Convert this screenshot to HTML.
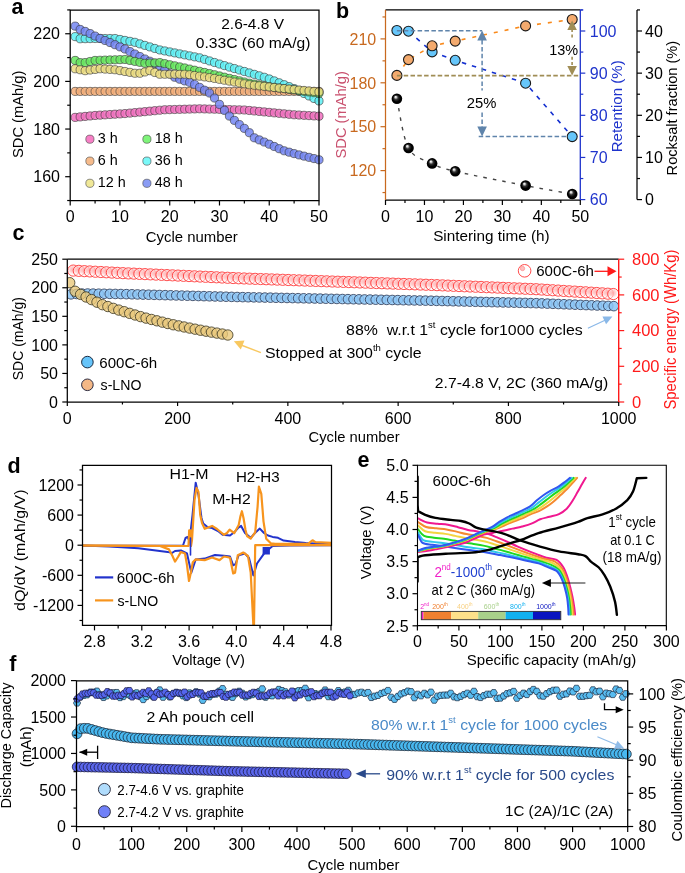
<!DOCTYPE html>
<html><head><meta charset="utf-8"><style>
html,body{margin:0;padding:0;background:#fff;overflow:hidden;}
svg{display:block;will-change:transform;}
text{font-family:"Liberation Sans", sans-serif;}
</style></head><body>
<svg width="685" height="873" viewBox="0 0 685 873">
<defs><radialGradient id="gloss" cx="0.5" cy="0.5" r="0.5" fx="0.36" fy="0.3"><stop offset="0" stop-color="#fff"/><stop offset="0.15" stop-color="#d8d8d8"/><stop offset="0.4" stop-color="#333"/><stop offset="0.7" stop-color="#000"/><stop offset="1" stop-color="#000"/></radialGradient><radialGradient id="bub" cx="0.45" cy="0.4" r="0.6"><stop offset="0" stop-color="#ffa8a8" stop-opacity="0.9"/><stop offset="0.45" stop-color="#ffc8c8" stop-opacity="0.75"/><stop offset="0.8" stop-color="#fff" stop-opacity="0.45"/><stop offset="1" stop-color="#fff" stop-opacity="0.3"/></radialGradient><clipPath id="clipc"><rect x="67.3" y="259.2" width="551.4000000000001" height="142.8"/></clipPath><clipPath id="clipd"><rect x="82.5" y="465.3" width="249.0" height="160.09999999999997"/></clipPath><clipPath id="clipe"><rect x="417.5" y="465.3" width="248.79999999999995" height="160.3"/></clipPath></defs>
<rect width="685" height="873" fill="#fff"/>
<text x="11.50" y="14.00" font-size="21.5" text-anchor="start" font-weight="bold" fill="#000">a</text>
<circle cx="75.18" cy="117.38" r="4.1" fill="#f270c0" fill-opacity="0.85" stroke="#333" stroke-width="0.6"/>
<circle cx="80.15" cy="116.90" r="4.1" fill="#f270c0" fill-opacity="0.85" stroke="#333" stroke-width="0.6"/>
<circle cx="85.13" cy="116.42" r="4.1" fill="#f270c0" fill-opacity="0.85" stroke="#333" stroke-width="0.6"/>
<circle cx="90.10" cy="115.95" r="4.1" fill="#f270c0" fill-opacity="0.85" stroke="#333" stroke-width="0.6"/>
<circle cx="95.08" cy="115.47" r="4.1" fill="#f270c0" fill-opacity="0.85" stroke="#333" stroke-width="0.6"/>
<circle cx="100.06" cy="115.15" r="4.1" fill="#f270c0" fill-opacity="0.85" stroke="#333" stroke-width="0.6"/>
<circle cx="105.03" cy="114.83" r="4.1" fill="#f270c0" fill-opacity="0.85" stroke="#333" stroke-width="0.6"/>
<circle cx="110.01" cy="114.52" r="4.1" fill="#f270c0" fill-opacity="0.85" stroke="#333" stroke-width="0.6"/>
<circle cx="114.98" cy="114.20" r="4.1" fill="#f270c0" fill-opacity="0.85" stroke="#333" stroke-width="0.6"/>
<circle cx="119.96" cy="113.88" r="4.1" fill="#f270c0" fill-opacity="0.85" stroke="#333" stroke-width="0.6"/>
<circle cx="124.94" cy="113.56" r="4.1" fill="#f270c0" fill-opacity="0.85" stroke="#333" stroke-width="0.6"/>
<circle cx="129.91" cy="113.09" r="4.1" fill="#f270c0" fill-opacity="0.85" stroke="#333" stroke-width="0.6"/>
<circle cx="134.89" cy="112.61" r="4.1" fill="#f270c0" fill-opacity="0.85" stroke="#333" stroke-width="0.6"/>
<circle cx="139.86" cy="112.13" r="4.1" fill="#f270c0" fill-opacity="0.85" stroke="#333" stroke-width="0.6"/>
<circle cx="144.84" cy="111.66" r="4.1" fill="#f270c0" fill-opacity="0.85" stroke="#333" stroke-width="0.6"/>
<circle cx="149.82" cy="111.18" r="4.1" fill="#f270c0" fill-opacity="0.85" stroke="#333" stroke-width="0.6"/>
<circle cx="154.79" cy="110.70" r="4.1" fill="#f270c0" fill-opacity="0.85" stroke="#333" stroke-width="0.6"/>
<circle cx="159.77" cy="110.23" r="4.1" fill="#f270c0" fill-opacity="0.85" stroke="#333" stroke-width="0.6"/>
<circle cx="164.74" cy="109.75" r="4.1" fill="#f270c0" fill-opacity="0.85" stroke="#333" stroke-width="0.6"/>
<circle cx="169.72" cy="109.62" r="4.1" fill="#f270c0" fill-opacity="0.85" stroke="#333" stroke-width="0.6"/>
<circle cx="174.70" cy="109.48" r="4.1" fill="#f270c0" fill-opacity="0.85" stroke="#333" stroke-width="0.6"/>
<circle cx="179.67" cy="109.34" r="4.1" fill="#f270c0" fill-opacity="0.85" stroke="#333" stroke-width="0.6"/>
<circle cx="184.65" cy="109.21" r="4.1" fill="#f270c0" fill-opacity="0.85" stroke="#333" stroke-width="0.6"/>
<circle cx="189.62" cy="109.07" r="4.1" fill="#f270c0" fill-opacity="0.85" stroke="#333" stroke-width="0.6"/>
<circle cx="194.60" cy="108.93" r="4.1" fill="#f270c0" fill-opacity="0.85" stroke="#333" stroke-width="0.6"/>
<circle cx="199.58" cy="108.80" r="4.1" fill="#f270c0" fill-opacity="0.85" stroke="#333" stroke-width="0.6"/>
<circle cx="204.55" cy="108.93" r="4.1" fill="#f270c0" fill-opacity="0.85" stroke="#333" stroke-width="0.6"/>
<circle cx="209.53" cy="109.06" r="4.1" fill="#f270c0" fill-opacity="0.85" stroke="#333" stroke-width="0.6"/>
<circle cx="214.50" cy="109.20" r="4.1" fill="#f270c0" fill-opacity="0.85" stroke="#333" stroke-width="0.6"/>
<circle cx="219.48" cy="109.33" r="4.1" fill="#f270c0" fill-opacity="0.85" stroke="#333" stroke-width="0.6"/>
<circle cx="224.46" cy="109.46" r="4.1" fill="#f270c0" fill-opacity="0.85" stroke="#333" stroke-width="0.6"/>
<circle cx="229.43" cy="109.59" r="4.1" fill="#f270c0" fill-opacity="0.85" stroke="#333" stroke-width="0.6"/>
<circle cx="234.41" cy="109.73" r="4.1" fill="#f270c0" fill-opacity="0.85" stroke="#333" stroke-width="0.6"/>
<circle cx="239.38" cy="109.86" r="4.1" fill="#f270c0" fill-opacity="0.85" stroke="#333" stroke-width="0.6"/>
<circle cx="244.36" cy="109.99" r="4.1" fill="#f270c0" fill-opacity="0.85" stroke="#333" stroke-width="0.6"/>
<circle cx="249.34" cy="110.47" r="4.1" fill="#f270c0" fill-opacity="0.85" stroke="#333" stroke-width="0.6"/>
<circle cx="254.31" cy="110.94" r="4.1" fill="#f270c0" fill-opacity="0.85" stroke="#333" stroke-width="0.6"/>
<circle cx="259.29" cy="111.42" r="4.1" fill="#f270c0" fill-opacity="0.85" stroke="#333" stroke-width="0.6"/>
<circle cx="264.26" cy="111.90" r="4.1" fill="#f270c0" fill-opacity="0.85" stroke="#333" stroke-width="0.6"/>
<circle cx="269.24" cy="112.37" r="4.1" fill="#f270c0" fill-opacity="0.85" stroke="#333" stroke-width="0.6"/>
<circle cx="274.22" cy="112.85" r="4.1" fill="#f270c0" fill-opacity="0.85" stroke="#333" stroke-width="0.6"/>
<circle cx="279.19" cy="113.33" r="4.1" fill="#f270c0" fill-opacity="0.85" stroke="#333" stroke-width="0.6"/>
<circle cx="284.17" cy="113.80" r="4.1" fill="#f270c0" fill-opacity="0.85" stroke="#333" stroke-width="0.6"/>
<circle cx="289.14" cy="114.28" r="4.1" fill="#f270c0" fill-opacity="0.85" stroke="#333" stroke-width="0.6"/>
<circle cx="294.12" cy="114.75" r="4.1" fill="#f270c0" fill-opacity="0.85" stroke="#333" stroke-width="0.6"/>
<circle cx="299.10" cy="115.04" r="4.1" fill="#f270c0" fill-opacity="0.85" stroke="#333" stroke-width="0.6"/>
<circle cx="304.07" cy="115.33" r="4.1" fill="#f270c0" fill-opacity="0.85" stroke="#333" stroke-width="0.6"/>
<circle cx="309.05" cy="115.61" r="4.1" fill="#f270c0" fill-opacity="0.85" stroke="#333" stroke-width="0.6"/>
<circle cx="314.02" cy="115.90" r="4.1" fill="#f270c0" fill-opacity="0.85" stroke="#333" stroke-width="0.6"/>
<circle cx="319.00" cy="116.18" r="4.1" fill="#f270c0" fill-opacity="0.85" stroke="#333" stroke-width="0.6"/>
<circle cx="75.18" cy="91.41" r="4.1" fill="#f4ae78" fill-opacity="0.85" stroke="#333" stroke-width="0.6"/>
<circle cx="80.15" cy="91.41" r="4.1" fill="#f4ae78" fill-opacity="0.85" stroke="#333" stroke-width="0.6"/>
<circle cx="85.13" cy="91.41" r="4.1" fill="#f4ae78" fill-opacity="0.85" stroke="#333" stroke-width="0.6"/>
<circle cx="90.10" cy="91.41" r="4.1" fill="#f4ae78" fill-opacity="0.85" stroke="#333" stroke-width="0.6"/>
<circle cx="95.08" cy="91.41" r="4.1" fill="#f4ae78" fill-opacity="0.85" stroke="#333" stroke-width="0.6"/>
<circle cx="100.06" cy="91.41" r="4.1" fill="#f4ae78" fill-opacity="0.85" stroke="#333" stroke-width="0.6"/>
<circle cx="105.03" cy="91.41" r="4.1" fill="#f4ae78" fill-opacity="0.85" stroke="#333" stroke-width="0.6"/>
<circle cx="110.01" cy="91.41" r="4.1" fill="#f4ae78" fill-opacity="0.85" stroke="#333" stroke-width="0.6"/>
<circle cx="114.98" cy="91.41" r="4.1" fill="#f4ae78" fill-opacity="0.85" stroke="#333" stroke-width="0.6"/>
<circle cx="119.96" cy="91.41" r="4.1" fill="#f4ae78" fill-opacity="0.85" stroke="#333" stroke-width="0.6"/>
<circle cx="124.94" cy="91.41" r="4.1" fill="#f4ae78" fill-opacity="0.85" stroke="#333" stroke-width="0.6"/>
<circle cx="129.91" cy="91.41" r="4.1" fill="#f4ae78" fill-opacity="0.85" stroke="#333" stroke-width="0.6"/>
<circle cx="134.89" cy="91.41" r="4.1" fill="#f4ae78" fill-opacity="0.85" stroke="#333" stroke-width="0.6"/>
<circle cx="139.86" cy="91.41" r="4.1" fill="#f4ae78" fill-opacity="0.85" stroke="#333" stroke-width="0.6"/>
<circle cx="144.84" cy="91.41" r="4.1" fill="#f4ae78" fill-opacity="0.85" stroke="#333" stroke-width="0.6"/>
<circle cx="149.82" cy="91.41" r="4.1" fill="#f4ae78" fill-opacity="0.85" stroke="#333" stroke-width="0.6"/>
<circle cx="154.79" cy="91.41" r="4.1" fill="#f4ae78" fill-opacity="0.85" stroke="#333" stroke-width="0.6"/>
<circle cx="159.77" cy="91.41" r="4.1" fill="#f4ae78" fill-opacity="0.85" stroke="#333" stroke-width="0.6"/>
<circle cx="164.74" cy="91.41" r="4.1" fill="#f4ae78" fill-opacity="0.85" stroke="#333" stroke-width="0.6"/>
<circle cx="169.72" cy="91.41" r="4.1" fill="#f4ae78" fill-opacity="0.85" stroke="#333" stroke-width="0.6"/>
<circle cx="174.70" cy="91.41" r="4.1" fill="#f4ae78" fill-opacity="0.85" stroke="#333" stroke-width="0.6"/>
<circle cx="179.67" cy="91.41" r="4.1" fill="#f4ae78" fill-opacity="0.85" stroke="#333" stroke-width="0.6"/>
<circle cx="184.65" cy="91.41" r="4.1" fill="#f4ae78" fill-opacity="0.85" stroke="#333" stroke-width="0.6"/>
<circle cx="189.62" cy="91.41" r="4.1" fill="#f4ae78" fill-opacity="0.85" stroke="#333" stroke-width="0.6"/>
<circle cx="194.60" cy="91.41" r="4.1" fill="#f4ae78" fill-opacity="0.85" stroke="#333" stroke-width="0.6"/>
<circle cx="199.58" cy="91.41" r="4.1" fill="#f4ae78" fill-opacity="0.85" stroke="#333" stroke-width="0.6"/>
<circle cx="204.55" cy="91.41" r="4.1" fill="#f4ae78" fill-opacity="0.85" stroke="#333" stroke-width="0.6"/>
<circle cx="209.53" cy="91.41" r="4.1" fill="#f4ae78" fill-opacity="0.85" stroke="#333" stroke-width="0.6"/>
<circle cx="214.50" cy="91.41" r="4.1" fill="#f4ae78" fill-opacity="0.85" stroke="#333" stroke-width="0.6"/>
<circle cx="219.48" cy="91.41" r="4.1" fill="#f4ae78" fill-opacity="0.85" stroke="#333" stroke-width="0.6"/>
<circle cx="224.46" cy="91.41" r="4.1" fill="#f4ae78" fill-opacity="0.85" stroke="#333" stroke-width="0.6"/>
<circle cx="229.43" cy="91.41" r="4.1" fill="#f4ae78" fill-opacity="0.85" stroke="#333" stroke-width="0.6"/>
<circle cx="234.41" cy="91.41" r="4.1" fill="#f4ae78" fill-opacity="0.85" stroke="#333" stroke-width="0.6"/>
<circle cx="239.38" cy="91.41" r="4.1" fill="#f4ae78" fill-opacity="0.85" stroke="#333" stroke-width="0.6"/>
<circle cx="244.36" cy="91.41" r="4.1" fill="#f4ae78" fill-opacity="0.85" stroke="#333" stroke-width="0.6"/>
<circle cx="249.34" cy="91.41" r="4.1" fill="#f4ae78" fill-opacity="0.85" stroke="#333" stroke-width="0.6"/>
<circle cx="254.31" cy="91.41" r="4.1" fill="#f4ae78" fill-opacity="0.85" stroke="#333" stroke-width="0.6"/>
<circle cx="259.29" cy="91.41" r="4.1" fill="#f4ae78" fill-opacity="0.85" stroke="#333" stroke-width="0.6"/>
<circle cx="264.26" cy="91.41" r="4.1" fill="#f4ae78" fill-opacity="0.85" stroke="#333" stroke-width="0.6"/>
<circle cx="269.24" cy="91.41" r="4.1" fill="#f4ae78" fill-opacity="0.85" stroke="#333" stroke-width="0.6"/>
<circle cx="274.22" cy="91.41" r="4.1" fill="#f4ae78" fill-opacity="0.85" stroke="#333" stroke-width="0.6"/>
<circle cx="279.19" cy="91.41" r="4.1" fill="#f4ae78" fill-opacity="0.85" stroke="#333" stroke-width="0.6"/>
<circle cx="284.17" cy="91.41" r="4.1" fill="#f4ae78" fill-opacity="0.85" stroke="#333" stroke-width="0.6"/>
<circle cx="289.14" cy="91.41" r="4.1" fill="#f4ae78" fill-opacity="0.85" stroke="#333" stroke-width="0.6"/>
<circle cx="294.12" cy="91.41" r="4.1" fill="#f4ae78" fill-opacity="0.85" stroke="#333" stroke-width="0.6"/>
<circle cx="299.10" cy="91.41" r="4.1" fill="#f4ae78" fill-opacity="0.85" stroke="#333" stroke-width="0.6"/>
<circle cx="304.07" cy="91.41" r="4.1" fill="#f4ae78" fill-opacity="0.85" stroke="#333" stroke-width="0.6"/>
<circle cx="309.05" cy="91.41" r="4.1" fill="#f4ae78" fill-opacity="0.85" stroke="#333" stroke-width="0.6"/>
<circle cx="314.02" cy="91.41" r="4.1" fill="#f4ae78" fill-opacity="0.85" stroke="#333" stroke-width="0.6"/>
<circle cx="319.00" cy="91.41" r="4.1" fill="#f4ae78" fill-opacity="0.85" stroke="#333" stroke-width="0.6"/>
<circle cx="75.18" cy="36.61" r="4.1" fill="#5ef0f4" fill-opacity="0.85" stroke="#333" stroke-width="0.6"/>
<circle cx="80.15" cy="38.75" r="4.1" fill="#5ef0f4" fill-opacity="0.85" stroke="#333" stroke-width="0.6"/>
<circle cx="85.13" cy="38.67" r="4.1" fill="#5ef0f4" fill-opacity="0.85" stroke="#333" stroke-width="0.6"/>
<circle cx="90.10" cy="38.59" r="4.1" fill="#5ef0f4" fill-opacity="0.85" stroke="#333" stroke-width="0.6"/>
<circle cx="95.08" cy="38.51" r="4.1" fill="#5ef0f4" fill-opacity="0.85" stroke="#333" stroke-width="0.6"/>
<circle cx="100.06" cy="38.51" r="4.1" fill="#5ef0f4" fill-opacity="0.85" stroke="#333" stroke-width="0.6"/>
<circle cx="105.03" cy="38.51" r="4.1" fill="#5ef0f4" fill-opacity="0.85" stroke="#333" stroke-width="0.6"/>
<circle cx="110.01" cy="38.51" r="4.1" fill="#5ef0f4" fill-opacity="0.85" stroke="#333" stroke-width="0.6"/>
<circle cx="114.98" cy="38.51" r="4.1" fill="#5ef0f4" fill-opacity="0.85" stroke="#333" stroke-width="0.6"/>
<circle cx="119.96" cy="39.47" r="4.1" fill="#5ef0f4" fill-opacity="0.85" stroke="#333" stroke-width="0.6"/>
<circle cx="124.94" cy="40.42" r="4.1" fill="#5ef0f4" fill-opacity="0.85" stroke="#333" stroke-width="0.6"/>
<circle cx="129.91" cy="41.37" r="4.1" fill="#5ef0f4" fill-opacity="0.85" stroke="#333" stroke-width="0.6"/>
<circle cx="134.89" cy="42.33" r="4.1" fill="#5ef0f4" fill-opacity="0.85" stroke="#333" stroke-width="0.6"/>
<circle cx="139.86" cy="43.85" r="4.1" fill="#5ef0f4" fill-opacity="0.85" stroke="#333" stroke-width="0.6"/>
<circle cx="144.84" cy="45.38" r="4.1" fill="#5ef0f4" fill-opacity="0.85" stroke="#333" stroke-width="0.6"/>
<circle cx="149.82" cy="46.90" r="4.1" fill="#5ef0f4" fill-opacity="0.85" stroke="#333" stroke-width="0.6"/>
<circle cx="154.79" cy="48.43" r="4.1" fill="#5ef0f4" fill-opacity="0.85" stroke="#333" stroke-width="0.6"/>
<circle cx="159.77" cy="49.95" r="4.1" fill="#5ef0f4" fill-opacity="0.85" stroke="#333" stroke-width="0.6"/>
<circle cx="164.74" cy="50.93" r="4.1" fill="#5ef0f4" fill-opacity="0.85" stroke="#333" stroke-width="0.6"/>
<circle cx="169.72" cy="51.92" r="4.1" fill="#5ef0f4" fill-opacity="0.85" stroke="#333" stroke-width="0.6"/>
<circle cx="174.70" cy="52.90" r="4.1" fill="#5ef0f4" fill-opacity="0.85" stroke="#333" stroke-width="0.6"/>
<circle cx="179.67" cy="53.88" r="4.1" fill="#5ef0f4" fill-opacity="0.85" stroke="#333" stroke-width="0.6"/>
<circle cx="184.65" cy="54.86" r="4.1" fill="#5ef0f4" fill-opacity="0.85" stroke="#333" stroke-width="0.6"/>
<circle cx="189.62" cy="55.85" r="4.1" fill="#5ef0f4" fill-opacity="0.85" stroke="#333" stroke-width="0.6"/>
<circle cx="194.60" cy="56.83" r="4.1" fill="#5ef0f4" fill-opacity="0.85" stroke="#333" stroke-width="0.6"/>
<circle cx="199.58" cy="57.81" r="4.1" fill="#5ef0f4" fill-opacity="0.85" stroke="#333" stroke-width="0.6"/>
<circle cx="204.55" cy="59.37" r="4.1" fill="#5ef0f4" fill-opacity="0.85" stroke="#333" stroke-width="0.6"/>
<circle cx="209.53" cy="60.93" r="4.1" fill="#5ef0f4" fill-opacity="0.85" stroke="#333" stroke-width="0.6"/>
<circle cx="214.50" cy="62.49" r="4.1" fill="#5ef0f4" fill-opacity="0.85" stroke="#333" stroke-width="0.6"/>
<circle cx="219.48" cy="64.04" r="4.1" fill="#5ef0f4" fill-opacity="0.85" stroke="#333" stroke-width="0.6"/>
<circle cx="224.46" cy="65.60" r="4.1" fill="#5ef0f4" fill-opacity="0.85" stroke="#333" stroke-width="0.6"/>
<circle cx="229.43" cy="67.08" r="4.1" fill="#5ef0f4" fill-opacity="0.85" stroke="#333" stroke-width="0.6"/>
<circle cx="234.41" cy="68.54" r="4.1" fill="#5ef0f4" fill-opacity="0.85" stroke="#333" stroke-width="0.6"/>
<circle cx="239.38" cy="70.00" r="4.1" fill="#5ef0f4" fill-opacity="0.85" stroke="#333" stroke-width="0.6"/>
<circle cx="244.36" cy="71.46" r="4.1" fill="#5ef0f4" fill-opacity="0.85" stroke="#333" stroke-width="0.6"/>
<circle cx="249.34" cy="72.92" r="4.1" fill="#5ef0f4" fill-opacity="0.85" stroke="#333" stroke-width="0.6"/>
<circle cx="254.31" cy="74.36" r="4.1" fill="#5ef0f4" fill-opacity="0.85" stroke="#333" stroke-width="0.6"/>
<circle cx="259.29" cy="75.80" r="4.1" fill="#5ef0f4" fill-opacity="0.85" stroke="#333" stroke-width="0.6"/>
<circle cx="264.26" cy="77.25" r="4.1" fill="#5ef0f4" fill-opacity="0.85" stroke="#333" stroke-width="0.6"/>
<circle cx="269.24" cy="78.97" r="4.1" fill="#5ef0f4" fill-opacity="0.85" stroke="#333" stroke-width="0.6"/>
<circle cx="274.22" cy="80.89" r="4.1" fill="#5ef0f4" fill-opacity="0.85" stroke="#333" stroke-width="0.6"/>
<circle cx="279.19" cy="82.80" r="4.1" fill="#5ef0f4" fill-opacity="0.85" stroke="#333" stroke-width="0.6"/>
<circle cx="284.17" cy="84.72" r="4.1" fill="#5ef0f4" fill-opacity="0.85" stroke="#333" stroke-width="0.6"/>
<circle cx="289.14" cy="86.63" r="4.1" fill="#5ef0f4" fill-opacity="0.85" stroke="#333" stroke-width="0.6"/>
<circle cx="294.12" cy="88.55" r="4.1" fill="#5ef0f4" fill-opacity="0.85" stroke="#333" stroke-width="0.6"/>
<circle cx="299.10" cy="91.03" r="4.1" fill="#5ef0f4" fill-opacity="0.85" stroke="#333" stroke-width="0.6"/>
<circle cx="304.07" cy="93.50" r="4.1" fill="#5ef0f4" fill-opacity="0.85" stroke="#333" stroke-width="0.6"/>
<circle cx="309.05" cy="95.98" r="4.1" fill="#5ef0f4" fill-opacity="0.85" stroke="#333" stroke-width="0.6"/>
<circle cx="314.02" cy="98.46" r="4.1" fill="#5ef0f4" fill-opacity="0.85" stroke="#333" stroke-width="0.6"/>
<circle cx="319.00" cy="100.94" r="4.1" fill="#5ef0f4" fill-opacity="0.85" stroke="#333" stroke-width="0.6"/>
<circle cx="75.18" cy="26.13" r="4.1" fill="#7486f2" fill-opacity="0.85" stroke="#333" stroke-width="0.6"/>
<circle cx="80.15" cy="29.46" r="4.1" fill="#7486f2" fill-opacity="0.85" stroke="#333" stroke-width="0.6"/>
<circle cx="85.13" cy="31.42" r="4.1" fill="#7486f2" fill-opacity="0.85" stroke="#333" stroke-width="0.6"/>
<circle cx="90.10" cy="33.55" r="4.1" fill="#7486f2" fill-opacity="0.85" stroke="#333" stroke-width="0.6"/>
<circle cx="95.08" cy="36.06" r="4.1" fill="#7486f2" fill-opacity="0.85" stroke="#333" stroke-width="0.6"/>
<circle cx="100.06" cy="38.39" r="4.1" fill="#7486f2" fill-opacity="0.85" stroke="#333" stroke-width="0.6"/>
<circle cx="105.03" cy="40.46" r="4.1" fill="#7486f2" fill-opacity="0.85" stroke="#333" stroke-width="0.6"/>
<circle cx="110.01" cy="42.54" r="4.1" fill="#7486f2" fill-opacity="0.85" stroke="#333" stroke-width="0.6"/>
<circle cx="114.98" cy="44.69" r="4.1" fill="#7486f2" fill-opacity="0.85" stroke="#333" stroke-width="0.6"/>
<circle cx="119.96" cy="46.85" r="4.1" fill="#7486f2" fill-opacity="0.85" stroke="#333" stroke-width="0.6"/>
<circle cx="124.94" cy="49.00" r="4.1" fill="#7486f2" fill-opacity="0.85" stroke="#333" stroke-width="0.6"/>
<circle cx="129.91" cy="51.51" r="4.1" fill="#7486f2" fill-opacity="0.85" stroke="#333" stroke-width="0.6"/>
<circle cx="134.89" cy="54.01" r="4.1" fill="#7486f2" fill-opacity="0.85" stroke="#333" stroke-width="0.6"/>
<circle cx="139.86" cy="56.52" r="4.1" fill="#7486f2" fill-opacity="0.85" stroke="#333" stroke-width="0.6"/>
<circle cx="144.84" cy="58.98" r="4.1" fill="#7486f2" fill-opacity="0.85" stroke="#333" stroke-width="0.6"/>
<circle cx="149.82" cy="61.24" r="4.1" fill="#7486f2" fill-opacity="0.85" stroke="#333" stroke-width="0.6"/>
<circle cx="154.79" cy="63.53" r="4.1" fill="#7486f2" fill-opacity="0.85" stroke="#333" stroke-width="0.6"/>
<circle cx="159.77" cy="65.91" r="4.1" fill="#7486f2" fill-opacity="0.85" stroke="#333" stroke-width="0.6"/>
<circle cx="164.74" cy="69.88" r="4.1" fill="#7486f2" fill-opacity="0.85" stroke="#333" stroke-width="0.6"/>
<circle cx="169.72" cy="73.86" r="4.1" fill="#7486f2" fill-opacity="0.85" stroke="#333" stroke-width="0.6"/>
<circle cx="174.70" cy="77.23" r="4.1" fill="#7486f2" fill-opacity="0.85" stroke="#333" stroke-width="0.6"/>
<circle cx="179.67" cy="79.22" r="4.1" fill="#7486f2" fill-opacity="0.85" stroke="#333" stroke-width="0.6"/>
<circle cx="184.65" cy="80.92" r="4.1" fill="#7486f2" fill-opacity="0.85" stroke="#333" stroke-width="0.6"/>
<circle cx="189.62" cy="82.35" r="4.1" fill="#7486f2" fill-opacity="0.85" stroke="#333" stroke-width="0.6"/>
<circle cx="194.60" cy="84.50" r="4.1" fill="#7486f2" fill-opacity="0.85" stroke="#333" stroke-width="0.6"/>
<circle cx="199.58" cy="87.36" r="4.1" fill="#7486f2" fill-opacity="0.85" stroke="#333" stroke-width="0.6"/>
<circle cx="204.55" cy="90.19" r="4.1" fill="#7486f2" fill-opacity="0.85" stroke="#333" stroke-width="0.6"/>
<circle cx="209.53" cy="93.03" r="4.1" fill="#7486f2" fill-opacity="0.85" stroke="#333" stroke-width="0.6"/>
<circle cx="214.50" cy="98.03" r="4.1" fill="#7486f2" fill-opacity="0.85" stroke="#333" stroke-width="0.6"/>
<circle cx="219.48" cy="104.40" r="4.1" fill="#7486f2" fill-opacity="0.85" stroke="#333" stroke-width="0.6"/>
<circle cx="224.46" cy="110.42" r="4.1" fill="#7486f2" fill-opacity="0.85" stroke="#333" stroke-width="0.6"/>
<circle cx="229.43" cy="116.09" r="4.1" fill="#7486f2" fill-opacity="0.85" stroke="#333" stroke-width="0.6"/>
<circle cx="234.41" cy="120.38" r="4.1" fill="#7486f2" fill-opacity="0.85" stroke="#333" stroke-width="0.6"/>
<circle cx="239.38" cy="124.57" r="4.1" fill="#7486f2" fill-opacity="0.85" stroke="#333" stroke-width="0.6"/>
<circle cx="244.36" cy="128.38" r="4.1" fill="#7486f2" fill-opacity="0.85" stroke="#333" stroke-width="0.6"/>
<circle cx="249.34" cy="132.70" r="4.1" fill="#7486f2" fill-opacity="0.85" stroke="#333" stroke-width="0.6"/>
<circle cx="254.31" cy="137.79" r="4.1" fill="#7486f2" fill-opacity="0.85" stroke="#333" stroke-width="0.6"/>
<circle cx="259.29" cy="139.90" r="4.1" fill="#7486f2" fill-opacity="0.85" stroke="#333" stroke-width="0.6"/>
<circle cx="264.26" cy="142.02" r="4.1" fill="#7486f2" fill-opacity="0.85" stroke="#333" stroke-width="0.6"/>
<circle cx="269.24" cy="144.21" r="4.1" fill="#7486f2" fill-opacity="0.85" stroke="#333" stroke-width="0.6"/>
<circle cx="274.22" cy="146.46" r="4.1" fill="#7486f2" fill-opacity="0.85" stroke="#333" stroke-width="0.6"/>
<circle cx="279.19" cy="148.70" r="4.1" fill="#7486f2" fill-opacity="0.85" stroke="#333" stroke-width="0.6"/>
<circle cx="284.17" cy="150.77" r="4.1" fill="#7486f2" fill-opacity="0.85" stroke="#333" stroke-width="0.6"/>
<circle cx="289.14" cy="152.19" r="4.1" fill="#7486f2" fill-opacity="0.85" stroke="#333" stroke-width="0.6"/>
<circle cx="294.12" cy="153.60" r="4.1" fill="#7486f2" fill-opacity="0.85" stroke="#333" stroke-width="0.6"/>
<circle cx="299.10" cy="154.91" r="4.1" fill="#7486f2" fill-opacity="0.85" stroke="#333" stroke-width="0.6"/>
<circle cx="304.07" cy="156.13" r="4.1" fill="#7486f2" fill-opacity="0.85" stroke="#333" stroke-width="0.6"/>
<circle cx="309.05" cy="157.35" r="4.1" fill="#7486f2" fill-opacity="0.85" stroke="#333" stroke-width="0.6"/>
<circle cx="314.02" cy="158.57" r="4.1" fill="#7486f2" fill-opacity="0.85" stroke="#333" stroke-width="0.6"/>
<circle cx="319.00" cy="159.78" r="4.1" fill="#7486f2" fill-opacity="0.85" stroke="#333" stroke-width="0.6"/>
<circle cx="75.18" cy="60.43" r="4.1" fill="#66e85e" fill-opacity="0.85" stroke="#333" stroke-width="0.6"/>
<circle cx="80.15" cy="62.63" r="4.1" fill="#66e85e" fill-opacity="0.85" stroke="#333" stroke-width="0.6"/>
<circle cx="85.13" cy="62.55" r="4.1" fill="#66e85e" fill-opacity="0.85" stroke="#333" stroke-width="0.6"/>
<circle cx="90.10" cy="61.49" r="4.1" fill="#66e85e" fill-opacity="0.85" stroke="#333" stroke-width="0.6"/>
<circle cx="95.08" cy="60.43" r="4.1" fill="#66e85e" fill-opacity="0.85" stroke="#333" stroke-width="0.6"/>
<circle cx="100.06" cy="60.28" r="4.1" fill="#66e85e" fill-opacity="0.85" stroke="#333" stroke-width="0.6"/>
<circle cx="105.03" cy="60.12" r="4.1" fill="#66e85e" fill-opacity="0.85" stroke="#333" stroke-width="0.6"/>
<circle cx="110.01" cy="59.96" r="4.1" fill="#66e85e" fill-opacity="0.85" stroke="#333" stroke-width="0.6"/>
<circle cx="114.98" cy="59.80" r="4.1" fill="#66e85e" fill-opacity="0.85" stroke="#333" stroke-width="0.6"/>
<circle cx="119.96" cy="59.64" r="4.1" fill="#66e85e" fill-opacity="0.85" stroke="#333" stroke-width="0.6"/>
<circle cx="124.94" cy="59.48" r="4.1" fill="#66e85e" fill-opacity="0.85" stroke="#333" stroke-width="0.6"/>
<circle cx="129.91" cy="60.43" r="4.1" fill="#66e85e" fill-opacity="0.85" stroke="#333" stroke-width="0.6"/>
<circle cx="134.89" cy="61.39" r="4.1" fill="#66e85e" fill-opacity="0.85" stroke="#333" stroke-width="0.6"/>
<circle cx="139.86" cy="62.34" r="4.1" fill="#66e85e" fill-opacity="0.85" stroke="#333" stroke-width="0.6"/>
<circle cx="144.84" cy="63.29" r="4.1" fill="#66e85e" fill-opacity="0.85" stroke="#333" stroke-width="0.6"/>
<circle cx="149.82" cy="63.05" r="4.1" fill="#66e85e" fill-opacity="0.85" stroke="#333" stroke-width="0.6"/>
<circle cx="154.79" cy="62.82" r="4.1" fill="#66e85e" fill-opacity="0.85" stroke="#333" stroke-width="0.6"/>
<circle cx="159.77" cy="62.58" r="4.1" fill="#66e85e" fill-opacity="0.85" stroke="#333" stroke-width="0.6"/>
<circle cx="164.74" cy="63.66" r="4.1" fill="#66e85e" fill-opacity="0.85" stroke="#333" stroke-width="0.6"/>
<circle cx="169.72" cy="64.74" r="4.1" fill="#66e85e" fill-opacity="0.85" stroke="#333" stroke-width="0.6"/>
<circle cx="174.70" cy="65.81" r="4.1" fill="#66e85e" fill-opacity="0.85" stroke="#333" stroke-width="0.6"/>
<circle cx="179.67" cy="66.89" r="4.1" fill="#66e85e" fill-opacity="0.85" stroke="#333" stroke-width="0.6"/>
<circle cx="184.65" cy="67.97" r="4.1" fill="#66e85e" fill-opacity="0.85" stroke="#333" stroke-width="0.6"/>
<circle cx="189.62" cy="69.08" r="4.1" fill="#66e85e" fill-opacity="0.85" stroke="#333" stroke-width="0.6"/>
<circle cx="194.60" cy="70.21" r="4.1" fill="#66e85e" fill-opacity="0.85" stroke="#333" stroke-width="0.6"/>
<circle cx="199.58" cy="71.33" r="4.1" fill="#66e85e" fill-opacity="0.85" stroke="#333" stroke-width="0.6"/>
<circle cx="204.55" cy="72.45" r="4.1" fill="#66e85e" fill-opacity="0.85" stroke="#333" stroke-width="0.6"/>
<circle cx="209.53" cy="73.58" r="4.1" fill="#66e85e" fill-opacity="0.85" stroke="#333" stroke-width="0.6"/>
<circle cx="214.50" cy="74.74" r="4.1" fill="#66e85e" fill-opacity="0.85" stroke="#333" stroke-width="0.6"/>
<circle cx="219.48" cy="75.94" r="4.1" fill="#66e85e" fill-opacity="0.85" stroke="#333" stroke-width="0.6"/>
<circle cx="224.46" cy="77.15" r="4.1" fill="#66e85e" fill-opacity="0.85" stroke="#333" stroke-width="0.6"/>
<circle cx="229.43" cy="78.36" r="4.1" fill="#66e85e" fill-opacity="0.85" stroke="#333" stroke-width="0.6"/>
<circle cx="234.41" cy="79.56" r="4.1" fill="#66e85e" fill-opacity="0.85" stroke="#333" stroke-width="0.6"/>
<circle cx="239.38" cy="80.77" r="4.1" fill="#66e85e" fill-opacity="0.85" stroke="#333" stroke-width="0.6"/>
<circle cx="244.36" cy="81.98" r="4.1" fill="#66e85e" fill-opacity="0.85" stroke="#333" stroke-width="0.6"/>
<circle cx="249.34" cy="83.19" r="4.1" fill="#66e85e" fill-opacity="0.85" stroke="#333" stroke-width="0.6"/>
<circle cx="254.31" cy="84.08" r="4.1" fill="#66e85e" fill-opacity="0.85" stroke="#333" stroke-width="0.6"/>
<circle cx="259.29" cy="84.93" r="4.1" fill="#66e85e" fill-opacity="0.85" stroke="#333" stroke-width="0.6"/>
<circle cx="264.26" cy="85.79" r="4.1" fill="#66e85e" fill-opacity="0.85" stroke="#333" stroke-width="0.6"/>
<circle cx="269.24" cy="86.64" r="4.1" fill="#66e85e" fill-opacity="0.85" stroke="#333" stroke-width="0.6"/>
<circle cx="274.22" cy="87.31" r="4.1" fill="#66e85e" fill-opacity="0.85" stroke="#333" stroke-width="0.6"/>
<circle cx="279.19" cy="87.98" r="4.1" fill="#66e85e" fill-opacity="0.85" stroke="#333" stroke-width="0.6"/>
<circle cx="284.17" cy="88.64" r="4.1" fill="#66e85e" fill-opacity="0.85" stroke="#333" stroke-width="0.6"/>
<circle cx="289.14" cy="89.31" r="4.1" fill="#66e85e" fill-opacity="0.85" stroke="#333" stroke-width="0.6"/>
<circle cx="294.12" cy="89.98" r="4.1" fill="#66e85e" fill-opacity="0.85" stroke="#333" stroke-width="0.6"/>
<circle cx="299.10" cy="90.64" r="4.1" fill="#66e85e" fill-opacity="0.85" stroke="#333" stroke-width="0.6"/>
<circle cx="304.07" cy="91.31" r="4.1" fill="#66e85e" fill-opacity="0.85" stroke="#333" stroke-width="0.6"/>
<circle cx="309.05" cy="91.98" r="4.1" fill="#66e85e" fill-opacity="0.85" stroke="#333" stroke-width="0.6"/>
<circle cx="314.02" cy="92.65" r="4.1" fill="#66e85e" fill-opacity="0.85" stroke="#333" stroke-width="0.6"/>
<circle cx="319.00" cy="93.31" r="4.1" fill="#66e85e" fill-opacity="0.85" stroke="#333" stroke-width="0.6"/>
<circle cx="75.18" cy="68.77" r="4.1" fill="#ebdc80" fill-opacity="0.85" stroke="#333" stroke-width="0.6"/>
<circle cx="80.15" cy="69.73" r="4.1" fill="#ebdc80" fill-opacity="0.85" stroke="#333" stroke-width="0.6"/>
<circle cx="85.13" cy="70.68" r="4.1" fill="#ebdc80" fill-opacity="0.85" stroke="#333" stroke-width="0.6"/>
<circle cx="90.10" cy="70.04" r="4.1" fill="#ebdc80" fill-opacity="0.85" stroke="#333" stroke-width="0.6"/>
<circle cx="95.08" cy="69.41" r="4.1" fill="#ebdc80" fill-opacity="0.85" stroke="#333" stroke-width="0.6"/>
<circle cx="100.06" cy="68.77" r="4.1" fill="#ebdc80" fill-opacity="0.85" stroke="#333" stroke-width="0.6"/>
<circle cx="105.03" cy="69.09" r="4.1" fill="#ebdc80" fill-opacity="0.85" stroke="#333" stroke-width="0.6"/>
<circle cx="110.01" cy="69.41" r="4.1" fill="#ebdc80" fill-opacity="0.85" stroke="#333" stroke-width="0.6"/>
<circle cx="114.98" cy="69.73" r="4.1" fill="#ebdc80" fill-opacity="0.85" stroke="#333" stroke-width="0.6"/>
<circle cx="119.96" cy="70.61" r="4.1" fill="#ebdc80" fill-opacity="0.85" stroke="#333" stroke-width="0.6"/>
<circle cx="124.94" cy="71.49" r="4.1" fill="#ebdc80" fill-opacity="0.85" stroke="#333" stroke-width="0.6"/>
<circle cx="129.91" cy="72.37" r="4.1" fill="#ebdc80" fill-opacity="0.85" stroke="#333" stroke-width="0.6"/>
<circle cx="134.89" cy="73.25" r="4.1" fill="#ebdc80" fill-opacity="0.85" stroke="#333" stroke-width="0.6"/>
<circle cx="139.86" cy="73.26" r="4.1" fill="#ebdc80" fill-opacity="0.85" stroke="#333" stroke-width="0.6"/>
<circle cx="144.84" cy="71.97" r="4.1" fill="#ebdc80" fill-opacity="0.85" stroke="#333" stroke-width="0.6"/>
<circle cx="149.82" cy="70.68" r="4.1" fill="#ebdc80" fill-opacity="0.85" stroke="#333" stroke-width="0.6"/>
<circle cx="154.79" cy="72.47" r="4.1" fill="#ebdc80" fill-opacity="0.85" stroke="#333" stroke-width="0.6"/>
<circle cx="159.77" cy="74.25" r="4.1" fill="#ebdc80" fill-opacity="0.85" stroke="#333" stroke-width="0.6"/>
<circle cx="164.74" cy="74.25" r="4.1" fill="#ebdc80" fill-opacity="0.85" stroke="#333" stroke-width="0.6"/>
<circle cx="169.72" cy="74.25" r="4.1" fill="#ebdc80" fill-opacity="0.85" stroke="#333" stroke-width="0.6"/>
<circle cx="174.70" cy="74.25" r="4.1" fill="#ebdc80" fill-opacity="0.85" stroke="#333" stroke-width="0.6"/>
<circle cx="179.67" cy="74.25" r="4.1" fill="#ebdc80" fill-opacity="0.85" stroke="#333" stroke-width="0.6"/>
<circle cx="184.65" cy="74.25" r="4.1" fill="#ebdc80" fill-opacity="0.85" stroke="#333" stroke-width="0.6"/>
<circle cx="189.62" cy="74.76" r="4.1" fill="#ebdc80" fill-opacity="0.85" stroke="#333" stroke-width="0.6"/>
<circle cx="194.60" cy="75.48" r="4.1" fill="#ebdc80" fill-opacity="0.85" stroke="#333" stroke-width="0.6"/>
<circle cx="199.58" cy="76.19" r="4.1" fill="#ebdc80" fill-opacity="0.85" stroke="#333" stroke-width="0.6"/>
<circle cx="204.55" cy="76.91" r="4.1" fill="#ebdc80" fill-opacity="0.85" stroke="#333" stroke-width="0.6"/>
<circle cx="209.53" cy="77.63" r="4.1" fill="#ebdc80" fill-opacity="0.85" stroke="#333" stroke-width="0.6"/>
<circle cx="214.50" cy="78.43" r="4.1" fill="#ebdc80" fill-opacity="0.85" stroke="#333" stroke-width="0.6"/>
<circle cx="219.48" cy="79.33" r="4.1" fill="#ebdc80" fill-opacity="0.85" stroke="#333" stroke-width="0.6"/>
<circle cx="224.46" cy="80.23" r="4.1" fill="#ebdc80" fill-opacity="0.85" stroke="#333" stroke-width="0.6"/>
<circle cx="229.43" cy="81.13" r="4.1" fill="#ebdc80" fill-opacity="0.85" stroke="#333" stroke-width="0.6"/>
<circle cx="234.41" cy="82.03" r="4.1" fill="#ebdc80" fill-opacity="0.85" stroke="#333" stroke-width="0.6"/>
<circle cx="239.38" cy="82.93" r="4.1" fill="#ebdc80" fill-opacity="0.85" stroke="#333" stroke-width="0.6"/>
<circle cx="244.36" cy="83.83" r="4.1" fill="#ebdc80" fill-opacity="0.85" stroke="#333" stroke-width="0.6"/>
<circle cx="249.34" cy="84.74" r="4.1" fill="#ebdc80" fill-opacity="0.85" stroke="#333" stroke-width="0.6"/>
<circle cx="254.31" cy="85.29" r="4.1" fill="#ebdc80" fill-opacity="0.85" stroke="#333" stroke-width="0.6"/>
<circle cx="259.29" cy="85.85" r="4.1" fill="#ebdc80" fill-opacity="0.85" stroke="#333" stroke-width="0.6"/>
<circle cx="264.26" cy="86.40" r="4.1" fill="#ebdc80" fill-opacity="0.85" stroke="#333" stroke-width="0.6"/>
<circle cx="269.24" cy="86.96" r="4.1" fill="#ebdc80" fill-opacity="0.85" stroke="#333" stroke-width="0.6"/>
<circle cx="274.22" cy="87.52" r="4.1" fill="#ebdc80" fill-opacity="0.85" stroke="#333" stroke-width="0.6"/>
<circle cx="279.19" cy="88.07" r="4.1" fill="#ebdc80" fill-opacity="0.85" stroke="#333" stroke-width="0.6"/>
<circle cx="284.17" cy="88.55" r="4.1" fill="#ebdc80" fill-opacity="0.85" stroke="#333" stroke-width="0.6"/>
<circle cx="289.14" cy="89.02" r="4.1" fill="#ebdc80" fill-opacity="0.85" stroke="#333" stroke-width="0.6"/>
<circle cx="294.12" cy="89.50" r="4.1" fill="#ebdc80" fill-opacity="0.85" stroke="#333" stroke-width="0.6"/>
<circle cx="299.10" cy="89.98" r="4.1" fill="#ebdc80" fill-opacity="0.85" stroke="#333" stroke-width="0.6"/>
<circle cx="304.07" cy="90.45" r="4.1" fill="#ebdc80" fill-opacity="0.85" stroke="#333" stroke-width="0.6"/>
<circle cx="309.05" cy="90.93" r="4.1" fill="#ebdc80" fill-opacity="0.85" stroke="#333" stroke-width="0.6"/>
<circle cx="314.02" cy="91.41" r="4.1" fill="#ebdc80" fill-opacity="0.85" stroke="#333" stroke-width="0.6"/>
<circle cx="319.00" cy="91.88" r="4.1" fill="#ebdc80" fill-opacity="0.85" stroke="#333" stroke-width="0.6"/>
<path d="M70.2,10.2 H319.0 V200.5 H70.2 Z" stroke="#000" stroke-width="1.25" fill="none"/>
<line x1="70.20" y1="200.52" x2="67.20" y2="200.52" stroke="#000" stroke-width="1.2"/>
<line x1="70.20" y1="152.88" x2="67.20" y2="152.88" stroke="#000" stroke-width="1.2"/>
<line x1="70.20" y1="105.22" x2="67.20" y2="105.22" stroke="#000" stroke-width="1.2"/>
<line x1="70.20" y1="57.58" x2="67.20" y2="57.58" stroke="#000" stroke-width="1.2"/>
<line x1="70.20" y1="9.93" x2="67.20" y2="9.93" stroke="#000" stroke-width="1.2"/>
<line x1="70.20" y1="176.70" x2="65.20" y2="176.70" stroke="#000" stroke-width="1.2"/>
<text x="60.00" y="182.40" font-size="16" text-anchor="end" font-weight="normal" fill="#000">160</text>
<line x1="70.20" y1="129.05" x2="65.20" y2="129.05" stroke="#000" stroke-width="1.2"/>
<text x="60.00" y="134.75" font-size="16" text-anchor="end" font-weight="normal" fill="#000">180</text>
<line x1="70.20" y1="81.40" x2="65.20" y2="81.40" stroke="#000" stroke-width="1.2"/>
<text x="60.00" y="87.10" font-size="16" text-anchor="end" font-weight="normal" fill="#000">200</text>
<line x1="70.20" y1="33.75" x2="65.20" y2="33.75" stroke="#000" stroke-width="1.2"/>
<text x="60.00" y="39.45" font-size="16" text-anchor="end" font-weight="normal" fill="#000">220</text>
<line x1="95.08" y1="200.50" x2="95.08" y2="203.50" stroke="#000" stroke-width="1.2"/>
<line x1="144.84" y1="200.50" x2="144.84" y2="203.50" stroke="#000" stroke-width="1.2"/>
<line x1="194.60" y1="200.50" x2="194.60" y2="203.50" stroke="#000" stroke-width="1.2"/>
<line x1="244.36" y1="200.50" x2="244.36" y2="203.50" stroke="#000" stroke-width="1.2"/>
<line x1="294.12" y1="200.50" x2="294.12" y2="203.50" stroke="#000" stroke-width="1.2"/>
<line x1="70.20" y1="200.50" x2="70.20" y2="205.50" stroke="#000" stroke-width="1.2"/>
<text x="70.20" y="222.40" font-size="16" text-anchor="middle" font-weight="normal" fill="#000">0</text>
<line x1="119.96" y1="200.50" x2="119.96" y2="205.50" stroke="#000" stroke-width="1.2"/>
<text x="119.96" y="222.40" font-size="16" text-anchor="middle" font-weight="normal" fill="#000">10</text>
<line x1="169.72" y1="200.50" x2="169.72" y2="205.50" stroke="#000" stroke-width="1.2"/>
<text x="169.72" y="222.40" font-size="16" text-anchor="middle" font-weight="normal" fill="#000">20</text>
<line x1="219.48" y1="200.50" x2="219.48" y2="205.50" stroke="#000" stroke-width="1.2"/>
<text x="219.48" y="222.40" font-size="16" text-anchor="middle" font-weight="normal" fill="#000">30</text>
<line x1="269.24" y1="200.50" x2="269.24" y2="205.50" stroke="#000" stroke-width="1.2"/>
<text x="269.24" y="222.40" font-size="16" text-anchor="middle" font-weight="normal" fill="#000">40</text>
<line x1="319.00" y1="200.50" x2="319.00" y2="205.50" stroke="#000" stroke-width="1.2"/>
<text x="319.00" y="222.40" font-size="16" text-anchor="middle" font-weight="normal" fill="#000">50</text>
<text x="23.30" y="114.30" font-size="14.2" text-anchor="middle" font-weight="normal" fill="#000" transform="rotate(-90 23.30 114.30)" textLength="87.5" lengthAdjust="spacingAndGlyphs">SDC (mAh/g)</text>
<text x="191.80" y="242.00" font-size="15" text-anchor="middle" font-weight="normal" fill="#000" textLength="92" lengthAdjust="spacingAndGlyphs">Cycle number</text>
<text x="252.60" y="28.70" font-size="15.4" text-anchor="middle" font-weight="normal" fill="#000" textLength="62.7" lengthAdjust="spacingAndGlyphs">2.6-4.8 V</text>
<text x="253.10" y="48.00" font-size="15.4" text-anchor="middle" font-weight="normal" fill="#000" textLength="114.8" lengthAdjust="spacingAndGlyphs">0.33C (60 mA/g)</text>
<circle cx="89.90" cy="139.20" r="4.1" fill="#f780c6" fill-opacity="1.0" stroke="#444" stroke-width="0.6"/>
<text x="97.70" y="143.00" font-size="14.4" text-anchor="start" font-weight="normal" fill="#000">3 h</text>
<circle cx="89.90" cy="161.10" r="4.1" fill="#f6bb8c" fill-opacity="1.0" stroke="#444" stroke-width="0.6"/>
<text x="97.70" y="164.90" font-size="14.4" text-anchor="start" font-weight="normal" fill="#000">6 h</text>
<circle cx="89.90" cy="183.30" r="4.1" fill="#f0e898" fill-opacity="1.0" stroke="#444" stroke-width="0.6"/>
<text x="97.70" y="187.10" font-size="14.4" text-anchor="start" font-weight="normal" fill="#000">12 h</text>
<circle cx="146.90" cy="139.20" r="4.1" fill="#7ff47a" fill-opacity="1.0" stroke="#444" stroke-width="0.6"/>
<text x="154.70" y="143.00" font-size="14.4" text-anchor="start" font-weight="normal" fill="#000">18 h</text>
<circle cx="146.90" cy="161.10" r="4.1" fill="#7af8f8" fill-opacity="1.0" stroke="#444" stroke-width="0.6"/>
<text x="154.70" y="164.90" font-size="14.4" text-anchor="start" font-weight="normal" fill="#000">36 h</text>
<circle cx="146.90" cy="183.30" r="4.1" fill="#8a9cf4" fill-opacity="1.0" stroke="#444" stroke-width="0.6"/>
<text x="154.70" y="187.10" font-size="14.4" text-anchor="start" font-weight="normal" fill="#000">48 h</text>
<text x="336.00" y="17.50" font-size="21.5" text-anchor="start" font-weight="bold" fill="#000">b</text>
<path d="M408.50,31.20 L432.10,51.90 L455.20,60.30 L525.60,83.20 L572.20,136.60" stroke="#1530d0" stroke-width="1.6" fill="none" stroke-dasharray="4.5 6"/>
<path d="M396.90,75.40 L408.50,59.60 L432.10,45.80 L455.20,41.10 L525.60,25.90 L572.20,19.50 L580.30,18.50" stroke="#f98a1c" stroke-width="1.6" fill="none" stroke-dasharray="4 7"/>
<path d="M396.90,98.80 C398.83,107.00 402.63,137.23 408.50,148.00 C414.37,158.77 424.32,159.52 432.10,163.40 C439.88,167.28 439.62,167.60 455.20,171.30 C470.78,175.00 506.10,181.82 525.60,185.60 C545.10,189.38 564.43,192.60 572.20,194.00" stroke="#444" stroke-width="1.4" fill="none" stroke-dasharray="3.5 6"/>
<circle cx="396.90" cy="30.50" r="5.0" fill="#66c6fa" fill-opacity="1.0" stroke="#1a1a1a" stroke-width="1.1"/>
<circle cx="408.50" cy="31.20" r="5.0" fill="#66c6fa" fill-opacity="1.0" stroke="#1a1a1a" stroke-width="1.1"/>
<circle cx="432.10" cy="51.90" r="5.0" fill="#66c6fa" fill-opacity="1.0" stroke="#1a1a1a" stroke-width="1.1"/>
<circle cx="455.20" cy="60.30" r="5.0" fill="#66c6fa" fill-opacity="1.0" stroke="#1a1a1a" stroke-width="1.1"/>
<circle cx="525.60" cy="83.20" r="5.0" fill="#66c6fa" fill-opacity="1.0" stroke="#1a1a1a" stroke-width="1.1"/>
<circle cx="572.20" cy="136.60" r="5.0" fill="#66c6fa" fill-opacity="1.0" stroke="#1a1a1a" stroke-width="1.1"/>
<circle cx="396.90" cy="75.40" r="5.0" fill="#f3aa6e" fill-opacity="1.0" stroke="#1a1a1a" stroke-width="1.1"/>
<circle cx="408.50" cy="59.60" r="5.0" fill="#f3aa6e" fill-opacity="1.0" stroke="#1a1a1a" stroke-width="1.1"/>
<circle cx="432.10" cy="45.80" r="5.0" fill="#f3aa6e" fill-opacity="1.0" stroke="#1a1a1a" stroke-width="1.1"/>
<circle cx="455.20" cy="41.10" r="5.0" fill="#f3aa6e" fill-opacity="1.0" stroke="#1a1a1a" stroke-width="1.1"/>
<circle cx="525.60" cy="25.90" r="5.0" fill="#f3aa6e" fill-opacity="1.0" stroke="#1a1a1a" stroke-width="1.1"/>
<circle cx="572.20" cy="19.50" r="5.0" fill="#f3aa6e" fill-opacity="1.0" stroke="#1a1a1a" stroke-width="1.1"/>
<circle cx="396.90" cy="98.80" r="5.3" fill="url(#gloss)" fill-opacity="1.0" stroke="none" stroke-width="0"/>
<circle cx="408.50" cy="148.00" r="5.3" fill="url(#gloss)" fill-opacity="1.0" stroke="none" stroke-width="0"/>
<circle cx="432.10" cy="163.40" r="5.3" fill="url(#gloss)" fill-opacity="1.0" stroke="none" stroke-width="0"/>
<circle cx="455.20" cy="171.30" r="5.3" fill="url(#gloss)" fill-opacity="1.0" stroke="none" stroke-width="0"/>
<circle cx="525.60" cy="185.60" r="5.3" fill="url(#gloss)" fill-opacity="1.0" stroke="none" stroke-width="0"/>
<circle cx="572.20" cy="194.00" r="5.3" fill="url(#gloss)" fill-opacity="1.0" stroke="none" stroke-width="0"/>
<line x1="396.90" y1="30.70" x2="482.10" y2="30.70" stroke="#5f84ab" stroke-width="1.5" stroke-dasharray="4.5 2.4"/>
<line x1="482.10" y1="40.00" x2="482.10" y2="90.40" stroke="#5f84ab" stroke-width="1.5" stroke-dasharray="4.5 2.4"/>
<line x1="482.10" y1="112.60" x2="482.10" y2="127.00" stroke="#5f84ab" stroke-width="1.5" stroke-dasharray="4.5 2.4"/>
<path d="M482.10,30.50 L486.90,40.50 L477.30,40.50 Z" fill="#5f84ab" stroke="none"/>
<path d="M482.10,136.50 L477.30,126.50 L486.90,126.50 Z" fill="#5f84ab" stroke="none"/>
<line x1="478.70" y1="136.60" x2="567.00" y2="136.60" stroke="#5f84ab" stroke-width="1.5" stroke-dasharray="4.5 2.4"/>
<line x1="396.90" y1="75.70" x2="581.00" y2="75.70" stroke="#a08d55" stroke-width="1.8" stroke-dasharray="4.5 2.3"/>
<line x1="572.10" y1="29.00" x2="572.10" y2="39.30" stroke="#a08d55" stroke-width="1.6" stroke-dasharray="3 2.4"/>
<line x1="572.10" y1="56.70" x2="572.10" y2="66.00" stroke="#a08d55" stroke-width="1.6" stroke-dasharray="3 2.4"/>
<path d="M572.10,20.50 L576.90,30.00 L567.30,30.00 Z" fill="#a08d55" stroke="none"/>
<path d="M572.10,75.50 L567.30,66.00 L576.90,66.00 Z" fill="#a08d55" stroke="none"/>
<text x="481.60" y="108.10" font-size="15.5" text-anchor="middle" font-weight="normal" fill="#000" textLength="29.6" lengthAdjust="spacingAndGlyphs">25%</text>
<text x="563.60" y="54.90" font-size="15.5" text-anchor="middle" font-weight="normal" fill="#000" textLength="28.9" lengthAdjust="spacingAndGlyphs">13%</text>
<line x1="385.50" y1="9.90" x2="580.30" y2="9.90" stroke="#000" stroke-width="1.25"/>
<line x1="385.50" y1="200.00" x2="580.30" y2="200.00" stroke="#000" stroke-width="1.25"/>
<line x1="385.50" y1="9.90" x2="385.50" y2="200.00" stroke="#c8691f" stroke-width="1.25"/>
<line x1="580.30" y1="9.90" x2="580.30" y2="200.00" stroke="#1f34cc" stroke-width="1.3"/>
<line x1="637.00" y1="9.90" x2="637.00" y2="199.60" stroke="#000" stroke-width="1.25"/>
<line x1="385.50" y1="192.55" x2="382.50" y2="192.55" stroke="#c8691f" stroke-width="1.2"/>
<line x1="385.50" y1="148.65" x2="382.50" y2="148.65" stroke="#c8691f" stroke-width="1.2"/>
<line x1="385.50" y1="104.75" x2="382.50" y2="104.75" stroke="#c8691f" stroke-width="1.2"/>
<line x1="385.50" y1="60.85" x2="382.50" y2="60.85" stroke="#c8691f" stroke-width="1.2"/>
<line x1="385.50" y1="16.95" x2="382.50" y2="16.95" stroke="#c8691f" stroke-width="1.2"/>
<line x1="385.50" y1="170.60" x2="380.50" y2="170.60" stroke="#c8691f" stroke-width="1.2"/>
<text x="376.20" y="176.30" font-size="16" text-anchor="end" font-weight="normal" fill="#c8691f">120</text>
<line x1="385.50" y1="126.70" x2="380.50" y2="126.70" stroke="#c8691f" stroke-width="1.2"/>
<text x="376.20" y="132.40" font-size="16" text-anchor="end" font-weight="normal" fill="#c8691f">150</text>
<line x1="385.50" y1="82.80" x2="380.50" y2="82.80" stroke="#c8691f" stroke-width="1.2"/>
<text x="376.20" y="88.50" font-size="16" text-anchor="end" font-weight="normal" fill="#c8691f">180</text>
<line x1="385.50" y1="38.90" x2="380.50" y2="38.90" stroke="#c8691f" stroke-width="1.2"/>
<text x="376.20" y="44.60" font-size="16" text-anchor="end" font-weight="normal" fill="#c8691f">210</text>
<line x1="580.30" y1="178.53" x2="583.30" y2="178.53" stroke="#1f34cc" stroke-width="1.2"/>
<line x1="580.30" y1="136.38" x2="583.30" y2="136.38" stroke="#1f34cc" stroke-width="1.2"/>
<line x1="580.30" y1="94.22" x2="583.30" y2="94.22" stroke="#1f34cc" stroke-width="1.2"/>
<line x1="580.30" y1="52.07" x2="583.30" y2="52.07" stroke="#1f34cc" stroke-width="1.2"/>
<line x1="580.30" y1="9.93" x2="583.30" y2="9.93" stroke="#1f34cc" stroke-width="1.2"/>
<line x1="580.30" y1="199.60" x2="585.30" y2="199.60" stroke="#1f34cc" stroke-width="1.2"/>
<text x="589.80" y="205.30" font-size="16" text-anchor="start" font-weight="normal" fill="#1f34cc">60</text>
<line x1="580.30" y1="157.45" x2="585.30" y2="157.45" stroke="#1f34cc" stroke-width="1.2"/>
<text x="589.80" y="163.15" font-size="16" text-anchor="start" font-weight="normal" fill="#1f34cc">70</text>
<line x1="580.30" y1="115.30" x2="585.30" y2="115.30" stroke="#1f34cc" stroke-width="1.2"/>
<text x="589.80" y="121.00" font-size="16" text-anchor="start" font-weight="normal" fill="#1f34cc">80</text>
<line x1="580.30" y1="73.15" x2="585.30" y2="73.15" stroke="#1f34cc" stroke-width="1.2"/>
<text x="589.80" y="78.85" font-size="16" text-anchor="start" font-weight="normal" fill="#1f34cc">90</text>
<line x1="580.30" y1="31.00" x2="585.30" y2="31.00" stroke="#1f34cc" stroke-width="1.2"/>
<text x="589.80" y="36.70" font-size="16" text-anchor="start" font-weight="normal" fill="#1f34cc">100</text>
<line x1="637.00" y1="178.53" x2="640.00" y2="178.53" stroke="#000" stroke-width="1.2"/>
<line x1="637.00" y1="136.38" x2="640.00" y2="136.38" stroke="#000" stroke-width="1.2"/>
<line x1="637.00" y1="94.22" x2="640.00" y2="94.22" stroke="#000" stroke-width="1.2"/>
<line x1="637.00" y1="52.07" x2="640.00" y2="52.07" stroke="#000" stroke-width="1.2"/>
<line x1="637.00" y1="9.93" x2="640.00" y2="9.93" stroke="#000" stroke-width="1.2"/>
<line x1="637.00" y1="199.60" x2="642.00" y2="199.60" stroke="#000" stroke-width="1.2"/>
<text x="645.00" y="205.30" font-size="16" text-anchor="start" font-weight="normal" fill="#000">0</text>
<line x1="637.00" y1="157.45" x2="642.00" y2="157.45" stroke="#000" stroke-width="1.2"/>
<text x="645.00" y="163.15" font-size="16" text-anchor="start" font-weight="normal" fill="#000">10</text>
<line x1="637.00" y1="115.30" x2="642.00" y2="115.30" stroke="#000" stroke-width="1.2"/>
<text x="645.00" y="121.00" font-size="16" text-anchor="start" font-weight="normal" fill="#000">20</text>
<line x1="637.00" y1="73.15" x2="642.00" y2="73.15" stroke="#000" stroke-width="1.2"/>
<text x="645.00" y="78.85" font-size="16" text-anchor="start" font-weight="normal" fill="#000">30</text>
<line x1="637.00" y1="31.00" x2="642.00" y2="31.00" stroke="#000" stroke-width="1.2"/>
<text x="645.00" y="36.70" font-size="16" text-anchor="start" font-weight="normal" fill="#000">40</text>
<line x1="580.30" y1="9.90" x2="582.80" y2="9.90" stroke="#1f34cc" stroke-width="1.2"/>
<line x1="404.98" y1="200.00" x2="404.98" y2="203.00" stroke="#000" stroke-width="1.2"/>
<line x1="443.94" y1="200.00" x2="443.94" y2="203.00" stroke="#000" stroke-width="1.2"/>
<line x1="482.90" y1="200.00" x2="482.90" y2="203.00" stroke="#000" stroke-width="1.2"/>
<line x1="521.86" y1="200.00" x2="521.86" y2="203.00" stroke="#000" stroke-width="1.2"/>
<line x1="560.82" y1="200.00" x2="560.82" y2="203.00" stroke="#000" stroke-width="1.2"/>
<line x1="385.50" y1="200.00" x2="385.50" y2="205.00" stroke="#000" stroke-width="1.2"/>
<text x="385.50" y="222.40" font-size="16" text-anchor="middle" font-weight="normal" fill="#000">0</text>
<line x1="424.46" y1="200.00" x2="424.46" y2="205.00" stroke="#000" stroke-width="1.2"/>
<text x="424.46" y="222.40" font-size="16" text-anchor="middle" font-weight="normal" fill="#000">10</text>
<line x1="463.42" y1="200.00" x2="463.42" y2="205.00" stroke="#000" stroke-width="1.2"/>
<text x="463.42" y="222.40" font-size="16" text-anchor="middle" font-weight="normal" fill="#000">20</text>
<line x1="502.38" y1="200.00" x2="502.38" y2="205.00" stroke="#000" stroke-width="1.2"/>
<text x="502.38" y="222.40" font-size="16" text-anchor="middle" font-weight="normal" fill="#000">30</text>
<line x1="541.34" y1="200.00" x2="541.34" y2="205.00" stroke="#000" stroke-width="1.2"/>
<text x="541.34" y="222.40" font-size="16" text-anchor="middle" font-weight="normal" fill="#000">40</text>
<line x1="580.30" y1="200.00" x2="580.30" y2="205.00" stroke="#000" stroke-width="1.2"/>
<text x="580.30" y="222.40" font-size="16" text-anchor="middle" font-weight="normal" fill="#000">50</text>
<text x="345.80" y="114.80" font-size="14.2" text-anchor="middle" font-weight="normal" fill="#c9506e" transform="rotate(-90 345.80 114.80)" textLength="87.5" lengthAdjust="spacingAndGlyphs">SDC (mAh/g)</text>
<text x="622.40" y="106.30" font-size="15" text-anchor="middle" font-weight="normal" fill="#1f34cc" transform="rotate(-90 622.40 106.30)" textLength="92" lengthAdjust="spacingAndGlyphs">Retention (%)</text>
<text x="677.30" y="108.10" font-size="15" text-anchor="middle" font-weight="normal" fill="#000" transform="rotate(-90 677.30 108.10)" textLength="134.6" lengthAdjust="spacingAndGlyphs">Rocksalt fraction (%)</text>
<text x="491.40" y="241.00" font-size="15" text-anchor="middle" font-weight="normal" fill="#000" textLength="116.5" lengthAdjust="spacingAndGlyphs">Sintering time (h)</text>
<text x="12.50" y="240.30" font-size="21.5" text-anchor="start" font-weight="bold" fill="#000">c</text>
<g clip-path="url(#clipc)">
<circle cx="73.30" cy="270.58" r="5.6" fill="url(#bub)" fill-opacity="1.0" stroke="#ff3a3a" stroke-width="0.9"/>
<circle cx="78.81" cy="270.86" r="5.6" fill="url(#bub)" fill-opacity="1.0" stroke="#ff3a3a" stroke-width="0.9"/>
<circle cx="84.32" cy="271.15" r="5.6" fill="url(#bub)" fill-opacity="1.0" stroke="#ff3a3a" stroke-width="0.9"/>
<circle cx="89.83" cy="271.43" r="5.6" fill="url(#bub)" fill-opacity="1.0" stroke="#ff3a3a" stroke-width="0.9"/>
<circle cx="95.34" cy="271.72" r="5.6" fill="url(#bub)" fill-opacity="1.0" stroke="#ff3a3a" stroke-width="0.9"/>
<circle cx="100.85" cy="272.00" r="5.6" fill="url(#bub)" fill-opacity="1.0" stroke="#ff3a3a" stroke-width="0.9"/>
<circle cx="106.36" cy="272.29" r="5.6" fill="url(#bub)" fill-opacity="1.0" stroke="#ff3a3a" stroke-width="0.9"/>
<circle cx="111.87" cy="272.58" r="5.6" fill="url(#bub)" fill-opacity="1.0" stroke="#ff3a3a" stroke-width="0.9"/>
<circle cx="117.38" cy="272.86" r="5.6" fill="url(#bub)" fill-opacity="1.0" stroke="#ff3a3a" stroke-width="0.9"/>
<circle cx="122.89" cy="273.14" r="5.6" fill="url(#bub)" fill-opacity="1.0" stroke="#ff3a3a" stroke-width="0.9"/>
<circle cx="128.40" cy="273.39" r="5.6" fill="url(#bub)" fill-opacity="1.0" stroke="#ff3a3a" stroke-width="0.9"/>
<circle cx="133.91" cy="273.63" r="5.6" fill="url(#bub)" fill-opacity="1.0" stroke="#ff3a3a" stroke-width="0.9"/>
<circle cx="139.42" cy="273.88" r="5.6" fill="url(#bub)" fill-opacity="1.0" stroke="#ff3a3a" stroke-width="0.9"/>
<circle cx="144.93" cy="274.12" r="5.6" fill="url(#bub)" fill-opacity="1.0" stroke="#ff3a3a" stroke-width="0.9"/>
<circle cx="150.44" cy="274.36" r="5.6" fill="url(#bub)" fill-opacity="1.0" stroke="#ff3a3a" stroke-width="0.9"/>
<circle cx="155.95" cy="274.61" r="5.6" fill="url(#bub)" fill-opacity="1.0" stroke="#ff3a3a" stroke-width="0.9"/>
<circle cx="161.46" cy="274.85" r="5.6" fill="url(#bub)" fill-opacity="1.0" stroke="#ff3a3a" stroke-width="0.9"/>
<circle cx="166.97" cy="275.10" r="5.6" fill="url(#bub)" fill-opacity="1.0" stroke="#ff3a3a" stroke-width="0.9"/>
<circle cx="172.48" cy="275.34" r="5.6" fill="url(#bub)" fill-opacity="1.0" stroke="#ff3a3a" stroke-width="0.9"/>
<circle cx="177.99" cy="275.58" r="5.6" fill="url(#bub)" fill-opacity="1.0" stroke="#ff3a3a" stroke-width="0.9"/>
<circle cx="183.50" cy="275.83" r="5.6" fill="url(#bub)" fill-opacity="1.0" stroke="#ff3a3a" stroke-width="0.9"/>
<circle cx="189.01" cy="276.07" r="5.6" fill="url(#bub)" fill-opacity="1.0" stroke="#ff3a3a" stroke-width="0.9"/>
<circle cx="194.52" cy="276.32" r="5.6" fill="url(#bub)" fill-opacity="1.0" stroke="#ff3a3a" stroke-width="0.9"/>
<circle cx="200.03" cy="276.56" r="5.6" fill="url(#bub)" fill-opacity="1.0" stroke="#ff3a3a" stroke-width="0.9"/>
<circle cx="205.54" cy="276.80" r="5.6" fill="url(#bub)" fill-opacity="1.0" stroke="#ff3a3a" stroke-width="0.9"/>
<circle cx="211.06" cy="277.05" r="5.6" fill="url(#bub)" fill-opacity="1.0" stroke="#ff3a3a" stroke-width="0.9"/>
<circle cx="216.57" cy="277.29" r="5.6" fill="url(#bub)" fill-opacity="1.0" stroke="#ff3a3a" stroke-width="0.9"/>
<circle cx="222.08" cy="277.54" r="5.6" fill="url(#bub)" fill-opacity="1.0" stroke="#ff3a3a" stroke-width="0.9"/>
<circle cx="227.59" cy="277.78" r="5.6" fill="url(#bub)" fill-opacity="1.0" stroke="#ff3a3a" stroke-width="0.9"/>
<circle cx="233.10" cy="278.02" r="5.6" fill="url(#bub)" fill-opacity="1.0" stroke="#ff3a3a" stroke-width="0.9"/>
<circle cx="238.61" cy="278.27" r="5.6" fill="url(#bub)" fill-opacity="1.0" stroke="#ff3a3a" stroke-width="0.9"/>
<circle cx="244.12" cy="278.46" r="5.6" fill="url(#bub)" fill-opacity="1.0" stroke="#ff3a3a" stroke-width="0.9"/>
<circle cx="249.63" cy="278.65" r="5.6" fill="url(#bub)" fill-opacity="1.0" stroke="#ff3a3a" stroke-width="0.9"/>
<circle cx="255.14" cy="278.84" r="5.6" fill="url(#bub)" fill-opacity="1.0" stroke="#ff3a3a" stroke-width="0.9"/>
<circle cx="260.65" cy="279.04" r="5.6" fill="url(#bub)" fill-opacity="1.0" stroke="#ff3a3a" stroke-width="0.9"/>
<circle cx="266.16" cy="279.23" r="5.6" fill="url(#bub)" fill-opacity="1.0" stroke="#ff3a3a" stroke-width="0.9"/>
<circle cx="271.67" cy="279.42" r="5.6" fill="url(#bub)" fill-opacity="1.0" stroke="#ff3a3a" stroke-width="0.9"/>
<circle cx="277.18" cy="279.61" r="5.6" fill="url(#bub)" fill-opacity="1.0" stroke="#ff3a3a" stroke-width="0.9"/>
<circle cx="282.69" cy="279.80" r="5.6" fill="url(#bub)" fill-opacity="1.0" stroke="#ff3a3a" stroke-width="0.9"/>
<circle cx="288.20" cy="279.99" r="5.6" fill="url(#bub)" fill-opacity="1.0" stroke="#ff3a3a" stroke-width="0.9"/>
<circle cx="293.71" cy="280.18" r="5.6" fill="url(#bub)" fill-opacity="1.0" stroke="#ff3a3a" stroke-width="0.9"/>
<circle cx="299.22" cy="280.37" r="5.6" fill="url(#bub)" fill-opacity="1.0" stroke="#ff3a3a" stroke-width="0.9"/>
<circle cx="304.73" cy="280.56" r="5.6" fill="url(#bub)" fill-opacity="1.0" stroke="#ff3a3a" stroke-width="0.9"/>
<circle cx="310.24" cy="280.75" r="5.6" fill="url(#bub)" fill-opacity="1.0" stroke="#ff3a3a" stroke-width="0.9"/>
<circle cx="315.75" cy="280.94" r="5.6" fill="url(#bub)" fill-opacity="1.0" stroke="#ff3a3a" stroke-width="0.9"/>
<circle cx="321.26" cy="281.13" r="5.6" fill="url(#bub)" fill-opacity="1.0" stroke="#ff3a3a" stroke-width="0.9"/>
<circle cx="326.77" cy="281.32" r="5.6" fill="url(#bub)" fill-opacity="1.0" stroke="#ff3a3a" stroke-width="0.9"/>
<circle cx="332.28" cy="281.51" r="5.6" fill="url(#bub)" fill-opacity="1.0" stroke="#ff3a3a" stroke-width="0.9"/>
<circle cx="337.79" cy="281.70" r="5.6" fill="url(#bub)" fill-opacity="1.0" stroke="#ff3a3a" stroke-width="0.9"/>
<circle cx="343.30" cy="281.89" r="5.6" fill="url(#bub)" fill-opacity="1.0" stroke="#ff3a3a" stroke-width="0.9"/>
<circle cx="348.81" cy="282.08" r="5.6" fill="url(#bub)" fill-opacity="1.0" stroke="#ff3a3a" stroke-width="0.9"/>
<circle cx="354.32" cy="282.27" r="5.6" fill="url(#bub)" fill-opacity="1.0" stroke="#ff3a3a" stroke-width="0.9"/>
<circle cx="359.83" cy="282.46" r="5.6" fill="url(#bub)" fill-opacity="1.0" stroke="#ff3a3a" stroke-width="0.9"/>
<circle cx="365.34" cy="282.65" r="5.6" fill="url(#bub)" fill-opacity="1.0" stroke="#ff3a3a" stroke-width="0.9"/>
<circle cx="370.85" cy="282.84" r="5.6" fill="url(#bub)" fill-opacity="1.0" stroke="#ff3a3a" stroke-width="0.9"/>
<circle cx="376.36" cy="283.03" r="5.6" fill="url(#bub)" fill-opacity="1.0" stroke="#ff3a3a" stroke-width="0.9"/>
<circle cx="381.87" cy="283.22" r="5.6" fill="url(#bub)" fill-opacity="1.0" stroke="#ff3a3a" stroke-width="0.9"/>
<circle cx="387.38" cy="283.41" r="5.6" fill="url(#bub)" fill-opacity="1.0" stroke="#ff3a3a" stroke-width="0.9"/>
<circle cx="392.89" cy="283.60" r="5.6" fill="url(#bub)" fill-opacity="1.0" stroke="#ff3a3a" stroke-width="0.9"/>
<circle cx="398.40" cy="283.79" r="5.6" fill="url(#bub)" fill-opacity="1.0" stroke="#ff3a3a" stroke-width="0.9"/>
<circle cx="403.91" cy="283.98" r="5.6" fill="url(#bub)" fill-opacity="1.0" stroke="#ff3a3a" stroke-width="0.9"/>
<circle cx="409.42" cy="284.17" r="5.6" fill="url(#bub)" fill-opacity="1.0" stroke="#ff3a3a" stroke-width="0.9"/>
<circle cx="414.93" cy="284.36" r="5.6" fill="url(#bub)" fill-opacity="1.0" stroke="#ff3a3a" stroke-width="0.9"/>
<circle cx="420.44" cy="284.55" r="5.6" fill="url(#bub)" fill-opacity="1.0" stroke="#ff3a3a" stroke-width="0.9"/>
<circle cx="425.95" cy="284.74" r="5.6" fill="url(#bub)" fill-opacity="1.0" stroke="#ff3a3a" stroke-width="0.9"/>
<circle cx="431.46" cy="284.94" r="5.6" fill="url(#bub)" fill-opacity="1.0" stroke="#ff3a3a" stroke-width="0.9"/>
<circle cx="436.97" cy="285.16" r="5.6" fill="url(#bub)" fill-opacity="1.0" stroke="#ff3a3a" stroke-width="0.9"/>
<circle cx="442.48" cy="285.38" r="5.6" fill="url(#bub)" fill-opacity="1.0" stroke="#ff3a3a" stroke-width="0.9"/>
<circle cx="447.99" cy="285.61" r="5.6" fill="url(#bub)" fill-opacity="1.0" stroke="#ff3a3a" stroke-width="0.9"/>
<circle cx="453.50" cy="285.83" r="5.6" fill="url(#bub)" fill-opacity="1.0" stroke="#ff3a3a" stroke-width="0.9"/>
<circle cx="459.01" cy="286.06" r="5.6" fill="url(#bub)" fill-opacity="1.0" stroke="#ff3a3a" stroke-width="0.9"/>
<circle cx="464.52" cy="286.28" r="5.6" fill="url(#bub)" fill-opacity="1.0" stroke="#ff3a3a" stroke-width="0.9"/>
<circle cx="470.03" cy="286.51" r="5.6" fill="url(#bub)" fill-opacity="1.0" stroke="#ff3a3a" stroke-width="0.9"/>
<circle cx="475.54" cy="286.73" r="5.6" fill="url(#bub)" fill-opacity="1.0" stroke="#ff3a3a" stroke-width="0.9"/>
<circle cx="481.06" cy="286.95" r="5.6" fill="url(#bub)" fill-opacity="1.0" stroke="#ff3a3a" stroke-width="0.9"/>
<circle cx="486.57" cy="287.18" r="5.6" fill="url(#bub)" fill-opacity="1.0" stroke="#ff3a3a" stroke-width="0.9"/>
<circle cx="492.08" cy="287.40" r="5.6" fill="url(#bub)" fill-opacity="1.0" stroke="#ff3a3a" stroke-width="0.9"/>
<circle cx="497.59" cy="287.63" r="5.6" fill="url(#bub)" fill-opacity="1.0" stroke="#ff3a3a" stroke-width="0.9"/>
<circle cx="503.10" cy="287.85" r="5.6" fill="url(#bub)" fill-opacity="1.0" stroke="#ff3a3a" stroke-width="0.9"/>
<circle cx="508.61" cy="288.07" r="5.6" fill="url(#bub)" fill-opacity="1.0" stroke="#ff3a3a" stroke-width="0.9"/>
<circle cx="514.12" cy="288.30" r="5.6" fill="url(#bub)" fill-opacity="1.0" stroke="#ff3a3a" stroke-width="0.9"/>
<circle cx="519.63" cy="288.52" r="5.6" fill="url(#bub)" fill-opacity="1.0" stroke="#ff3a3a" stroke-width="0.9"/>
<circle cx="525.14" cy="288.75" r="5.6" fill="url(#bub)" fill-opacity="1.0" stroke="#ff3a3a" stroke-width="0.9"/>
<circle cx="530.65" cy="288.97" r="5.6" fill="url(#bub)" fill-opacity="1.0" stroke="#ff3a3a" stroke-width="0.9"/>
<circle cx="536.16" cy="289.20" r="5.6" fill="url(#bub)" fill-opacity="1.0" stroke="#ff3a3a" stroke-width="0.9"/>
<circle cx="541.67" cy="289.54" r="5.6" fill="url(#bub)" fill-opacity="1.0" stroke="#ff3a3a" stroke-width="0.9"/>
<circle cx="547.18" cy="289.89" r="5.6" fill="url(#bub)" fill-opacity="1.0" stroke="#ff3a3a" stroke-width="0.9"/>
<circle cx="552.69" cy="290.23" r="5.6" fill="url(#bub)" fill-opacity="1.0" stroke="#ff3a3a" stroke-width="0.9"/>
<circle cx="558.20" cy="290.58" r="5.6" fill="url(#bub)" fill-opacity="1.0" stroke="#ff3a3a" stroke-width="0.9"/>
<circle cx="563.71" cy="290.92" r="5.6" fill="url(#bub)" fill-opacity="1.0" stroke="#ff3a3a" stroke-width="0.9"/>
<circle cx="569.22" cy="291.27" r="5.6" fill="url(#bub)" fill-opacity="1.0" stroke="#ff3a3a" stroke-width="0.9"/>
<circle cx="574.73" cy="291.61" r="5.6" fill="url(#bub)" fill-opacity="1.0" stroke="#ff3a3a" stroke-width="0.9"/>
<circle cx="580.24" cy="291.96" r="5.6" fill="url(#bub)" fill-opacity="1.0" stroke="#ff3a3a" stroke-width="0.9"/>
<circle cx="585.75" cy="292.30" r="5.6" fill="url(#bub)" fill-opacity="1.0" stroke="#ff3a3a" stroke-width="0.9"/>
<circle cx="591.26" cy="292.65" r="5.6" fill="url(#bub)" fill-opacity="1.0" stroke="#ff3a3a" stroke-width="0.9"/>
<circle cx="596.77" cy="292.99" r="5.6" fill="url(#bub)" fill-opacity="1.0" stroke="#ff3a3a" stroke-width="0.9"/>
<circle cx="602.28" cy="293.34" r="5.6" fill="url(#bub)" fill-opacity="1.0" stroke="#ff3a3a" stroke-width="0.9"/>
<circle cx="607.79" cy="293.68" r="5.6" fill="url(#bub)" fill-opacity="1.0" stroke="#ff3a3a" stroke-width="0.9"/>
<circle cx="613.30" cy="294.03" r="5.6" fill="url(#bub)" fill-opacity="1.0" stroke="#ff3a3a" stroke-width="0.9"/>
<circle cx="71.00" cy="294.36" r="4.8" fill="#8cc6f6" fill-opacity="0.85" stroke="#2a3550" stroke-width="0.8"/>
<circle cx="76.54" cy="293.98" r="4.8" fill="#8cc6f6" fill-opacity="0.85" stroke="#2a3550" stroke-width="0.8"/>
<circle cx="82.08" cy="293.59" r="4.8" fill="#8cc6f6" fill-opacity="0.85" stroke="#2a3550" stroke-width="0.8"/>
<circle cx="87.62" cy="293.53" r="4.8" fill="#8cc6f6" fill-opacity="0.85" stroke="#2a3550" stroke-width="0.8"/>
<circle cx="93.16" cy="293.61" r="4.8" fill="#8cc6f6" fill-opacity="0.85" stroke="#2a3550" stroke-width="0.8"/>
<circle cx="98.69" cy="293.69" r="4.8" fill="#8cc6f6" fill-opacity="0.85" stroke="#2a3550" stroke-width="0.8"/>
<circle cx="104.23" cy="293.77" r="4.8" fill="#8cc6f6" fill-opacity="0.85" stroke="#2a3550" stroke-width="0.8"/>
<circle cx="109.77" cy="293.86" r="4.8" fill="#8cc6f6" fill-opacity="0.85" stroke="#2a3550" stroke-width="0.8"/>
<circle cx="115.31" cy="293.94" r="4.8" fill="#8cc6f6" fill-opacity="0.85" stroke="#2a3550" stroke-width="0.8"/>
<circle cx="120.85" cy="294.02" r="4.8" fill="#8cc6f6" fill-opacity="0.85" stroke="#2a3550" stroke-width="0.8"/>
<circle cx="126.39" cy="294.15" r="4.8" fill="#8cc6f6" fill-opacity="0.85" stroke="#2a3550" stroke-width="0.8"/>
<circle cx="131.93" cy="294.29" r="4.8" fill="#8cc6f6" fill-opacity="0.85" stroke="#2a3550" stroke-width="0.8"/>
<circle cx="137.47" cy="294.43" r="4.8" fill="#8cc6f6" fill-opacity="0.85" stroke="#2a3550" stroke-width="0.8"/>
<circle cx="143.00" cy="294.58" r="4.8" fill="#8cc6f6" fill-opacity="0.85" stroke="#2a3550" stroke-width="0.8"/>
<circle cx="148.54" cy="294.72" r="4.8" fill="#8cc6f6" fill-opacity="0.85" stroke="#2a3550" stroke-width="0.8"/>
<circle cx="154.08" cy="294.86" r="4.8" fill="#8cc6f6" fill-opacity="0.85" stroke="#2a3550" stroke-width="0.8"/>
<circle cx="159.62" cy="295.01" r="4.8" fill="#8cc6f6" fill-opacity="0.85" stroke="#2a3550" stroke-width="0.8"/>
<circle cx="165.16" cy="295.15" r="4.8" fill="#8cc6f6" fill-opacity="0.85" stroke="#2a3550" stroke-width="0.8"/>
<circle cx="170.70" cy="295.29" r="4.8" fill="#8cc6f6" fill-opacity="0.85" stroke="#2a3550" stroke-width="0.8"/>
<circle cx="176.24" cy="295.44" r="4.8" fill="#8cc6f6" fill-opacity="0.85" stroke="#2a3550" stroke-width="0.8"/>
<circle cx="181.78" cy="295.58" r="4.8" fill="#8cc6f6" fill-opacity="0.85" stroke="#2a3550" stroke-width="0.8"/>
<circle cx="187.31" cy="295.72" r="4.8" fill="#8cc6f6" fill-opacity="0.85" stroke="#2a3550" stroke-width="0.8"/>
<circle cx="192.85" cy="295.87" r="4.8" fill="#8cc6f6" fill-opacity="0.85" stroke="#2a3550" stroke-width="0.8"/>
<circle cx="198.39" cy="296.01" r="4.8" fill="#8cc6f6" fill-opacity="0.85" stroke="#2a3550" stroke-width="0.8"/>
<circle cx="203.93" cy="296.15" r="4.8" fill="#8cc6f6" fill-opacity="0.85" stroke="#2a3550" stroke-width="0.8"/>
<circle cx="209.47" cy="296.30" r="4.8" fill="#8cc6f6" fill-opacity="0.85" stroke="#2a3550" stroke-width="0.8"/>
<circle cx="215.01" cy="296.44" r="4.8" fill="#8cc6f6" fill-opacity="0.85" stroke="#2a3550" stroke-width="0.8"/>
<circle cx="220.55" cy="296.58" r="4.8" fill="#8cc6f6" fill-opacity="0.85" stroke="#2a3550" stroke-width="0.8"/>
<circle cx="226.09" cy="296.73" r="4.8" fill="#8cc6f6" fill-opacity="0.85" stroke="#2a3550" stroke-width="0.8"/>
<circle cx="231.62" cy="296.87" r="4.8" fill="#8cc6f6" fill-opacity="0.85" stroke="#2a3550" stroke-width="0.8"/>
<circle cx="237.16" cy="297.01" r="4.8" fill="#8cc6f6" fill-opacity="0.85" stroke="#2a3550" stroke-width="0.8"/>
<circle cx="242.70" cy="297.13" r="4.8" fill="#8cc6f6" fill-opacity="0.85" stroke="#2a3550" stroke-width="0.8"/>
<circle cx="248.24" cy="297.24" r="4.8" fill="#8cc6f6" fill-opacity="0.85" stroke="#2a3550" stroke-width="0.8"/>
<circle cx="253.78" cy="297.35" r="4.8" fill="#8cc6f6" fill-opacity="0.85" stroke="#2a3550" stroke-width="0.8"/>
<circle cx="259.32" cy="297.45" r="4.8" fill="#8cc6f6" fill-opacity="0.85" stroke="#2a3550" stroke-width="0.8"/>
<circle cx="264.86" cy="297.56" r="4.8" fill="#8cc6f6" fill-opacity="0.85" stroke="#2a3550" stroke-width="0.8"/>
<circle cx="270.40" cy="297.66" r="4.8" fill="#8cc6f6" fill-opacity="0.85" stroke="#2a3550" stroke-width="0.8"/>
<circle cx="275.93" cy="297.77" r="4.8" fill="#8cc6f6" fill-opacity="0.85" stroke="#2a3550" stroke-width="0.8"/>
<circle cx="281.47" cy="297.88" r="4.8" fill="#8cc6f6" fill-opacity="0.85" stroke="#2a3550" stroke-width="0.8"/>
<circle cx="287.01" cy="297.98" r="4.8" fill="#8cc6f6" fill-opacity="0.85" stroke="#2a3550" stroke-width="0.8"/>
<circle cx="292.55" cy="298.09" r="4.8" fill="#8cc6f6" fill-opacity="0.85" stroke="#2a3550" stroke-width="0.8"/>
<circle cx="298.09" cy="298.19" r="4.8" fill="#8cc6f6" fill-opacity="0.85" stroke="#2a3550" stroke-width="0.8"/>
<circle cx="303.63" cy="298.30" r="4.8" fill="#8cc6f6" fill-opacity="0.85" stroke="#2a3550" stroke-width="0.8"/>
<circle cx="309.17" cy="298.40" r="4.8" fill="#8cc6f6" fill-opacity="0.85" stroke="#2a3550" stroke-width="0.8"/>
<circle cx="314.71" cy="298.51" r="4.8" fill="#8cc6f6" fill-opacity="0.85" stroke="#2a3550" stroke-width="0.8"/>
<circle cx="320.24" cy="298.62" r="4.8" fill="#8cc6f6" fill-opacity="0.85" stroke="#2a3550" stroke-width="0.8"/>
<circle cx="325.78" cy="298.72" r="4.8" fill="#8cc6f6" fill-opacity="0.85" stroke="#2a3550" stroke-width="0.8"/>
<circle cx="331.32" cy="298.83" r="4.8" fill="#8cc6f6" fill-opacity="0.85" stroke="#2a3550" stroke-width="0.8"/>
<circle cx="336.86" cy="298.93" r="4.8" fill="#8cc6f6" fill-opacity="0.85" stroke="#2a3550" stroke-width="0.8"/>
<circle cx="342.40" cy="299.04" r="4.8" fill="#8cc6f6" fill-opacity="0.85" stroke="#2a3550" stroke-width="0.8"/>
<circle cx="347.94" cy="299.15" r="4.8" fill="#8cc6f6" fill-opacity="0.85" stroke="#2a3550" stroke-width="0.8"/>
<circle cx="353.48" cy="299.25" r="4.8" fill="#8cc6f6" fill-opacity="0.85" stroke="#2a3550" stroke-width="0.8"/>
<circle cx="359.02" cy="299.36" r="4.8" fill="#8cc6f6" fill-opacity="0.85" stroke="#2a3550" stroke-width="0.8"/>
<circle cx="364.56" cy="299.46" r="4.8" fill="#8cc6f6" fill-opacity="0.85" stroke="#2a3550" stroke-width="0.8"/>
<circle cx="370.09" cy="299.57" r="4.8" fill="#8cc6f6" fill-opacity="0.85" stroke="#2a3550" stroke-width="0.8"/>
<circle cx="375.63" cy="299.67" r="4.8" fill="#8cc6f6" fill-opacity="0.85" stroke="#2a3550" stroke-width="0.8"/>
<circle cx="381.17" cy="299.78" r="4.8" fill="#8cc6f6" fill-opacity="0.85" stroke="#2a3550" stroke-width="0.8"/>
<circle cx="386.71" cy="299.89" r="4.8" fill="#8cc6f6" fill-opacity="0.85" stroke="#2a3550" stroke-width="0.8"/>
<circle cx="392.25" cy="299.99" r="4.8" fill="#8cc6f6" fill-opacity="0.85" stroke="#2a3550" stroke-width="0.8"/>
<circle cx="397.79" cy="300.10" r="4.8" fill="#8cc6f6" fill-opacity="0.85" stroke="#2a3550" stroke-width="0.8"/>
<circle cx="403.33" cy="300.20" r="4.8" fill="#8cc6f6" fill-opacity="0.85" stroke="#2a3550" stroke-width="0.8"/>
<circle cx="408.87" cy="300.31" r="4.8" fill="#8cc6f6" fill-opacity="0.85" stroke="#2a3550" stroke-width="0.8"/>
<circle cx="414.40" cy="300.42" r="4.8" fill="#8cc6f6" fill-opacity="0.85" stroke="#2a3550" stroke-width="0.8"/>
<circle cx="419.94" cy="300.52" r="4.8" fill="#8cc6f6" fill-opacity="0.85" stroke="#2a3550" stroke-width="0.8"/>
<circle cx="425.48" cy="300.63" r="4.8" fill="#8cc6f6" fill-opacity="0.85" stroke="#2a3550" stroke-width="0.8"/>
<circle cx="431.02" cy="300.73" r="4.8" fill="#8cc6f6" fill-opacity="0.85" stroke="#2a3550" stroke-width="0.8"/>
<circle cx="436.56" cy="300.86" r="4.8" fill="#8cc6f6" fill-opacity="0.85" stroke="#2a3550" stroke-width="0.8"/>
<circle cx="442.10" cy="300.99" r="4.8" fill="#8cc6f6" fill-opacity="0.85" stroke="#2a3550" stroke-width="0.8"/>
<circle cx="447.64" cy="301.12" r="4.8" fill="#8cc6f6" fill-opacity="0.85" stroke="#2a3550" stroke-width="0.8"/>
<circle cx="453.18" cy="301.25" r="4.8" fill="#8cc6f6" fill-opacity="0.85" stroke="#2a3550" stroke-width="0.8"/>
<circle cx="458.71" cy="301.38" r="4.8" fill="#8cc6f6" fill-opacity="0.85" stroke="#2a3550" stroke-width="0.8"/>
<circle cx="464.25" cy="301.51" r="4.8" fill="#8cc6f6" fill-opacity="0.85" stroke="#2a3550" stroke-width="0.8"/>
<circle cx="469.79" cy="301.64" r="4.8" fill="#8cc6f6" fill-opacity="0.85" stroke="#2a3550" stroke-width="0.8"/>
<circle cx="475.33" cy="301.77" r="4.8" fill="#8cc6f6" fill-opacity="0.85" stroke="#2a3550" stroke-width="0.8"/>
<circle cx="480.87" cy="301.90" r="4.8" fill="#8cc6f6" fill-opacity="0.85" stroke="#2a3550" stroke-width="0.8"/>
<circle cx="486.41" cy="302.03" r="4.8" fill="#8cc6f6" fill-opacity="0.85" stroke="#2a3550" stroke-width="0.8"/>
<circle cx="491.95" cy="302.16" r="4.8" fill="#8cc6f6" fill-opacity="0.85" stroke="#2a3550" stroke-width="0.8"/>
<circle cx="497.49" cy="302.28" r="4.8" fill="#8cc6f6" fill-opacity="0.85" stroke="#2a3550" stroke-width="0.8"/>
<circle cx="503.02" cy="302.41" r="4.8" fill="#8cc6f6" fill-opacity="0.85" stroke="#2a3550" stroke-width="0.8"/>
<circle cx="508.56" cy="302.54" r="4.8" fill="#8cc6f6" fill-opacity="0.85" stroke="#2a3550" stroke-width="0.8"/>
<circle cx="514.10" cy="302.67" r="4.8" fill="#8cc6f6" fill-opacity="0.85" stroke="#2a3550" stroke-width="0.8"/>
<circle cx="519.64" cy="302.80" r="4.8" fill="#8cc6f6" fill-opacity="0.85" stroke="#2a3550" stroke-width="0.8"/>
<circle cx="525.18" cy="302.93" r="4.8" fill="#8cc6f6" fill-opacity="0.85" stroke="#2a3550" stroke-width="0.8"/>
<circle cx="530.72" cy="303.06" r="4.8" fill="#8cc6f6" fill-opacity="0.85" stroke="#2a3550" stroke-width="0.8"/>
<circle cx="536.26" cy="303.19" r="4.8" fill="#8cc6f6" fill-opacity="0.85" stroke="#2a3550" stroke-width="0.8"/>
<circle cx="541.80" cy="303.40" r="4.8" fill="#8cc6f6" fill-opacity="0.85" stroke="#2a3550" stroke-width="0.8"/>
<circle cx="547.33" cy="303.61" r="4.8" fill="#8cc6f6" fill-opacity="0.85" stroke="#2a3550" stroke-width="0.8"/>
<circle cx="552.87" cy="303.82" r="4.8" fill="#8cc6f6" fill-opacity="0.85" stroke="#2a3550" stroke-width="0.8"/>
<circle cx="558.41" cy="304.03" r="4.8" fill="#8cc6f6" fill-opacity="0.85" stroke="#2a3550" stroke-width="0.8"/>
<circle cx="563.95" cy="304.24" r="4.8" fill="#8cc6f6" fill-opacity="0.85" stroke="#2a3550" stroke-width="0.8"/>
<circle cx="569.49" cy="304.45" r="4.8" fill="#8cc6f6" fill-opacity="0.85" stroke="#2a3550" stroke-width="0.8"/>
<circle cx="575.03" cy="304.67" r="4.8" fill="#8cc6f6" fill-opacity="0.85" stroke="#2a3550" stroke-width="0.8"/>
<circle cx="580.57" cy="304.88" r="4.8" fill="#8cc6f6" fill-opacity="0.85" stroke="#2a3550" stroke-width="0.8"/>
<circle cx="586.11" cy="305.09" r="4.8" fill="#8cc6f6" fill-opacity="0.85" stroke="#2a3550" stroke-width="0.8"/>
<circle cx="591.64" cy="305.30" r="4.8" fill="#8cc6f6" fill-opacity="0.85" stroke="#2a3550" stroke-width="0.8"/>
<circle cx="597.18" cy="305.51" r="4.8" fill="#8cc6f6" fill-opacity="0.85" stroke="#2a3550" stroke-width="0.8"/>
<circle cx="602.72" cy="305.72" r="4.8" fill="#8cc6f6" fill-opacity="0.85" stroke="#2a3550" stroke-width="0.8"/>
<circle cx="608.26" cy="305.93" r="4.8" fill="#8cc6f6" fill-opacity="0.85" stroke="#2a3550" stroke-width="0.8"/>
<circle cx="613.80" cy="306.14" r="4.8" fill="#8cc6f6" fill-opacity="0.85" stroke="#2a3550" stroke-width="0.8"/>
<circle cx="69.70" cy="282.70" r="5.2" fill="#e8c87a" fill-opacity="0.8" stroke="#3a3520" stroke-width="0.8"/>
<circle cx="75.15" cy="291.28" r="5.2" fill="#e8c87a" fill-opacity="0.8" stroke="#3a3520" stroke-width="0.8"/>
<circle cx="80.60" cy="294.37" r="5.2" fill="#e8c87a" fill-opacity="0.8" stroke="#3a3520" stroke-width="0.8"/>
<circle cx="86.06" cy="296.98" r="5.2" fill="#e8c87a" fill-opacity="0.8" stroke="#3a3520" stroke-width="0.8"/>
<circle cx="91.51" cy="299.58" r="5.2" fill="#e8c87a" fill-opacity="0.8" stroke="#3a3520" stroke-width="0.8"/>
<circle cx="96.96" cy="302.18" r="5.2" fill="#e8c87a" fill-opacity="0.8" stroke="#3a3520" stroke-width="0.8"/>
<circle cx="102.41" cy="304.67" r="5.2" fill="#e8c87a" fill-opacity="0.8" stroke="#3a3520" stroke-width="0.8"/>
<circle cx="107.86" cy="306.52" r="5.2" fill="#e8c87a" fill-opacity="0.8" stroke="#3a3520" stroke-width="0.8"/>
<circle cx="113.31" cy="308.36" r="5.2" fill="#e8c87a" fill-opacity="0.8" stroke="#3a3520" stroke-width="0.8"/>
<circle cx="118.77" cy="310.08" r="5.2" fill="#e8c87a" fill-opacity="0.8" stroke="#3a3520" stroke-width="0.8"/>
<circle cx="124.22" cy="311.71" r="5.2" fill="#e8c87a" fill-opacity="0.8" stroke="#3a3520" stroke-width="0.8"/>
<circle cx="129.67" cy="313.35" r="5.2" fill="#e8c87a" fill-opacity="0.8" stroke="#3a3520" stroke-width="0.8"/>
<circle cx="135.12" cy="314.98" r="5.2" fill="#e8c87a" fill-opacity="0.8" stroke="#3a3520" stroke-width="0.8"/>
<circle cx="140.57" cy="316.61" r="5.2" fill="#e8c87a" fill-opacity="0.8" stroke="#3a3520" stroke-width="0.8"/>
<circle cx="146.02" cy="318.10" r="5.2" fill="#e8c87a" fill-opacity="0.8" stroke="#3a3520" stroke-width="0.8"/>
<circle cx="151.48" cy="319.45" r="5.2" fill="#e8c87a" fill-opacity="0.8" stroke="#3a3520" stroke-width="0.8"/>
<circle cx="156.93" cy="320.81" r="5.2" fill="#e8c87a" fill-opacity="0.8" stroke="#3a3520" stroke-width="0.8"/>
<circle cx="162.38" cy="322.16" r="5.2" fill="#e8c87a" fill-opacity="0.8" stroke="#3a3520" stroke-width="0.8"/>
<circle cx="167.83" cy="323.51" r="5.2" fill="#e8c87a" fill-opacity="0.8" stroke="#3a3520" stroke-width="0.8"/>
<circle cx="173.28" cy="324.76" r="5.2" fill="#e8c87a" fill-opacity="0.8" stroke="#3a3520" stroke-width="0.8"/>
<circle cx="178.73" cy="325.86" r="5.2" fill="#e8c87a" fill-opacity="0.8" stroke="#3a3520" stroke-width="0.8"/>
<circle cx="184.19" cy="326.97" r="5.2" fill="#e8c87a" fill-opacity="0.8" stroke="#3a3520" stroke-width="0.8"/>
<circle cx="189.64" cy="328.07" r="5.2" fill="#e8c87a" fill-opacity="0.8" stroke="#3a3520" stroke-width="0.8"/>
<circle cx="195.09" cy="329.17" r="5.2" fill="#e8c87a" fill-opacity="0.8" stroke="#3a3520" stroke-width="0.8"/>
<circle cx="200.54" cy="330.22" r="5.2" fill="#e8c87a" fill-opacity="0.8" stroke="#3a3520" stroke-width="0.8"/>
<circle cx="205.99" cy="331.18" r="5.2" fill="#e8c87a" fill-opacity="0.8" stroke="#3a3520" stroke-width="0.8"/>
<circle cx="211.44" cy="332.13" r="5.2" fill="#e8c87a" fill-opacity="0.8" stroke="#3a3520" stroke-width="0.8"/>
<circle cx="216.90" cy="333.09" r="5.2" fill="#e8c87a" fill-opacity="0.8" stroke="#3a3520" stroke-width="0.8"/>
<circle cx="222.35" cy="334.04" r="5.2" fill="#e8c87a" fill-opacity="0.8" stroke="#3a3520" stroke-width="0.8"/>
<circle cx="227.80" cy="335.00" r="5.2" fill="#e8c87a" fill-opacity="0.8" stroke="#3a3520" stroke-width="0.8"/>
</g>
<path d="M67.3,259.2 H618.7" stroke="#000" stroke-width="1.25" fill="none"/>
<path d="M67.3,402.0 H618.7" stroke="#000" stroke-width="1.25" fill="none"/>
<line x1="67.30" y1="259.20" x2="67.30" y2="402.00" stroke="#000" stroke-width="1.25"/>
<line x1="618.70" y1="259.20" x2="618.70" y2="402.00" stroke="#ff1a1a" stroke-width="1.4"/>
<line x1="67.30" y1="387.72" x2="64.30" y2="387.72" stroke="#000" stroke-width="1.2"/>
<line x1="67.30" y1="359.16" x2="64.30" y2="359.16" stroke="#000" stroke-width="1.2"/>
<line x1="67.30" y1="330.60" x2="64.30" y2="330.60" stroke="#000" stroke-width="1.2"/>
<line x1="67.30" y1="302.04" x2="64.30" y2="302.04" stroke="#000" stroke-width="1.2"/>
<line x1="67.30" y1="273.48" x2="64.30" y2="273.48" stroke="#000" stroke-width="1.2"/>
<line x1="67.30" y1="402.00" x2="62.30" y2="402.00" stroke="#000" stroke-width="1.2"/>
<text x="58.00" y="407.70" font-size="16" text-anchor="end" font-weight="normal" fill="#000">0</text>
<line x1="67.30" y1="373.44" x2="62.30" y2="373.44" stroke="#000" stroke-width="1.2"/>
<text x="58.00" y="379.14" font-size="16" text-anchor="end" font-weight="normal" fill="#000">50</text>
<line x1="67.30" y1="344.88" x2="62.30" y2="344.88" stroke="#000" stroke-width="1.2"/>
<text x="58.00" y="350.58" font-size="16" text-anchor="end" font-weight="normal" fill="#000">100</text>
<line x1="67.30" y1="316.32" x2="62.30" y2="316.32" stroke="#000" stroke-width="1.2"/>
<text x="58.00" y="322.02" font-size="16" text-anchor="end" font-weight="normal" fill="#000">150</text>
<line x1="67.30" y1="287.76" x2="62.30" y2="287.76" stroke="#000" stroke-width="1.2"/>
<text x="58.00" y="293.46" font-size="16" text-anchor="end" font-weight="normal" fill="#000">200</text>
<line x1="67.30" y1="259.20" x2="62.30" y2="259.20" stroke="#000" stroke-width="1.2"/>
<text x="58.00" y="264.90" font-size="16" text-anchor="end" font-weight="normal" fill="#000">250</text>
<line x1="618.70" y1="384.15" x2="621.70" y2="384.15" stroke="#ff1a1a" stroke-width="1.2"/>
<line x1="618.70" y1="348.45" x2="621.70" y2="348.45" stroke="#ff1a1a" stroke-width="1.2"/>
<line x1="618.70" y1="312.75" x2="621.70" y2="312.75" stroke="#ff1a1a" stroke-width="1.2"/>
<line x1="618.70" y1="277.05" x2="621.70" y2="277.05" stroke="#ff1a1a" stroke-width="1.2"/>
<line x1="618.70" y1="402.00" x2="624.20" y2="402.00" stroke="#ff1a1a" stroke-width="1.2"/>
<text x="632.00" y="407.70" font-size="16.5" text-anchor="start" font-weight="normal" fill="#ff1a1a">0</text>
<line x1="618.70" y1="366.30" x2="624.20" y2="366.30" stroke="#ff1a1a" stroke-width="1.2"/>
<text x="632.00" y="372.00" font-size="16.5" text-anchor="start" font-weight="normal" fill="#ff1a1a">200</text>
<line x1="618.70" y1="330.60" x2="624.20" y2="330.60" stroke="#ff1a1a" stroke-width="1.2"/>
<text x="632.00" y="336.30" font-size="16.5" text-anchor="start" font-weight="normal" fill="#ff1a1a">400</text>
<line x1="618.70" y1="294.90" x2="624.20" y2="294.90" stroke="#ff1a1a" stroke-width="1.2"/>
<text x="632.00" y="300.60" font-size="16.5" text-anchor="start" font-weight="normal" fill="#ff1a1a">600</text>
<line x1="618.70" y1="259.20" x2="624.20" y2="259.20" stroke="#ff1a1a" stroke-width="1.2"/>
<text x="632.00" y="264.90" font-size="16.5" text-anchor="start" font-weight="normal" fill="#ff1a1a">800</text>
<line x1="122.44" y1="402.00" x2="122.44" y2="404.50" stroke="#000" stroke-width="1.2"/>
<line x1="232.72" y1="402.00" x2="232.72" y2="404.50" stroke="#000" stroke-width="1.2"/>
<line x1="343.00" y1="402.00" x2="343.00" y2="404.50" stroke="#000" stroke-width="1.2"/>
<line x1="453.28" y1="402.00" x2="453.28" y2="404.50" stroke="#000" stroke-width="1.2"/>
<line x1="563.56" y1="402.00" x2="563.56" y2="404.50" stroke="#000" stroke-width="1.2"/>
<line x1="67.30" y1="402.00" x2="67.30" y2="406.00" stroke="#000" stroke-width="1.2"/>
<text x="67.30" y="423.60" font-size="16" text-anchor="middle" font-weight="normal" fill="#000">0</text>
<line x1="177.58" y1="402.00" x2="177.58" y2="406.00" stroke="#000" stroke-width="1.2"/>
<text x="177.58" y="423.60" font-size="16" text-anchor="middle" font-weight="normal" fill="#000">200</text>
<line x1="287.86" y1="402.00" x2="287.86" y2="406.00" stroke="#000" stroke-width="1.2"/>
<text x="287.86" y="423.60" font-size="16" text-anchor="middle" font-weight="normal" fill="#000">400</text>
<line x1="398.14" y1="402.00" x2="398.14" y2="406.00" stroke="#000" stroke-width="1.2"/>
<text x="398.14" y="423.60" font-size="16" text-anchor="middle" font-weight="normal" fill="#000">600</text>
<line x1="508.42" y1="402.00" x2="508.42" y2="406.00" stroke="#000" stroke-width="1.2"/>
<text x="508.42" y="423.60" font-size="16" text-anchor="middle" font-weight="normal" fill="#000">800</text>
<line x1="618.70" y1="402.00" x2="618.70" y2="406.00" stroke="#000" stroke-width="1.2"/>
<text x="618.70" y="423.60" font-size="16" text-anchor="middle" font-weight="normal" fill="#000">1000</text>
<text x="22.80" y="338.70" font-size="14" text-anchor="middle" font-weight="normal" fill="#000" transform="rotate(-90 22.80 338.70)" textLength="83.2" lengthAdjust="spacingAndGlyphs">SDC (mAh/g)</text>
<text x="676.50" y="329.60" font-size="16.5" text-anchor="middle" font-weight="normal" fill="#ff1a1a" transform="rotate(-90 676.50 329.60)" textLength="160" lengthAdjust="spacingAndGlyphs">Specific energy (Wh/Kg)</text>
<text x="354.10" y="442.40" font-size="15" text-anchor="middle" font-weight="normal" fill="#000" textLength="91" lengthAdjust="spacingAndGlyphs">Cycle number</text>
<circle cx="87.40" cy="362.10" r="5.8" fill="#66c4fa" fill-opacity="1.0" stroke="#1a2a40" stroke-width="1.0"/>
<text x="99.30" y="367.80" font-size="15" text-anchor="start" font-weight="normal" fill="#000" textLength="57.9" lengthAdjust="spacingAndGlyphs">600C-6h</text>
<circle cx="87.40" cy="384.80" r="5.8" fill="#f4b886" fill-opacity="1.0" stroke="#2a2a40" stroke-width="1.0"/>
<text x="100.60" y="390.00" font-size="15" text-anchor="start" font-weight="normal" fill="#000" textLength="40.8" lengthAdjust="spacingAndGlyphs">s-LNO</text>
<circle cx="524.60" cy="270.80" r="6.3" fill="#fff" fill-opacity="1.0" stroke="#ff4a4a" stroke-width="1.0"/>
<circle cx="522.50" cy="268.50" r="2.2" fill="#ffc0c0" fill-opacity="1.0" stroke="#ff8080" stroke-width="0.6"/>
<text x="536.20" y="276.00" font-size="15" text-anchor="start" font-weight="normal" fill="#000" textLength="57.8" lengthAdjust="spacingAndGlyphs">600C-6h</text>
<line x1="594.50" y1="271.30" x2="609.00" y2="271.30" stroke="#ff1a1a" stroke-width="1.3"/>
<path d="M616.50,271.30 L607.50,276.30 L607.50,266.30 Z" fill="#ff1a1a" stroke="none"/>
<text x="346.1" y="334.8" font-size="15" fill="#000" textLength="236.7" lengthAdjust="spacingAndGlyphs">88%&#160; w.r.t 1<tspan font-size="9" dy="-7">st</tspan><tspan dy="7"> cycle for1000 cycles</tspan></text>
<line x1="587.90" y1="328.30" x2="605.00" y2="320.30" stroke="#8ab8e8" stroke-width="1.2"/>
<path d="M612.40,316.60 L606.08,324.32 L602.43,316.54 Z" fill="#8ab8e8" stroke="none"/>
<line x1="260.90" y1="352.60" x2="241.00" y2="345.00" stroke="#f8c860" stroke-width="1.5"/>
<path d="M233.90,341.30 L244.52,340.54 L240.81,349.40 Z" fill="#f8c860" stroke="none"/>
<text x="265" y="358.1" font-size="15" fill="#000" textLength="156.6" lengthAdjust="spacingAndGlyphs">Stopped at 300<tspan font-size="9" dy="-7">th</tspan><tspan dy="7"> cycle</tspan></text>
<text x="434.80" y="388.00" font-size="15" text-anchor="start" font-weight="normal" fill="#000" textLength="173.4" lengthAdjust="spacingAndGlyphs">2.7-4.8 V, 2C (360 mA/g)</text>
<text x="7.50" y="473.40" font-size="21.5" text-anchor="start" font-weight="bold" fill="#000">d</text>
<g clip-path="url(#clipd)" stroke-linejoin="round" stroke-linecap="round">
<path d="M82.50,545.60 L109.00,546.40 L138.40,548.20 L167.60,551.90 L172.00,553.00 L175.00,551.00 L180.90,550.40 L187.00,553.50 L191.30,572.80 L195.70,559.40 L204.70,558.60 L215.00,555.00 L224.00,555.80 L230.00,556.50 L233.20,565.30 L235.50,564.00 L238.70,555.20 L245.00,553.60 L249.00,558.00 L253.40,575.40 L257.00,563.50 L263.50,554.30 L267.00,550.80 L272.60,546.00 L290.00,545.40 L331.50,545.20" stroke="#2233cc" stroke-width="2.0" fill="none"/>
<path d="M82.50,545.80 L150.00,545.80 L183.00,545.50 L185.50,538.00 L187.60,537.00 L189.50,541.00 L192.50,515.00 L195.70,482.70 L198.50,495.00 L201.50,518.00 L203.20,523.60 L207.70,527.30 L212.10,528.00 L218.00,531.00 L222.60,534.80 L230.00,535.50 L234.20,532.30 L238.00,528.00 L241.10,525.90 L245.00,533.00 L250.70,537.80 L255.00,533.00 L259.80,528.60 L264.00,533.00 L268.00,535.50 L272.60,536.90 L278.00,537.80 L283.60,540.60 L295.00,542.00 L305.90,542.90 L331.50,544.40" stroke="#2233cc" stroke-width="2.0" fill="none"/>
<path d="M82.50,545.50 L160.00,546.00 L169.00,549.40 L172.50,556.00 L175.00,561.60 L178.00,557.00 L180.90,551.90 L185.00,553.50 L187.00,565.00 L189.00,581.00 L191.00,572.00 L192.80,562.30 L195.70,559.40 L204.70,560.10 L212.00,557.50 L219.50,560.10 L224.00,556.50 L227.00,557.00 L230.00,557.70 L233.20,573.50 L235.00,572.80 L237.80,555.20 L243.30,552.50 L248.00,556.00 L250.70,572.60 L253.40,626.00 L254.00,626.00 L255.20,545.20 L331.50,545.20" stroke="#f7941d" stroke-width="2.2" fill="none"/>
<path d="M82.50,545.50 L160.00,545.80 L188.50,546.00 L189.20,530.30 L190.50,530.30 L191.00,546.00 L192.00,540.00 L194.50,500.00 L196.50,487.90 L198.50,492.00 L200.20,514.70 L202.00,523.00 L204.70,528.80 L208.00,527.50 L212.10,525.90 L217.00,529.00 L224.00,534.80 L227.00,533.00 L229.60,529.60 L234.20,533.20 L238.70,525.00 L240.50,516.00 L241.90,511.20 L243.50,518.00 L245.50,530.00 L247.00,536.00 L250.70,538.70 L255.20,532.30 L256.80,515.00 L257.60,506.60 L258.90,486.50 L261.30,493.80 L263.50,521.30 L266.20,538.70 L270.80,543.30 L275.20,543.90 L308.00,543.90 L312.50,540.30 L315.50,542.20 L331.50,542.90" stroke="#f7941d" stroke-width="2.2" fill="none"/>
<rect x="262.6" y="547" width="7.3" height="7.5" fill="#2233cc"/>
<line x1="190.50" y1="538.00" x2="190.50" y2="555.00" stroke="#2233cc" stroke-width="1.6"/>
</g>
<path d="M82.5,465.3 H331.5 V625.4 H82.5 Z" stroke="#000" stroke-width="1.25" fill="none"/>
<line x1="82.50" y1="620.46" x2="79.50" y2="620.46" stroke="#000" stroke-width="1.2"/>
<line x1="82.50" y1="590.36" x2="79.50" y2="590.36" stroke="#000" stroke-width="1.2"/>
<line x1="82.50" y1="560.25" x2="79.50" y2="560.25" stroke="#000" stroke-width="1.2"/>
<line x1="82.50" y1="530.15" x2="79.50" y2="530.15" stroke="#000" stroke-width="1.2"/>
<line x1="82.50" y1="500.04" x2="79.50" y2="500.04" stroke="#000" stroke-width="1.2"/>
<line x1="82.50" y1="469.94" x2="79.50" y2="469.94" stroke="#000" stroke-width="1.2"/>
<line x1="82.50" y1="605.41" x2="77.50" y2="605.41" stroke="#000" stroke-width="1.2"/>
<text x="74.00" y="611.11" font-size="16" text-anchor="end" font-weight="normal" fill="#000">-1200</text>
<line x1="82.50" y1="575.31" x2="77.50" y2="575.31" stroke="#000" stroke-width="1.2"/>
<text x="74.00" y="581.01" font-size="16" text-anchor="end" font-weight="normal" fill="#000">-600</text>
<line x1="82.50" y1="545.20" x2="77.50" y2="545.20" stroke="#000" stroke-width="1.2"/>
<text x="74.00" y="550.90" font-size="16" text-anchor="end" font-weight="normal" fill="#000">0</text>
<line x1="82.50" y1="515.09" x2="77.50" y2="515.09" stroke="#000" stroke-width="1.2"/>
<text x="74.00" y="520.79" font-size="16" text-anchor="end" font-weight="normal" fill="#000">600</text>
<line x1="82.50" y1="484.99" x2="77.50" y2="484.99" stroke="#000" stroke-width="1.2"/>
<text x="74.00" y="490.69" font-size="16" text-anchor="end" font-weight="normal" fill="#000">1200</text>
<line x1="118.15" y1="625.40" x2="118.15" y2="628.40" stroke="#000" stroke-width="1.2"/>
<line x1="165.45" y1="625.40" x2="165.45" y2="628.40" stroke="#000" stroke-width="1.2"/>
<line x1="212.75" y1="625.40" x2="212.75" y2="628.40" stroke="#000" stroke-width="1.2"/>
<line x1="260.05" y1="625.40" x2="260.05" y2="628.40" stroke="#000" stroke-width="1.2"/>
<line x1="307.35" y1="625.40" x2="307.35" y2="628.40" stroke="#000" stroke-width="1.2"/>
<line x1="94.50" y1="625.40" x2="94.50" y2="630.40" stroke="#000" stroke-width="1.2"/>
<text x="94.50" y="647.30" font-size="16" text-anchor="middle" font-weight="normal" fill="#000">2.8</text>
<line x1="141.80" y1="625.40" x2="141.80" y2="630.40" stroke="#000" stroke-width="1.2"/>
<text x="141.80" y="647.30" font-size="16" text-anchor="middle" font-weight="normal" fill="#000">3.2</text>
<line x1="189.10" y1="625.40" x2="189.10" y2="630.40" stroke="#000" stroke-width="1.2"/>
<text x="189.10" y="647.30" font-size="16" text-anchor="middle" font-weight="normal" fill="#000">3.6</text>
<line x1="236.40" y1="625.40" x2="236.40" y2="630.40" stroke="#000" stroke-width="1.2"/>
<text x="236.40" y="647.30" font-size="16" text-anchor="middle" font-weight="normal" fill="#000">4.0</text>
<line x1="283.70" y1="625.40" x2="283.70" y2="630.40" stroke="#000" stroke-width="1.2"/>
<text x="283.70" y="647.30" font-size="16" text-anchor="middle" font-weight="normal" fill="#000">4.4</text>
<line x1="331.00" y1="625.40" x2="331.00" y2="630.40" stroke="#000" stroke-width="1.2"/>
<text x="331.00" y="647.30" font-size="16" text-anchor="middle" font-weight="normal" fill="#000">4.8</text>
<text x="25.50" y="550.20" font-size="15.5" text-anchor="middle" font-weight="normal" fill="#000" transform="rotate(-90 25.50 550.20)" textLength="121.5" lengthAdjust="spacingAndGlyphs">dQ/dV (mAh/g/V)</text>
<text x="208.60" y="664.80" font-size="15" text-anchor="middle" font-weight="normal" fill="#000" textLength="72.9" lengthAdjust="spacingAndGlyphs">Voltage (V)</text>
<text x="169.50" y="479.20" font-size="15" text-anchor="start" font-weight="normal" fill="#000" textLength="38.9" lengthAdjust="spacingAndGlyphs">H1-M</text>
<text x="235.90" y="481.70" font-size="15" text-anchor="start" font-weight="normal" fill="#000" textLength="43.7" lengthAdjust="spacingAndGlyphs">H2-H3</text>
<text x="212.20" y="503.90" font-size="15" text-anchor="start" font-weight="normal" fill="#000" textLength="38.5" lengthAdjust="spacingAndGlyphs">M-H2</text>
<line x1="95.00" y1="577.40" x2="113.20" y2="577.40" stroke="#2233cc" stroke-width="2.2"/>
<text x="116.80" y="582.80" font-size="15" text-anchor="start" font-weight="normal" fill="#000" textLength="57.9" lengthAdjust="spacingAndGlyphs">600C-6h</text>
<line x1="95.00" y1="600.40" x2="113.20" y2="600.40" stroke="#f7941d" stroke-width="2.2"/>
<text x="117.50" y="605.80" font-size="15" text-anchor="start" font-weight="normal" fill="#000" textLength="40.8" lengthAdjust="spacingAndGlyphs">s-LNO</text>
<text x="357.50" y="467.40" font-size="21.5" text-anchor="start" font-weight="bold" fill="#000">e</text>
<g clip-path="url(#clipe)" stroke-linejoin="round" stroke-linecap="round" fill="none">
<path d="M418.10,518.40 C419.61,519.08 423.91,521.60 427.14,522.48 C430.37,523.37 434.04,523.33 437.50,523.70 C440.96,524.07 444.47,524.14 447.88,524.72 C451.30,525.29 454.63,526.29 457.99,527.16 C461.34,528.03 464.64,529.18 468.04,529.92 C471.43,530.66 474.93,530.92 478.33,531.61 C481.73,532.30 485.12,533.01 488.42,534.06 C491.72,535.11 494.90,536.58 498.12,537.90 C501.33,539.22 504.54,540.57 507.72,541.97 C510.90,543.38 514.02,544.92 517.21,546.31 C520.39,547.71 523.61,549.03 526.83,550.34 C530.05,551.65 533.29,552.93 536.54,554.16 C539.79,555.40 542.98,556.82 546.31,557.77 C549.64,558.73 553.67,558.29 556.53,559.90 C559.39,561.52 561.66,564.59 563.47,567.46 C565.29,570.32 566.27,573.82 567.40,577.10 C568.53,580.38 569.40,583.76 570.26,587.13 C571.12,590.50 571.87,593.90 572.55,597.31 C573.22,600.72 573.87,604.72 574.30,607.59 C574.73,610.46 574.97,613.35 575.10,614.50" stroke="#f01890" stroke-width="2.0" fill="none"/>
<path d="M418.10,522.05 C419.44,522.87 423.09,525.93 426.13,526.98 C429.17,528.03 432.91,527.95 436.31,528.35 C439.72,528.76 443.18,528.86 446.56,529.41 C449.94,529.95 453.25,530.83 456.58,531.62 C459.92,532.40 463.20,533.42 466.56,534.10 C469.92,534.78 473.37,535.08 476.73,535.72 C480.10,536.35 483.46,536.98 486.75,537.91 C490.03,538.83 493.23,540.11 496.44,541.26 C499.66,542.42 502.87,543.62 506.06,544.86 C509.25,546.09 512.39,547.42 515.58,548.66 C518.77,549.89 521.98,551.09 525.20,552.27 C528.42,553.44 531.65,554.60 534.88,555.72 C538.12,556.85 541.33,558.05 544.62,559.01 C547.90,559.97 551.69,559.95 554.58,561.49 C557.47,563.03 560.04,565.58 561.98,568.26 C563.91,570.94 565.01,574.39 566.20,577.59 C567.38,580.79 568.25,584.14 569.11,587.45 C569.97,590.77 570.72,594.13 571.37,597.50 C572.01,600.87 572.57,604.84 572.96,607.67 C573.34,610.50 573.53,613.36 573.65,614.50" stroke="#f58a30" stroke-width="2.0" fill="none"/>
<path d="M418.10,525.54 C419.28,526.49 422.32,530.06 425.17,531.27 C428.01,532.48 431.83,532.36 435.18,532.79 C438.54,533.23 441.96,533.37 445.30,533.88 C448.64,534.40 451.94,535.17 455.25,535.87 C458.55,536.57 461.83,537.46 465.15,538.09 C468.48,538.72 471.88,539.06 475.21,539.64 C478.54,540.22 481.88,540.78 485.15,541.58 C488.42,542.39 491.63,543.47 494.85,544.47 C498.07,545.48 501.27,546.54 504.47,547.61 C507.67,548.68 510.84,549.81 514.03,550.89 C517.23,551.98 520.43,553.05 523.64,554.11 C526.85,555.16 530.08,556.20 533.30,557.21 C536.53,558.22 539.76,559.22 543.00,560.19 C546.24,561.15 549.80,561.53 552.72,563.00 C555.65,564.48 558.50,566.52 560.55,569.03 C562.60,571.54 563.80,574.93 565.04,578.06 C566.29,581.18 567.15,584.49 568.01,587.76 C568.88,591.04 569.63,594.35 570.24,597.68 C570.85,601.01 571.33,604.94 571.67,607.75 C572.01,610.55 572.16,613.37 572.26,614.50" stroke="#f2d440" stroke-width="2.0" fill="none"/>
<path d="M418.10,529.36 C419.10,530.46 421.47,534.58 424.11,535.96 C426.75,537.35 430.65,537.19 433.95,537.66 C437.25,538.13 440.61,538.31 443.92,538.79 C447.23,539.26 450.50,539.92 453.78,540.53 C457.06,541.14 460.32,541.90 463.61,542.47 C466.90,543.03 470.24,543.41 473.54,543.94 C476.84,544.46 480.14,544.93 483.40,545.61 C486.66,546.28 489.88,547.15 493.10,547.99 C496.32,548.82 499.53,549.73 502.73,550.62 C505.94,551.51 509.13,552.43 512.33,553.34 C515.53,554.26 518.73,555.21 521.94,556.12 C525.14,557.04 528.36,557.95 531.57,558.84 C534.79,559.73 538.04,560.51 541.23,561.48 C544.41,562.45 547.73,563.26 550.69,564.66 C553.65,566.06 556.80,567.55 558.98,569.87 C561.17,572.19 562.48,575.53 563.78,578.57 C565.09,581.61 565.94,584.89 566.81,588.10 C567.68,591.32 568.43,594.60 569.00,597.88 C569.58,601.17 569.98,605.06 570.27,607.83 C570.56,610.60 570.66,613.39 570.74,614.50" stroke="#20d820" stroke-width="2.0" fill="none"/>
<path d="M418.10,532.68 C418.95,533.90 420.73,538.51 423.19,540.05 C425.65,541.58 429.62,541.38 432.87,541.88 C436.12,542.38 439.45,542.60 442.72,543.05 C445.99,543.50 449.25,544.05 452.51,544.58 C455.76,545.12 459.01,545.75 462.27,546.27 C465.53,546.78 468.82,547.20 472.09,547.67 C475.36,548.15 478.64,548.55 481.88,549.11 C485.13,549.67 488.36,550.35 491.58,551.04 C494.80,551.73 498.01,552.50 501.22,553.24 C504.43,553.98 507.65,554.70 510.85,555.47 C514.06,556.25 517.25,557.08 520.45,557.88 C523.66,558.67 526.86,559.47 530.07,560.25 C533.27,561.04 536.54,561.63 539.69,562.60 C542.83,563.58 545.93,564.77 548.92,566.11 C551.91,567.44 555.33,568.45 557.62,570.60 C559.92,572.75 561.33,576.05 562.69,579.02 C564.04,581.98 564.89,585.23 565.76,588.40 C566.64,591.57 567.38,594.81 567.93,598.06 C568.48,601.31 568.79,605.16 569.04,607.90 C569.29,610.64 569.36,613.40 569.42,614.50" stroke="#30c8e8" stroke-width="2.0" fill="none"/>
<path d="M418.10,535.00 C418.84,536.32 420.21,541.27 422.55,542.91 C424.89,544.55 428.90,544.32 432.12,544.84 C435.34,545.36 438.63,545.60 441.88,546.03 C445.13,546.46 448.37,546.94 451.61,547.42 C454.86,547.90 458.09,548.45 461.33,548.93 C464.57,549.41 467.82,549.85 471.07,550.29 C474.32,550.73 477.58,551.07 480.82,551.56 C484.06,552.04 487.29,552.60 490.52,553.18 C493.74,553.77 496.95,554.44 500.17,555.07 C503.38,555.70 506.61,556.29 509.82,556.96 C513.02,557.64 516.21,558.39 519.41,559.10 C522.61,559.82 525.81,560.53 529.01,561.25 C532.21,561.96 535.50,562.41 538.61,563.39 C541.72,564.37 544.67,565.83 547.68,567.12 C550.69,568.40 554.30,569.07 556.67,571.11 C559.04,573.14 560.52,576.41 561.92,579.33 C563.31,582.25 564.15,585.46 565.03,588.61 C565.91,591.75 566.65,594.96 567.18,598.18 C567.70,601.40 567.97,605.23 568.19,607.95 C568.41,610.67 568.45,613.41 568.50,614.50" stroke="#3058f0" stroke-width="2.0" fill="none"/>
<path d="M418.10,552.10 C419.72,551.88 424.58,551.31 427.81,550.79 C431.03,550.28 434.23,549.63 437.43,549.01 C440.64,548.40 443.85,547.79 447.04,547.09 C450.23,546.40 453.40,545.63 456.57,544.86 C459.74,544.09 463.02,543.54 466.07,542.48 C469.13,541.42 471.96,539.81 474.90,538.51 C477.85,537.20 480.68,535.61 483.75,534.65 C486.83,533.68 490.15,533.36 493.35,532.72 C496.55,532.08 499.76,531.47 502.96,530.79 C506.15,530.11 509.33,529.36 512.51,528.64 C515.69,527.92 518.91,527.30 522.06,526.47 C525.21,525.65 528.38,524.89 531.39,523.69 C534.41,522.50 537.10,520.43 540.14,519.28 C543.17,518.13 546.46,517.66 549.60,516.80 C552.73,515.94 556.06,515.50 558.95,514.10 C561.84,512.71 564.64,510.71 566.94,508.45 C569.23,506.19 570.94,503.27 572.71,500.53 C574.48,497.80 575.96,494.89 577.57,492.05 C579.18,489.21 581.01,485.87 582.37,483.51 C583.72,481.16 585.14,478.84 585.70,477.90" stroke="#f01890" stroke-width="2.0" fill="none"/>
<path d="M418.10,551.28 C419.58,550.92 424.00,549.77 426.99,549.17 C429.98,548.57 433.03,548.18 436.05,547.67 C439.06,547.17 442.10,546.75 445.10,546.12 C448.09,545.49 451.04,544.68 454.00,543.90 C456.96,543.12 459.96,542.42 462.85,541.44 C465.73,540.47 468.52,539.26 471.31,538.06 C474.10,536.85 476.76,535.33 479.58,534.22 C482.41,533.11 485.36,532.32 488.26,531.40 C491.16,530.47 494.16,529.74 496.98,528.67 C499.80,527.59 502.42,526.14 505.19,524.96 C507.96,523.77 510.76,522.66 513.58,521.56 C516.41,520.46 519.34,519.55 522.14,518.36 C524.95,517.16 527.63,515.60 530.43,514.39 C533.22,513.17 536.18,512.36 538.89,511.07 C541.59,509.79 544.14,508.32 546.65,506.67 C549.17,505.02 551.65,503.09 553.98,501.16 C556.31,499.23 558.45,497.09 560.63,495.08 C562.81,493.06 564.99,491.16 567.06,489.05 C569.13,486.94 571.40,484.26 573.07,482.40 C574.73,480.54 576.40,478.65 577.07,477.90" stroke="#f58a30" stroke-width="2.0" fill="none"/>
<path d="M418.10,551.11 C419.55,550.73 423.87,549.45 426.82,548.84 C429.76,548.22 432.78,547.89 435.76,547.40 C438.74,546.91 441.75,546.53 444.70,545.92 C447.65,545.30 450.56,544.49 453.47,543.70 C456.39,542.92 459.33,542.19 462.19,541.23 C465.04,540.27 467.82,539.15 470.58,537.97 C473.33,536.78 475.96,535.27 478.73,534.13 C481.51,532.99 484.38,532.11 487.22,531.13 C490.06,530.15 493.01,529.39 495.75,528.23 C498.50,527.08 501.01,525.48 503.69,524.20 C506.37,522.92 509.09,521.71 511.85,520.56 C514.61,519.40 517.49,518.46 520.25,517.27 C523.02,516.07 525.70,514.61 528.44,513.39 C531.18,512.16 534.08,511.27 536.70,509.90 C539.32,508.53 541.70,506.85 544.14,505.15 C546.58,503.44 548.99,501.54 551.33,499.67 C553.67,497.81 555.90,495.83 558.16,493.96 C560.42,492.09 562.74,490.40 564.91,488.44 C567.08,486.48 569.43,483.93 571.16,482.17 C572.89,480.42 574.61,478.61 575.30,477.90" stroke="#f2d440" stroke-width="2.0" fill="none"/>
<path d="M418.10,550.94 C419.53,550.53 423.75,549.14 426.65,548.50 C429.55,547.87 432.54,547.59 435.48,547.13 C438.42,546.66 441.39,546.32 444.30,545.72 C447.21,545.12 450.07,544.29 452.95,543.51 C455.82,542.73 458.71,541.96 461.53,541.02 C464.34,540.08 467.11,539.04 469.84,537.87 C472.57,536.71 475.16,535.22 477.88,534.05 C480.60,532.88 483.40,531.90 486.18,530.86 C488.96,529.82 491.86,529.03 494.53,527.80 C497.20,526.56 499.60,524.82 502.19,523.45 C504.79,522.08 507.42,520.77 510.12,519.55 C512.81,518.34 515.64,517.37 518.36,516.17 C521.08,514.98 523.76,513.62 526.45,512.38 C529.14,511.14 531.98,510.19 534.51,508.73 C537.04,507.27 539.26,505.38 541.62,503.63 C543.99,501.87 546.34,499.98 548.68,498.18 C551.02,496.38 553.35,494.57 555.69,492.84 C558.04,491.12 560.50,489.64 562.76,487.83 C565.02,486.01 567.46,483.60 569.26,481.95 C571.06,480.29 572.82,478.57 573.53,477.90" stroke="#20d820" stroke-width="2.0" fill="none"/>
<path d="M418.10,550.77 C419.50,550.34 423.63,548.82 426.48,548.17 C429.33,547.52 432.29,547.29 435.20,546.85 C438.10,546.41 441.03,546.11 443.90,545.52 C446.78,544.93 449.59,544.10 452.42,543.31 C455.25,542.53 458.08,541.73 460.87,540.80 C463.65,539.88 466.41,538.92 469.11,537.78 C471.80,536.64 474.35,535.16 477.03,533.96 C479.70,532.76 482.43,531.69 485.14,530.59 C487.85,529.49 490.72,528.68 493.31,527.36 C495.90,526.05 498.19,524.17 500.70,522.70 C503.21,521.23 505.75,519.82 508.38,518.55 C511.01,517.28 513.79,516.28 516.47,515.08 C519.15,513.89 521.82,512.64 524.47,511.38 C527.11,510.13 529.88,509.10 532.32,507.56 C534.76,506.01 536.82,503.92 539.11,502.10 C541.39,500.29 543.68,498.42 546.03,496.69 C548.38,494.96 550.79,493.31 553.22,491.73 C555.65,490.15 558.25,488.88 560.61,487.21 C562.97,485.55 565.50,483.27 567.36,481.72 C569.22,480.17 571.03,478.54 571.77,477.90" stroke="#30c8e8" stroke-width="2.0" fill="none"/>
<path d="M418.10,550.60 C419.47,550.14 423.51,548.51 426.32,547.84 C429.12,547.17 432.05,547.00 434.91,546.58 C437.78,546.16 440.68,545.90 443.51,545.32 C446.34,544.74 449.11,543.91 451.89,543.12 C454.68,542.33 457.46,541.50 460.21,540.59 C462.95,539.69 465.71,538.81 468.37,537.69 C471.03,536.57 473.55,535.10 476.17,533.87 C478.80,532.64 481.45,531.48 484.10,530.32 C486.75,529.16 489.57,528.33 492.09,526.93 C494.60,525.53 496.77,523.51 499.20,521.94 C501.63,520.38 504.09,518.87 506.65,517.54 C509.21,516.22 511.94,515.18 514.58,513.99 C517.21,512.80 519.89,511.65 522.48,510.38 C525.07,509.11 527.78,508.02 530.13,506.39 C532.48,504.75 534.39,502.45 536.60,500.58 C538.80,498.72 541.02,496.86 543.38,495.20 C545.74,493.54 548.24,492.04 550.75,490.61 C553.27,489.18 556.01,488.12 558.46,486.60 C560.91,485.08 563.53,482.94 565.46,481.49 C567.38,480.04 569.24,478.50 570.00,477.90" stroke="#3058f0" stroke-width="2.0" fill="none"/>
<path d="M417.6,476.6 L417.6,505 L418.10,511.20 C419.28,511.80 422.32,513.68 425.20,514.80 C428.08,515.92 431.13,517.05 435.40,517.90 C439.67,518.75 446.53,519.38 450.80,519.90 C455.07,520.42 457.93,520.40 461.00,521.00 C464.07,521.60 466.65,522.40 469.20,523.50 C471.75,524.60 473.67,526.58 476.30,527.60 C478.93,528.62 480.48,528.60 485.00,529.60 C489.52,530.60 497.42,531.75 503.40,533.60 C509.38,535.45 514.80,538.53 520.90,540.70 C527.00,542.87 533.65,544.82 540.00,546.60 C546.35,548.38 552.67,550.13 559.00,551.40 C565.33,552.67 573.58,553.42 578.00,554.20 C582.42,554.98 583.30,554.83 585.50,556.10 C587.70,557.37 588.98,559.90 591.20,561.80 C593.42,563.70 596.58,565.28 598.80,567.50 C601.02,569.72 602.60,571.93 604.50,575.10 C606.40,578.27 608.45,582.08 610.20,586.50 C611.95,590.92 613.88,596.87 615.00,601.60 C616.12,606.33 616.58,612.68 616.90,614.90" stroke="#000" stroke-width="2.4" fill="none"/>
<path d="M417.60,581.60 C417.60,578.17 417.52,565.07 417.60,561.00 C417.68,556.93 416.83,558.15 418.10,557.20 C419.37,556.25 420.60,555.88 425.20,555.30 C429.80,554.72 437.92,554.15 445.70,553.70 C453.48,553.25 466.18,552.95 471.90,552.60 C477.62,552.25 476.83,552.15 480.00,551.60 C483.17,551.05 485.92,550.68 490.90,549.30 C495.88,547.92 504.90,544.85 509.90,543.30 C514.90,541.75 516.15,541.70 520.90,540.00 C525.65,538.30 532.05,535.17 538.40,533.10 C544.75,531.03 552.40,529.47 559.00,527.60 C565.60,525.73 573.27,523.48 578.00,521.90 C582.73,520.32 583.30,519.37 587.40,518.10 C591.50,516.83 597.85,515.87 602.60,514.30 C607.35,512.73 611.78,511.07 615.90,508.70 C620.02,506.33 624.45,502.95 627.30,500.10 C630.15,497.25 631.42,495.23 633.00,491.60 C634.58,487.97 636.17,480.52 636.80,478.30 L646.3,477.9" stroke="#000" stroke-width="2.4" fill="none"/>
</g>
<path d="M417.5,465.3 H666.3 V625.6 H417.5 Z" stroke="#000" stroke-width="1.1" fill="none"/>
<line x1="417.50" y1="609.75" x2="414.50" y2="609.75" stroke="#000" stroke-width="1.2"/>
<line x1="417.50" y1="577.65" x2="414.50" y2="577.65" stroke="#000" stroke-width="1.2"/>
<line x1="417.50" y1="545.55" x2="414.50" y2="545.55" stroke="#000" stroke-width="1.2"/>
<line x1="417.50" y1="513.45" x2="414.50" y2="513.45" stroke="#000" stroke-width="1.2"/>
<line x1="417.50" y1="481.35" x2="414.50" y2="481.35" stroke="#000" stroke-width="1.2"/>
<line x1="417.50" y1="625.80" x2="412.50" y2="625.80" stroke="#000" stroke-width="1.2"/>
<text x="408.60" y="631.50" font-size="16" text-anchor="end" font-weight="normal" fill="#000">2.5</text>
<line x1="417.50" y1="593.70" x2="412.50" y2="593.70" stroke="#000" stroke-width="1.2"/>
<text x="408.60" y="599.40" font-size="16" text-anchor="end" font-weight="normal" fill="#000">3.0</text>
<line x1="417.50" y1="561.60" x2="412.50" y2="561.60" stroke="#000" stroke-width="1.2"/>
<text x="408.60" y="567.30" font-size="16" text-anchor="end" font-weight="normal" fill="#000">3.5</text>
<line x1="417.50" y1="529.50" x2="412.50" y2="529.50" stroke="#000" stroke-width="1.2"/>
<text x="408.60" y="535.20" font-size="16" text-anchor="end" font-weight="normal" fill="#000">4.0</text>
<line x1="417.50" y1="497.40" x2="412.50" y2="497.40" stroke="#000" stroke-width="1.2"/>
<text x="408.60" y="503.10" font-size="16" text-anchor="end" font-weight="normal" fill="#000">4.5</text>
<line x1="417.50" y1="465.30" x2="412.50" y2="465.30" stroke="#000" stroke-width="1.2"/>
<text x="408.60" y="471.00" font-size="16" text-anchor="end" font-weight="normal" fill="#000">5.0</text>
<line x1="438.15" y1="625.60" x2="438.15" y2="628.60" stroke="#000" stroke-width="1.2"/>
<line x1="479.65" y1="625.60" x2="479.65" y2="628.60" stroke="#000" stroke-width="1.2"/>
<line x1="521.15" y1="625.60" x2="521.15" y2="628.60" stroke="#000" stroke-width="1.2"/>
<line x1="562.65" y1="625.60" x2="562.65" y2="628.60" stroke="#000" stroke-width="1.2"/>
<line x1="604.15" y1="625.60" x2="604.15" y2="628.60" stroke="#000" stroke-width="1.2"/>
<line x1="645.65" y1="625.60" x2="645.65" y2="628.60" stroke="#000" stroke-width="1.2"/>
<line x1="417.40" y1="625.60" x2="417.40" y2="630.60" stroke="#000" stroke-width="1.2"/>
<text x="417.40" y="647.00" font-size="16" text-anchor="middle" font-weight="normal" fill="#000">0</text>
<line x1="458.90" y1="625.60" x2="458.90" y2="630.60" stroke="#000" stroke-width="1.2"/>
<text x="458.90" y="647.00" font-size="16" text-anchor="middle" font-weight="normal" fill="#000">50</text>
<line x1="500.40" y1="625.60" x2="500.40" y2="630.60" stroke="#000" stroke-width="1.2"/>
<text x="500.40" y="647.00" font-size="16" text-anchor="middle" font-weight="normal" fill="#000">100</text>
<line x1="541.90" y1="625.60" x2="541.90" y2="630.60" stroke="#000" stroke-width="1.2"/>
<text x="541.90" y="647.00" font-size="16" text-anchor="middle" font-weight="normal" fill="#000">150</text>
<line x1="583.40" y1="625.60" x2="583.40" y2="630.60" stroke="#000" stroke-width="1.2"/>
<text x="583.40" y="647.00" font-size="16" text-anchor="middle" font-weight="normal" fill="#000">200</text>
<line x1="624.90" y1="625.60" x2="624.90" y2="630.60" stroke="#000" stroke-width="1.2"/>
<text x="624.90" y="647.00" font-size="16" text-anchor="middle" font-weight="normal" fill="#000">250</text>
<line x1="666.40" y1="625.60" x2="666.40" y2="630.60" stroke="#000" stroke-width="1.2"/>
<text x="666.40" y="647.00" font-size="16" text-anchor="middle" font-weight="normal" fill="#000">300</text>
<text x="371.00" y="542.30" font-size="15" text-anchor="middle" font-weight="normal" fill="#000" transform="rotate(-90 371.00 542.30)" textLength="73.7" lengthAdjust="spacingAndGlyphs">Voltage (V)</text>
<text x="551.50" y="664.60" font-size="15" text-anchor="middle" font-weight="normal" fill="#000" textLength="169.5" lengthAdjust="spacingAndGlyphs">Specific capacity (mAh/g)</text>
<text x="432.50" y="485.90" font-size="15" text-anchor="start" font-weight="normal" fill="#000" textLength="58.4" lengthAdjust="spacingAndGlyphs">600C-6h</text>
<text x="608.3" y="526.7" font-size="15" textLength="47.5" lengthAdjust="spacingAndGlyphs">1<tspan font-size="9" dy="-7">st</tspan><tspan dy="7"> cycle</tspan></text>
<text x="610.20" y="544.70" font-size="15" text-anchor="start" font-weight="normal" fill="#000" textLength="44.6" lengthAdjust="spacingAndGlyphs">at 0.1 C</text>
<text x="602.60" y="562.20" font-size="15" text-anchor="start" font-weight="normal" fill="#000" textLength="58.9" lengthAdjust="spacingAndGlyphs">(18 mA/g)</text>
<line x1="585.40" y1="583.00" x2="550.00" y2="583.00" stroke="#222" stroke-width="1.1"/>
<path d="M541.90,583.00 L550.90,579.00 L550.90,587.00 Z" fill="#000" stroke="none"/>
<text x="434.4" y="577" font-size="15" textLength="98.6" lengthAdjust="spacingAndGlyphs"><tspan fill="#f020c8">2<tspan font-size="9" dy="-7">nd</tspan></tspan><tspan fill="#2040d0" dy="7">-1000<tspan font-size="9" dy="-7">th</tspan></tspan><tspan dy="7"> cycles</tspan></text>
<text x="431.60" y="594.60" font-size="15" text-anchor="start" font-weight="normal" fill="#000" textLength="103.5" lengthAdjust="spacingAndGlyphs">at 2 C (360 mA/g)</text>
<rect x="421.3" y="611.4" width="2.1999999999999886" height="8.3" fill="#f020c8"/>
<rect x="423.5" y="611.4" width="27.80000000000001" height="8.3" fill="#f08030"/>
<rect x="451.3" y="611.4" width="26.899999999999977" height="8.3" fill="#fde08a"/>
<rect x="478.2" y="611.4" width="27.400000000000034" height="8.3" fill="#a8d08a"/>
<rect x="505.6" y="611.4" width="27.399999999999977" height="8.3" fill="#10b0f0"/>
<rect x="533" y="611.4" width="27.799999999999955" height="8.3" fill="#0a14c0"/>
<rect x="421.3" y="611.4" width="139.5" height="8.3" fill="none" stroke="#333" stroke-width="0.9"/>
<text x="420.2" y="608.8" font-size="7" fill="#f020c8">2<tspan font-size="4.5" dy="-2.5">nd</tspan></text>
<text x="432.2" y="608.8" font-size="7" fill="#f08030">200<tspan font-size="4.5" dy="-2.5">th</tspan></text>
<text x="457" y="608.8" font-size="7" fill="#f8d080">400<tspan font-size="4.5" dy="-2.5">th</tspan></text>
<text x="483.7" y="608.8" font-size="7" fill="#a8d08a">600<tspan font-size="4.5" dy="-2.5">th</tspan></text>
<text x="510" y="608.8" font-size="7" fill="#10b0f0">800<tspan font-size="4.5" dy="-2.5">th</tspan></text>
<text x="536.2" y="608.8" font-size="7" fill="#0a14c0">1000<tspan font-size="4.5" dy="-2.5">th</tspan></text>
<text x="9.30" y="670.60" font-size="21.5" text-anchor="start" font-weight="bold" fill="#000">f</text>
<polygon points="80.65,703.00 78.85,706.12 75.25,706.12 73.45,703.00 75.25,699.88 78.85,699.88" fill="#58bcf0" stroke="#1a2a40" stroke-width="0.7"/>
<polygon points="83.96,697.00 82.16,700.12 78.56,700.12 76.76,697.00 78.56,693.88 82.16,693.88" fill="#58bcf0" stroke="#1a2a40" stroke-width="0.7"/>
<polygon points="87.27,695.32 85.47,698.44 81.87,698.44 80.07,695.32 81.87,692.20 85.47,692.20" fill="#58bcf0" stroke="#1a2a40" stroke-width="0.7"/>
<polygon points="90.57,694.78 88.77,697.90 85.17,697.90 83.37,694.78 85.17,691.66 88.77,691.66" fill="#58bcf0" stroke="#1a2a40" stroke-width="0.7"/>
<polygon points="93.88,692.20 92.08,695.32 88.48,695.32 86.68,692.20 88.48,689.08 92.08,689.08" fill="#58bcf0" stroke="#1a2a40" stroke-width="0.7"/>
<polygon points="97.19,692.20 95.39,695.32 91.79,695.32 89.99,692.20 91.79,689.08 95.39,689.08" fill="#58bcf0" stroke="#1a2a40" stroke-width="0.7"/>
<polygon points="100.49,691.16 98.69,694.28 95.09,694.28 93.29,691.16 95.09,688.04 98.69,688.04" fill="#58bcf0" stroke="#1a2a40" stroke-width="0.7"/>
<polygon points="103.80,694.85 102.00,697.97 98.40,697.97 96.60,694.85 98.40,691.73 102.00,691.73" fill="#58bcf0" stroke="#1a2a40" stroke-width="0.7"/>
<polygon points="107.11,697.42 105.31,700.54 101.71,700.54 99.91,697.42 101.71,694.30 105.31,694.30" fill="#58bcf0" stroke="#1a2a40" stroke-width="0.7"/>
<polygon points="110.42,695.84 108.62,698.96 105.02,698.96 103.22,695.84 105.02,692.72 108.62,692.72" fill="#58bcf0" stroke="#1a2a40" stroke-width="0.7"/>
<polygon points="113.72,693.20 111.92,696.32 108.32,696.32 106.52,693.20 108.32,690.08 111.92,690.08" fill="#58bcf0" stroke="#1a2a40" stroke-width="0.7"/>
<polygon points="117.03,692.75 115.23,695.87 111.63,695.87 109.83,692.75 111.63,689.63 115.23,689.63" fill="#58bcf0" stroke="#1a2a40" stroke-width="0.7"/>
<polygon points="120.34,692.58 118.54,695.70 114.94,695.70 113.14,692.58 114.94,689.46 118.54,689.46" fill="#58bcf0" stroke="#1a2a40" stroke-width="0.7"/>
<polygon points="123.64,697.53 121.84,700.65 118.24,700.65 116.44,697.53 118.24,694.41 121.84,694.41" fill="#58bcf0" stroke="#1a2a40" stroke-width="0.7"/>
<polygon points="126.95,696.50 125.15,699.62 121.55,699.62 119.75,696.50 121.55,693.38 125.15,693.38" fill="#58bcf0" stroke="#1a2a40" stroke-width="0.7"/>
<polygon points="130.26,693.86 128.46,696.98 124.86,696.98 123.06,693.86 124.86,690.75 128.46,690.75" fill="#58bcf0" stroke="#1a2a40" stroke-width="0.7"/>
<polygon points="133.57,695.41 131.77,698.53 128.17,698.53 126.37,695.41 128.17,692.29 131.77,692.29" fill="#58bcf0" stroke="#1a2a40" stroke-width="0.7"/>
<polygon points="136.87,693.78 135.07,696.90 131.47,696.90 129.67,693.78 131.47,690.66 135.07,690.66" fill="#58bcf0" stroke="#1a2a40" stroke-width="0.7"/>
<polygon points="140.18,692.90 138.38,696.02 134.78,696.02 132.98,692.90 134.78,689.78 138.38,689.78" fill="#58bcf0" stroke="#1a2a40" stroke-width="0.7"/>
<polygon points="143.49,696.48 141.69,699.60 138.09,699.60 136.29,696.48 138.09,693.36 141.69,693.36" fill="#58bcf0" stroke="#1a2a40" stroke-width="0.7"/>
<polygon points="146.80,699.53 145.00,702.64 141.40,702.64 139.60,699.53 141.40,696.41 145.00,696.41" fill="#58bcf0" stroke="#1a2a40" stroke-width="0.7"/>
<polygon points="150.10,696.49 148.30,699.61 144.70,699.61 142.90,696.49 144.70,693.37 148.30,693.37" fill="#58bcf0" stroke="#1a2a40" stroke-width="0.7"/>
<polygon points="153.41,694.69 151.61,697.81 148.01,697.81 146.21,694.69 148.01,691.57 151.61,691.57" fill="#58bcf0" stroke="#1a2a40" stroke-width="0.7"/>
<polygon points="156.72,696.73 154.92,699.85 151.32,699.85 149.52,696.73 151.32,693.61 154.92,693.61" fill="#58bcf0" stroke="#1a2a40" stroke-width="0.7"/>
<polygon points="160.02,692.93 158.22,696.05 154.62,696.05 152.82,692.93 154.62,689.81 158.22,689.81" fill="#58bcf0" stroke="#1a2a40" stroke-width="0.7"/>
<polygon points="163.33,689.99 161.53,693.11 157.93,693.11 156.13,689.99 157.93,686.87 161.53,686.87" fill="#58bcf0" stroke="#1a2a40" stroke-width="0.7"/>
<polygon points="166.64,697.23 164.84,700.35 161.24,700.35 159.44,697.23 161.24,694.12 164.84,694.12" fill="#58bcf0" stroke="#1a2a40" stroke-width="0.7"/>
<polygon points="169.95,693.66 168.15,696.78 164.55,696.78 162.75,693.66 164.55,690.55 168.15,690.55" fill="#58bcf0" stroke="#1a2a40" stroke-width="0.7"/>
<polygon points="173.25,696.88 171.45,699.99 167.85,699.99 166.05,696.88 167.85,693.76 171.45,693.76" fill="#58bcf0" stroke="#1a2a40" stroke-width="0.7"/>
<polygon points="176.56,693.84 174.76,696.96 171.16,696.96 169.36,693.84 171.16,690.72 174.76,690.72" fill="#58bcf0" stroke="#1a2a40" stroke-width="0.7"/>
<polygon points="179.87,692.28 178.07,695.40 174.47,695.40 172.67,692.28 174.47,689.16 178.07,689.16" fill="#58bcf0" stroke="#1a2a40" stroke-width="0.7"/>
<polygon points="183.17,693.50 181.37,696.61 177.77,696.61 175.97,693.50 177.77,690.38 181.37,690.38" fill="#58bcf0" stroke="#1a2a40" stroke-width="0.7"/>
<polygon points="186.48,695.81 184.68,698.93 181.08,698.93 179.28,695.81 181.08,692.69 184.68,692.69" fill="#58bcf0" stroke="#1a2a40" stroke-width="0.7"/>
<polygon points="189.79,697.50 187.99,700.62 184.39,700.62 182.59,697.50 184.39,694.38 187.99,694.38" fill="#58bcf0" stroke="#1a2a40" stroke-width="0.7"/>
<polygon points="193.10,692.97 191.30,696.08 187.70,696.08 185.90,692.97 187.70,689.85 191.30,689.85" fill="#58bcf0" stroke="#1a2a40" stroke-width="0.7"/>
<polygon points="196.40,693.63 194.60,696.75 191.00,696.75 189.20,693.63 191.00,690.51 194.60,690.51" fill="#58bcf0" stroke="#1a2a40" stroke-width="0.7"/>
<polygon points="199.71,691.76 197.91,694.88 194.31,694.88 192.51,691.76 194.31,688.64 197.91,688.64" fill="#58bcf0" stroke="#1a2a40" stroke-width="0.7"/>
<polygon points="203.02,694.06 201.22,697.18 197.62,697.18 195.82,694.06 197.62,690.94 201.22,690.94" fill="#58bcf0" stroke="#1a2a40" stroke-width="0.7"/>
<polygon points="206.32,700.29 204.52,703.40 200.92,703.40 199.12,700.29 200.92,697.17 204.52,697.17" fill="#58bcf0" stroke="#1a2a40" stroke-width="0.7"/>
<polygon points="209.63,696.39 207.83,699.51 204.23,699.51 202.43,696.39 204.23,693.27 207.83,693.27" fill="#58bcf0" stroke="#1a2a40" stroke-width="0.7"/>
<polygon points="212.94,696.74 211.14,699.85 207.54,699.85 205.74,696.74 207.54,693.62 211.14,693.62" fill="#58bcf0" stroke="#1a2a40" stroke-width="0.7"/>
<polygon points="216.25,694.23 214.45,697.35 210.85,697.35 209.05,694.23 210.85,691.11 214.45,691.11" fill="#58bcf0" stroke="#1a2a40" stroke-width="0.7"/>
<polygon points="219.55,694.02 217.75,697.14 214.15,697.14 212.35,694.02 214.15,690.90 217.75,690.90" fill="#58bcf0" stroke="#1a2a40" stroke-width="0.7"/>
<polygon points="222.86,691.12 221.06,694.24 217.46,694.24 215.66,691.12 217.46,688.01 221.06,688.01" fill="#58bcf0" stroke="#1a2a40" stroke-width="0.7"/>
<polygon points="226.17,688.70 224.37,691.82 220.77,691.82 218.97,688.70 220.77,685.58 224.37,685.58" fill="#58bcf0" stroke="#1a2a40" stroke-width="0.7"/>
<polygon points="229.48,694.39 227.68,697.51 224.08,697.51 222.28,694.39 224.08,691.27 227.68,691.27" fill="#58bcf0" stroke="#1a2a40" stroke-width="0.7"/>
<polygon points="232.78,696.05 230.98,699.17 227.38,699.17 225.58,696.05 227.38,692.93 230.98,692.93" fill="#58bcf0" stroke="#1a2a40" stroke-width="0.7"/>
<polygon points="236.09,697.29 234.29,700.40 230.69,700.40 228.89,697.29 230.69,694.17 234.29,694.17" fill="#58bcf0" stroke="#1a2a40" stroke-width="0.7"/>
<polygon points="239.40,693.53 237.60,696.65 234.00,696.65 232.20,693.53 234.00,690.41 237.60,690.41" fill="#58bcf0" stroke="#1a2a40" stroke-width="0.7"/>
<polygon points="242.70,691.31 240.90,694.43 237.30,694.43 235.50,691.31 237.30,688.20 240.90,688.20" fill="#58bcf0" stroke="#1a2a40" stroke-width="0.7"/>
<polygon points="246.01,693.30 244.21,696.41 240.61,696.41 238.81,693.30 240.61,690.18 244.21,690.18" fill="#58bcf0" stroke="#1a2a40" stroke-width="0.7"/>
<polygon points="249.32,696.94 247.52,700.05 243.92,700.05 242.12,696.94 243.92,693.82 247.52,693.82" fill="#58bcf0" stroke="#1a2a40" stroke-width="0.7"/>
<polygon points="252.63,695.58 250.83,698.70 247.23,698.70 245.43,695.58 247.23,692.46 250.83,692.46" fill="#58bcf0" stroke="#1a2a40" stroke-width="0.7"/>
<polygon points="255.93,694.59 254.13,697.71 250.53,697.71 248.73,694.59 250.53,691.48 254.13,691.48" fill="#58bcf0" stroke="#1a2a40" stroke-width="0.7"/>
<polygon points="259.24,692.92 257.44,696.03 253.84,696.03 252.04,692.92 253.84,689.80 257.44,689.80" fill="#58bcf0" stroke="#1a2a40" stroke-width="0.7"/>
<polygon points="262.55,691.51 260.75,694.63 257.15,694.63 255.35,691.51 257.15,688.39 260.75,688.39" fill="#58bcf0" stroke="#1a2a40" stroke-width="0.7"/>
<polygon points="265.85,688.88 264.05,691.99 260.45,691.99 258.65,688.88 260.45,685.76 264.05,685.76" fill="#58bcf0" stroke="#1a2a40" stroke-width="0.7"/>
<polygon points="269.16,697.22 267.36,700.34 263.76,700.34 261.96,697.22 263.76,694.11 267.36,694.11" fill="#58bcf0" stroke="#1a2a40" stroke-width="0.7"/>
<polygon points="272.47,695.28 270.67,698.40 267.07,698.40 265.27,695.28 267.07,692.16 270.67,692.16" fill="#58bcf0" stroke="#1a2a40" stroke-width="0.7"/>
<polygon points="275.78,695.79 273.98,698.91 270.38,698.91 268.58,695.79 270.38,692.68 273.98,692.68" fill="#58bcf0" stroke="#1a2a40" stroke-width="0.7"/>
<polygon points="279.08,692.60 277.28,695.72 273.68,695.72 271.88,692.60 273.68,689.49 277.28,689.49" fill="#58bcf0" stroke="#1a2a40" stroke-width="0.7"/>
<polygon points="282.39,689.45 280.59,692.57 276.99,692.57 275.19,689.45 276.99,686.33 280.59,686.33" fill="#58bcf0" stroke="#1a2a40" stroke-width="0.7"/>
<polygon points="285.70,690.65 283.90,693.77 280.30,693.77 278.50,690.65 280.30,687.53 283.90,687.53" fill="#58bcf0" stroke="#1a2a40" stroke-width="0.7"/>
<polygon points="289.00,691.84 287.20,694.96 283.60,694.96 281.80,691.84 283.60,688.72 287.20,688.72" fill="#58bcf0" stroke="#1a2a40" stroke-width="0.7"/>
<polygon points="292.31,694.99 290.51,698.11 286.91,698.11 285.11,694.99 286.91,691.87 290.51,691.87" fill="#58bcf0" stroke="#1a2a40" stroke-width="0.7"/>
<polygon points="295.62,693.20 293.82,696.31 290.22,696.31 288.42,693.20 290.22,690.08 293.82,690.08" fill="#58bcf0" stroke="#1a2a40" stroke-width="0.7"/>
<polygon points="298.93,691.67 297.13,694.79 293.53,694.79 291.73,691.67 293.53,688.55 297.13,688.55" fill="#58bcf0" stroke="#1a2a40" stroke-width="0.7"/>
<polygon points="302.23,690.73 300.43,693.85 296.83,693.85 295.03,690.73 296.83,687.61 300.43,687.61" fill="#58bcf0" stroke="#1a2a40" stroke-width="0.7"/>
<polygon points="305.54,690.58 303.74,693.70 300.14,693.70 298.34,690.58 300.14,687.47 303.74,687.47" fill="#58bcf0" stroke="#1a2a40" stroke-width="0.7"/>
<polygon points="308.85,688.32 307.05,691.44 303.45,691.44 301.65,688.32 303.45,685.21 307.05,685.21" fill="#58bcf0" stroke="#1a2a40" stroke-width="0.7"/>
<polygon points="312.16,697.70 310.36,700.81 306.76,700.81 304.96,697.70 306.76,694.58 310.36,694.58" fill="#58bcf0" stroke="#1a2a40" stroke-width="0.7"/>
<polygon points="315.46,694.28 313.66,697.39 310.06,697.39 308.26,694.28 310.06,691.16 313.66,691.16" fill="#58bcf0" stroke="#1a2a40" stroke-width="0.7"/>
<polygon points="318.77,693.68 316.97,696.80 313.37,696.80 311.57,693.68 313.37,690.57 316.97,690.57" fill="#58bcf0" stroke="#1a2a40" stroke-width="0.7"/>
<polygon points="322.08,694.32 320.28,697.44 316.68,697.44 314.88,694.32 316.68,691.20 320.28,691.20" fill="#58bcf0" stroke="#1a2a40" stroke-width="0.7"/>
<polygon points="325.38,693.31 323.58,696.43 319.98,696.43 318.18,693.31 319.98,690.20 323.58,690.20" fill="#58bcf0" stroke="#1a2a40" stroke-width="0.7"/>
<polygon points="328.69,690.00 326.89,693.12 323.29,693.12 321.49,690.00 323.29,686.88 326.89,686.88" fill="#58bcf0" stroke="#1a2a40" stroke-width="0.7"/>
<polygon points="332.00,696.63 330.20,699.74 326.60,699.74 324.80,696.63 326.60,693.51 330.20,693.51" fill="#58bcf0" stroke="#1a2a40" stroke-width="0.7"/>
<polygon points="335.31,696.08 333.51,699.19 329.91,699.19 328.11,696.08 329.91,692.96 333.51,692.96" fill="#58bcf0" stroke="#1a2a40" stroke-width="0.7"/>
<polygon points="338.61,693.80 336.81,696.92 333.21,696.92 331.41,693.80 333.21,690.68 336.81,690.68" fill="#58bcf0" stroke="#1a2a40" stroke-width="0.7"/>
<polygon points="341.92,690.68 340.12,693.79 336.52,693.79 334.72,690.68 336.52,687.56 340.12,687.56" fill="#58bcf0" stroke="#1a2a40" stroke-width="0.7"/>
<polygon points="345.23,692.78 343.43,695.90 339.83,695.90 338.03,692.78 339.83,689.66 343.43,689.66" fill="#58bcf0" stroke="#1a2a40" stroke-width="0.7"/>
<polygon points="348.53,692.03 346.73,695.15 343.13,695.15 341.33,692.03 343.13,688.92 346.73,688.92" fill="#58bcf0" stroke="#1a2a40" stroke-width="0.7"/>
<polygon points="351.84,690.36 350.04,693.48 346.44,693.48 344.64,690.36 346.44,687.24 350.04,687.24" fill="#58bcf0" stroke="#1a2a40" stroke-width="0.7"/>
<polygon points="355.15,694.57 353.35,697.69 349.75,697.69 347.95,694.57 349.75,691.45 353.35,691.45" fill="#58bcf0" stroke="#1a2a40" stroke-width="0.7"/>
<polygon points="358.46,694.47 356.66,697.59 353.06,697.59 351.26,694.47 353.06,691.35 356.66,691.35" fill="#58bcf0" stroke="#1a2a40" stroke-width="0.7"/>
<polygon points="361.76,692.92 359.96,696.04 356.36,696.04 354.56,692.92 356.36,689.80 359.96,689.80" fill="#58bcf0" stroke="#1a2a40" stroke-width="0.7"/>
<polygon points="365.07,692.26 363.27,695.38 359.67,695.38 357.87,692.26 359.67,689.14 363.27,689.14" fill="#58bcf0" stroke="#1a2a40" stroke-width="0.7"/>
<polygon points="368.38,693.30 366.58,696.42 362.98,696.42 361.18,693.30 362.98,690.18 366.58,690.18" fill="#58bcf0" stroke="#1a2a40" stroke-width="0.7"/>
<polygon points="371.68,692.57 369.88,695.69 366.28,695.69 364.48,692.57 366.28,689.45 369.88,689.45" fill="#58bcf0" stroke="#1a2a40" stroke-width="0.7"/>
<polygon points="374.99,697.42 373.19,700.54 369.59,700.54 367.79,697.42 369.59,694.30 373.19,694.30" fill="#58bcf0" stroke="#1a2a40" stroke-width="0.7"/>
<polygon points="378.30,696.23 376.50,699.35 372.90,699.35 371.10,696.23 372.90,693.12 376.50,693.12" fill="#58bcf0" stroke="#1a2a40" stroke-width="0.7"/>
<polygon points="381.61,695.37 379.81,698.49 376.21,698.49 374.41,695.37 376.21,692.25 379.81,692.25" fill="#58bcf0" stroke="#1a2a40" stroke-width="0.7"/>
<polygon points="384.91,693.45 383.11,696.57 379.51,696.57 377.71,693.45 379.51,690.33 383.11,690.33" fill="#58bcf0" stroke="#1a2a40" stroke-width="0.7"/>
<polygon points="388.22,692.34 386.42,695.46 382.82,695.46 381.02,692.34 382.82,689.22 386.42,689.22" fill="#58bcf0" stroke="#1a2a40" stroke-width="0.7"/>
<polygon points="391.53,690.54 389.73,693.66 386.13,693.66 384.33,690.54 386.13,687.42 389.73,687.42" fill="#58bcf0" stroke="#1a2a40" stroke-width="0.7"/>
<polygon points="394.84,697.32 393.04,700.43 389.44,700.43 387.64,697.32 389.44,694.20 393.04,694.20" fill="#58bcf0" stroke="#1a2a40" stroke-width="0.7"/>
<polygon points="398.14,699.30 396.34,702.42 392.74,702.42 390.94,699.30 392.74,696.18 396.34,696.18" fill="#58bcf0" stroke="#1a2a40" stroke-width="0.7"/>
<polygon points="401.45,696.47 399.65,699.58 396.05,699.58 394.25,696.47 396.05,693.35 399.65,693.35" fill="#58bcf0" stroke="#1a2a40" stroke-width="0.7"/>
<polygon points="404.76,693.87 402.96,696.98 399.36,696.98 397.56,693.87 399.36,690.75 402.96,690.75" fill="#58bcf0" stroke="#1a2a40" stroke-width="0.7"/>
<polygon points="408.06,692.67 406.26,695.79 402.66,695.79 400.86,692.67 402.66,689.55 406.26,689.55" fill="#58bcf0" stroke="#1a2a40" stroke-width="0.7"/>
<polygon points="411.37,691.13 409.57,694.24 405.97,694.24 404.17,691.13 405.97,688.01 409.57,688.01" fill="#58bcf0" stroke="#1a2a40" stroke-width="0.7"/>
<polygon points="414.68,691.70 412.88,694.82 409.28,694.82 407.48,691.70 409.28,688.59 412.88,688.59" fill="#58bcf0" stroke="#1a2a40" stroke-width="0.7"/>
<polygon points="417.99,697.69 416.19,700.81 412.59,700.81 410.79,697.69 412.59,694.57 416.19,694.57" fill="#58bcf0" stroke="#1a2a40" stroke-width="0.7"/>
<polygon points="421.29,694.27 419.49,697.39 415.89,697.39 414.09,694.27 415.89,691.15 419.49,691.15" fill="#58bcf0" stroke="#1a2a40" stroke-width="0.7"/>
<polygon points="424.60,695.74 422.80,698.86 419.20,698.86 417.40,695.74 419.20,692.62 422.80,692.62" fill="#58bcf0" stroke="#1a2a40" stroke-width="0.7"/>
<polygon points="427.91,693.32 426.11,696.44 422.51,696.44 420.71,693.32 422.51,690.20 426.11,690.20" fill="#58bcf0" stroke="#1a2a40" stroke-width="0.7"/>
<polygon points="431.21,694.87 429.41,697.99 425.81,697.99 424.01,694.87 425.81,691.75 429.41,691.75" fill="#58bcf0" stroke="#1a2a40" stroke-width="0.7"/>
<polygon points="434.52,692.17 432.72,695.28 429.12,695.28 427.32,692.17 429.12,689.05 432.72,689.05" fill="#58bcf0" stroke="#1a2a40" stroke-width="0.7"/>
<polygon points="437.83,700.14 436.03,703.26 432.43,703.26 430.63,700.14 432.43,697.02 436.03,697.02" fill="#58bcf0" stroke="#1a2a40" stroke-width="0.7"/>
<polygon points="441.14,696.25 439.34,699.37 435.74,699.37 433.94,696.25 435.74,693.14 439.34,693.14" fill="#58bcf0" stroke="#1a2a40" stroke-width="0.7"/>
<polygon points="444.44,695.41 442.64,698.53 439.04,698.53 437.24,695.41 439.04,692.29 442.64,692.29" fill="#58bcf0" stroke="#1a2a40" stroke-width="0.7"/>
<polygon points="447.75,695.11 445.95,698.22 442.35,698.22 440.55,695.11 442.35,691.99 445.95,691.99" fill="#58bcf0" stroke="#1a2a40" stroke-width="0.7"/>
<polygon points="451.06,695.02 449.26,698.13 445.66,698.13 443.86,695.02 445.66,691.90 449.26,691.90" fill="#58bcf0" stroke="#1a2a40" stroke-width="0.7"/>
<polygon points="454.36,693.30 452.56,696.42 448.96,696.42 447.16,693.30 448.96,690.18 452.56,690.18" fill="#58bcf0" stroke="#1a2a40" stroke-width="0.7"/>
<polygon points="457.67,696.88 455.87,699.99 452.27,699.99 450.47,696.88 452.27,693.76 455.87,693.76" fill="#58bcf0" stroke="#1a2a40" stroke-width="0.7"/>
<polygon points="460.98,697.63 459.18,700.75 455.58,700.75 453.78,697.63 455.58,694.51 459.18,694.51" fill="#58bcf0" stroke="#1a2a40" stroke-width="0.7"/>
<polygon points="464.29,696.33 462.49,699.44 458.89,699.44 457.09,696.33 458.89,693.21 462.49,693.21" fill="#58bcf0" stroke="#1a2a40" stroke-width="0.7"/>
<polygon points="467.59,694.64 465.79,697.76 462.19,697.76 460.39,694.64 462.19,691.52 465.79,691.52" fill="#58bcf0" stroke="#1a2a40" stroke-width="0.7"/>
<polygon points="470.90,693.25 469.10,696.37 465.50,696.37 463.70,693.25 465.50,690.13 469.10,690.13" fill="#58bcf0" stroke="#1a2a40" stroke-width="0.7"/>
<polygon points="474.21,695.26 472.41,698.37 468.81,698.37 467.01,695.26 468.81,692.14 472.41,692.14" fill="#58bcf0" stroke="#1a2a40" stroke-width="0.7"/>
<polygon points="477.52,691.36 475.72,694.48 472.12,694.48 470.32,691.36 472.12,688.24 475.72,688.24" fill="#58bcf0" stroke="#1a2a40" stroke-width="0.7"/>
<polygon points="480.82,696.65 479.02,699.77 475.42,699.77 473.62,696.65 475.42,693.53 479.02,693.53" fill="#58bcf0" stroke="#1a2a40" stroke-width="0.7"/>
<polygon points="484.13,697.45 482.33,700.57 478.73,700.57 476.93,697.45 478.73,694.33 482.33,694.33" fill="#58bcf0" stroke="#1a2a40" stroke-width="0.7"/>
<polygon points="487.44,695.66 485.64,698.78 482.04,698.78 480.24,695.66 482.04,692.54 485.64,692.54" fill="#58bcf0" stroke="#1a2a40" stroke-width="0.7"/>
<polygon points="490.74,694.26 488.94,697.38 485.34,697.38 483.54,694.26 485.34,691.14 488.94,691.14" fill="#58bcf0" stroke="#1a2a40" stroke-width="0.7"/>
<polygon points="494.05,694.23 492.25,697.35 488.65,697.35 486.85,694.23 488.65,691.11 492.25,691.11" fill="#58bcf0" stroke="#1a2a40" stroke-width="0.7"/>
<polygon points="497.36,692.71 495.56,695.82 491.96,695.82 490.16,692.71 491.96,689.59 495.56,689.59" fill="#58bcf0" stroke="#1a2a40" stroke-width="0.7"/>
<polygon points="500.67,698.39 498.87,701.51 495.27,701.51 493.47,698.39 495.27,695.27 498.87,695.27" fill="#58bcf0" stroke="#1a2a40" stroke-width="0.7"/>
<polygon points="503.97,698.02 502.17,701.14 498.57,701.14 496.77,698.02 498.57,694.90 502.17,694.90" fill="#58bcf0" stroke="#1a2a40" stroke-width="0.7"/>
<polygon points="507.28,695.98 505.48,699.10 501.88,699.10 500.08,695.98 501.88,692.86 505.48,692.86" fill="#58bcf0" stroke="#1a2a40" stroke-width="0.7"/>
<polygon points="510.59,693.64 508.79,696.76 505.19,696.76 503.39,693.64 505.19,690.53 508.79,690.53" fill="#58bcf0" stroke="#1a2a40" stroke-width="0.7"/>
<polygon points="513.89,692.81 512.09,695.93 508.49,695.93 506.69,692.81 508.49,689.69 512.09,689.69" fill="#58bcf0" stroke="#1a2a40" stroke-width="0.7"/>
<polygon points="517.20,691.43 515.40,694.55 511.80,694.55 510.00,691.43 511.80,688.32 515.40,688.32" fill="#58bcf0" stroke="#1a2a40" stroke-width="0.7"/>
<polygon points="520.51,698.21 518.71,701.33 515.11,701.33 513.31,698.21 515.11,695.09 518.71,695.09" fill="#58bcf0" stroke="#1a2a40" stroke-width="0.7"/>
<polygon points="523.82,695.36 522.02,698.48 518.42,698.48 516.62,695.36 518.42,692.25 522.02,692.25" fill="#58bcf0" stroke="#1a2a40" stroke-width="0.7"/>
<polygon points="527.12,693.21 525.32,696.32 521.72,696.32 519.92,693.21 521.72,690.09 525.32,690.09" fill="#58bcf0" stroke="#1a2a40" stroke-width="0.7"/>
<polygon points="530.43,694.52 528.63,697.64 525.03,697.64 523.23,694.52 525.03,691.41 528.63,691.41" fill="#58bcf0" stroke="#1a2a40" stroke-width="0.7"/>
<polygon points="533.74,691.49 531.94,694.61 528.34,694.61 526.54,691.49 528.34,688.37 531.94,688.37" fill="#58bcf0" stroke="#1a2a40" stroke-width="0.7"/>
<polygon points="537.04,689.51 535.24,692.62 531.64,692.62 529.84,689.51 531.64,686.39 535.24,686.39" fill="#58bcf0" stroke="#1a2a40" stroke-width="0.7"/>
<polygon points="540.35,691.35 538.55,694.46 534.95,694.46 533.15,691.35 534.95,688.23 538.55,688.23" fill="#58bcf0" stroke="#1a2a40" stroke-width="0.7"/>
<polygon points="543.66,695.75 541.86,698.87 538.26,698.87 536.46,695.75 538.26,692.63 541.86,692.63" fill="#58bcf0" stroke="#1a2a40" stroke-width="0.7"/>
<polygon points="546.97,696.14 545.17,699.25 541.57,699.25 539.77,696.14 541.57,693.02 545.17,693.02" fill="#58bcf0" stroke="#1a2a40" stroke-width="0.7"/>
<polygon points="550.27,693.61 548.47,696.73 544.87,696.73 543.07,693.61 544.87,690.50 548.47,690.50" fill="#58bcf0" stroke="#1a2a40" stroke-width="0.7"/>
<polygon points="553.58,691.66 551.78,694.78 548.18,694.78 546.38,691.66 548.18,688.54 551.78,688.54" fill="#58bcf0" stroke="#1a2a40" stroke-width="0.7"/>
<polygon points="556.89,690.32 555.09,693.44 551.49,693.44 549.69,690.32 551.49,687.20 555.09,687.20" fill="#58bcf0" stroke="#1a2a40" stroke-width="0.7"/>
<polygon points="560.20,690.08 558.40,693.20 554.80,693.20 553.00,690.08 554.80,686.97 558.40,686.97" fill="#58bcf0" stroke="#1a2a40" stroke-width="0.7"/>
<polygon points="563.50,696.21 561.70,699.33 558.10,699.33 556.30,696.21 558.10,693.10 561.70,693.10" fill="#58bcf0" stroke="#1a2a40" stroke-width="0.7"/>
<polygon points="566.81,694.32 565.01,697.44 561.41,697.44 559.61,694.32 561.41,691.20 565.01,691.20" fill="#58bcf0" stroke="#1a2a40" stroke-width="0.7"/>
<polygon points="570.12,693.85 568.32,696.96 564.72,696.96 562.92,693.85 564.72,690.73 568.32,690.73" fill="#58bcf0" stroke="#1a2a40" stroke-width="0.7"/>
<polygon points="573.42,691.04 571.62,694.16 568.02,694.16 566.22,691.04 568.02,687.92 571.62,687.92" fill="#58bcf0" stroke="#1a2a40" stroke-width="0.7"/>
<polygon points="576.73,691.88 574.93,695.00 571.33,695.00 569.53,691.88 571.33,688.76 574.93,688.76" fill="#58bcf0" stroke="#1a2a40" stroke-width="0.7"/>
<polygon points="580.04,688.36 578.24,691.48 574.64,691.48 572.84,688.36 574.64,685.24 578.24,685.24" fill="#58bcf0" stroke="#1a2a40" stroke-width="0.7"/>
<polygon points="583.35,696.27 581.55,699.39 577.95,699.39 576.15,696.27 577.95,693.16 581.55,693.16" fill="#58bcf0" stroke="#1a2a40" stroke-width="0.7"/>
<polygon points="586.65,696.27 584.85,699.39 581.25,699.39 579.45,696.27 581.25,693.15 584.85,693.15" fill="#58bcf0" stroke="#1a2a40" stroke-width="0.7"/>
<polygon points="589.96,695.62 588.16,698.74 584.56,698.74 582.76,695.62 584.56,692.50 588.16,692.50" fill="#58bcf0" stroke="#1a2a40" stroke-width="0.7"/>
<polygon points="593.27,695.27 591.47,698.39 587.87,698.39 586.07,695.27 587.87,692.16 591.47,692.16" fill="#58bcf0" stroke="#1a2a40" stroke-width="0.7"/>
<polygon points="596.57,689.87 594.77,692.99 591.17,692.99 589.37,689.87 591.17,686.75 594.77,686.75" fill="#58bcf0" stroke="#1a2a40" stroke-width="0.7"/>
<polygon points="599.88,691.73 598.08,694.85 594.48,694.85 592.68,691.73 594.48,688.62 598.08,688.62" fill="#58bcf0" stroke="#1a2a40" stroke-width="0.7"/>
<polygon points="603.19,691.17 601.39,694.29 597.79,694.29 595.99,691.17 597.79,688.05 601.39,688.05" fill="#58bcf0" stroke="#1a2a40" stroke-width="0.7"/>
<polygon points="606.50,696.74 604.70,699.86 601.10,699.86 599.30,696.74 601.10,693.62 604.70,693.62" fill="#58bcf0" stroke="#1a2a40" stroke-width="0.7"/>
<polygon points="609.80,693.13 608.00,696.24 604.40,696.24 602.60,693.13 604.40,690.01 608.00,690.01" fill="#58bcf0" stroke="#1a2a40" stroke-width="0.7"/>
<polygon points="613.11,693.74 611.31,696.86 607.71,696.86 605.91,693.74 607.71,690.62 611.31,690.62" fill="#58bcf0" stroke="#1a2a40" stroke-width="0.7"/>
<polygon points="616.42,694.50 614.62,697.62 611.02,697.62 609.22,694.50 611.02,691.38 614.62,691.38" fill="#58bcf0" stroke="#1a2a40" stroke-width="0.7"/>
<polygon points="619.72,689.02 617.92,692.14 614.32,692.14 612.52,689.02 614.32,685.90 617.92,685.90" fill="#58bcf0" stroke="#1a2a40" stroke-width="0.7"/>
<polygon points="623.03,690.47 621.23,693.59 617.63,693.59 615.83,690.47 617.63,687.36 621.23,687.36" fill="#58bcf0" stroke="#1a2a40" stroke-width="0.7"/>
<polygon points="626.34,697.19 624.54,700.31 620.94,700.31 619.14,697.19 620.94,694.08 624.54,694.08" fill="#58bcf0" stroke="#1a2a40" stroke-width="0.7"/>
<polygon points="629.65,693.74 627.85,696.86 624.25,696.86 622.45,693.74 624.25,690.62 627.85,690.62" fill="#58bcf0" stroke="#1a2a40" stroke-width="0.7"/>
<circle cx="77.05" cy="733.78" r="4.9" fill="#48b8f0" fill-opacity="1.0" stroke="#1a2a3a" stroke-width="0.8"/>
<circle cx="80.69" cy="728.63" r="4.9" fill="#48b8f0" fill-opacity="1.0" stroke="#1a2a3a" stroke-width="0.8"/>
<circle cx="84.33" cy="728.32" r="4.9" fill="#48b8f0" fill-opacity="1.0" stroke="#1a2a3a" stroke-width="0.8"/>
<circle cx="87.96" cy="728.44" r="4.9" fill="#48b8f0" fill-opacity="1.0" stroke="#1a2a3a" stroke-width="0.8"/>
<circle cx="91.60" cy="729.48" r="4.9" fill="#48b8f0" fill-opacity="1.0" stroke="#1a2a3a" stroke-width="0.8"/>
<circle cx="95.24" cy="730.53" r="4.9" fill="#48b8f0" fill-opacity="1.0" stroke="#1a2a3a" stroke-width="0.8"/>
<circle cx="98.88" cy="731.57" r="4.9" fill="#48b8f0" fill-opacity="1.0" stroke="#1a2a3a" stroke-width="0.8"/>
<circle cx="102.52" cy="732.61" r="4.9" fill="#48b8f0" fill-opacity="1.0" stroke="#1a2a3a" stroke-width="0.8"/>
<circle cx="106.15" cy="733.41" r="4.9" fill="#48b8f0" fill-opacity="1.0" stroke="#1a2a3a" stroke-width="0.8"/>
<circle cx="109.79" cy="734.04" r="4.9" fill="#48b8f0" fill-opacity="1.0" stroke="#1a2a3a" stroke-width="0.8"/>
<circle cx="113.43" cy="734.66" r="4.9" fill="#48b8f0" fill-opacity="1.0" stroke="#1a2a3a" stroke-width="0.8"/>
<circle cx="117.07" cy="735.29" r="4.9" fill="#48b8f0" fill-opacity="1.0" stroke="#1a2a3a" stroke-width="0.8"/>
<circle cx="120.71" cy="735.91" r="4.9" fill="#48b8f0" fill-opacity="1.0" stroke="#1a2a3a" stroke-width="0.8"/>
<circle cx="124.34" cy="736.54" r="4.9" fill="#48b8f0" fill-opacity="1.0" stroke="#1a2a3a" stroke-width="0.8"/>
<circle cx="127.98" cy="737.16" r="4.9" fill="#48b8f0" fill-opacity="1.0" stroke="#1a2a3a" stroke-width="0.8"/>
<circle cx="131.62" cy="737.79" r="4.9" fill="#48b8f0" fill-opacity="1.0" stroke="#1a2a3a" stroke-width="0.8"/>
<circle cx="135.26" cy="737.98" r="4.9" fill="#48b8f0" fill-opacity="1.0" stroke="#1a2a3a" stroke-width="0.8"/>
<circle cx="138.90" cy="738.17" r="4.9" fill="#48b8f0" fill-opacity="1.0" stroke="#1a2a3a" stroke-width="0.8"/>
<circle cx="142.53" cy="738.36" r="4.9" fill="#48b8f0" fill-opacity="1.0" stroke="#1a2a3a" stroke-width="0.8"/>
<circle cx="146.17" cy="738.56" r="4.9" fill="#48b8f0" fill-opacity="1.0" stroke="#1a2a3a" stroke-width="0.8"/>
<circle cx="149.81" cy="738.75" r="4.9" fill="#48b8f0" fill-opacity="1.0" stroke="#1a2a3a" stroke-width="0.8"/>
<circle cx="153.45" cy="738.94" r="4.9" fill="#48b8f0" fill-opacity="1.0" stroke="#1a2a3a" stroke-width="0.8"/>
<circle cx="157.09" cy="739.13" r="4.9" fill="#48b8f0" fill-opacity="1.0" stroke="#1a2a3a" stroke-width="0.8"/>
<circle cx="160.72" cy="739.29" r="4.9" fill="#48b8f0" fill-opacity="1.0" stroke="#1a2a3a" stroke-width="0.8"/>
<circle cx="164.36" cy="739.38" r="4.9" fill="#48b8f0" fill-opacity="1.0" stroke="#1a2a3a" stroke-width="0.8"/>
<circle cx="168.00" cy="739.48" r="4.9" fill="#48b8f0" fill-opacity="1.0" stroke="#1a2a3a" stroke-width="0.8"/>
<circle cx="171.64" cy="739.57" r="4.9" fill="#48b8f0" fill-opacity="1.0" stroke="#1a2a3a" stroke-width="0.8"/>
<circle cx="175.28" cy="739.67" r="4.9" fill="#48b8f0" fill-opacity="1.0" stroke="#1a2a3a" stroke-width="0.8"/>
<circle cx="178.91" cy="739.77" r="4.9" fill="#48b8f0" fill-opacity="1.0" stroke="#1a2a3a" stroke-width="0.8"/>
<circle cx="182.55" cy="739.86" r="4.9" fill="#48b8f0" fill-opacity="1.0" stroke="#1a2a3a" stroke-width="0.8"/>
<circle cx="186.19" cy="739.96" r="4.9" fill="#48b8f0" fill-opacity="1.0" stroke="#1a2a3a" stroke-width="0.8"/>
<circle cx="189.83" cy="740.05" r="4.9" fill="#48b8f0" fill-opacity="1.0" stroke="#1a2a3a" stroke-width="0.8"/>
<circle cx="193.46" cy="740.15" r="4.9" fill="#48b8f0" fill-opacity="1.0" stroke="#1a2a3a" stroke-width="0.8"/>
<circle cx="197.10" cy="740.25" r="4.9" fill="#48b8f0" fill-opacity="1.0" stroke="#1a2a3a" stroke-width="0.8"/>
<circle cx="200.74" cy="740.34" r="4.9" fill="#48b8f0" fill-opacity="1.0" stroke="#1a2a3a" stroke-width="0.8"/>
<circle cx="204.38" cy="740.44" r="4.9" fill="#48b8f0" fill-opacity="1.0" stroke="#1a2a3a" stroke-width="0.8"/>
<circle cx="208.02" cy="740.54" r="4.9" fill="#48b8f0" fill-opacity="1.0" stroke="#1a2a3a" stroke-width="0.8"/>
<circle cx="211.65" cy="740.63" r="4.9" fill="#48b8f0" fill-opacity="1.0" stroke="#1a2a3a" stroke-width="0.8"/>
<circle cx="215.29" cy="740.73" r="4.9" fill="#48b8f0" fill-opacity="1.0" stroke="#1a2a3a" stroke-width="0.8"/>
<circle cx="218.93" cy="740.82" r="4.9" fill="#48b8f0" fill-opacity="1.0" stroke="#1a2a3a" stroke-width="0.8"/>
<circle cx="222.57" cy="740.92" r="4.9" fill="#48b8f0" fill-opacity="1.0" stroke="#1a2a3a" stroke-width="0.8"/>
<circle cx="226.21" cy="741.02" r="4.9" fill="#48b8f0" fill-opacity="1.0" stroke="#1a2a3a" stroke-width="0.8"/>
<circle cx="229.84" cy="741.11" r="4.9" fill="#48b8f0" fill-opacity="1.0" stroke="#1a2a3a" stroke-width="0.8"/>
<circle cx="233.48" cy="741.21" r="4.9" fill="#48b8f0" fill-opacity="1.0" stroke="#1a2a3a" stroke-width="0.8"/>
<circle cx="237.12" cy="741.30" r="4.9" fill="#48b8f0" fill-opacity="1.0" stroke="#1a2a3a" stroke-width="0.8"/>
<circle cx="240.76" cy="741.40" r="4.9" fill="#48b8f0" fill-opacity="1.0" stroke="#1a2a3a" stroke-width="0.8"/>
<circle cx="244.40" cy="741.49" r="4.9" fill="#48b8f0" fill-opacity="1.0" stroke="#1a2a3a" stroke-width="0.8"/>
<circle cx="248.03" cy="741.57" r="4.9" fill="#48b8f0" fill-opacity="1.0" stroke="#1a2a3a" stroke-width="0.8"/>
<circle cx="251.67" cy="741.66" r="4.9" fill="#48b8f0" fill-opacity="1.0" stroke="#1a2a3a" stroke-width="0.8"/>
<circle cx="255.31" cy="741.74" r="4.9" fill="#48b8f0" fill-opacity="1.0" stroke="#1a2a3a" stroke-width="0.8"/>
<circle cx="258.95" cy="741.82" r="4.9" fill="#48b8f0" fill-opacity="1.0" stroke="#1a2a3a" stroke-width="0.8"/>
<circle cx="262.59" cy="741.91" r="4.9" fill="#48b8f0" fill-opacity="1.0" stroke="#1a2a3a" stroke-width="0.8"/>
<circle cx="266.22" cy="741.99" r="4.9" fill="#48b8f0" fill-opacity="1.0" stroke="#1a2a3a" stroke-width="0.8"/>
<circle cx="269.86" cy="742.08" r="4.9" fill="#48b8f0" fill-opacity="1.0" stroke="#1a2a3a" stroke-width="0.8"/>
<circle cx="273.50" cy="742.16" r="4.9" fill="#48b8f0" fill-opacity="1.0" stroke="#1a2a3a" stroke-width="0.8"/>
<circle cx="277.14" cy="742.25" r="4.9" fill="#48b8f0" fill-opacity="1.0" stroke="#1a2a3a" stroke-width="0.8"/>
<circle cx="280.77" cy="742.33" r="4.9" fill="#48b8f0" fill-opacity="1.0" stroke="#1a2a3a" stroke-width="0.8"/>
<circle cx="284.41" cy="742.41" r="4.9" fill="#48b8f0" fill-opacity="1.0" stroke="#1a2a3a" stroke-width="0.8"/>
<circle cx="288.05" cy="742.50" r="4.9" fill="#48b8f0" fill-opacity="1.0" stroke="#1a2a3a" stroke-width="0.8"/>
<circle cx="291.69" cy="742.58" r="4.9" fill="#48b8f0" fill-opacity="1.0" stroke="#1a2a3a" stroke-width="0.8"/>
<circle cx="295.33" cy="742.67" r="4.9" fill="#48b8f0" fill-opacity="1.0" stroke="#1a2a3a" stroke-width="0.8"/>
<circle cx="298.96" cy="742.75" r="4.9" fill="#48b8f0" fill-opacity="1.0" stroke="#1a2a3a" stroke-width="0.8"/>
<circle cx="302.60" cy="742.83" r="4.9" fill="#48b8f0" fill-opacity="1.0" stroke="#1a2a3a" stroke-width="0.8"/>
<circle cx="306.24" cy="742.92" r="4.9" fill="#48b8f0" fill-opacity="1.0" stroke="#1a2a3a" stroke-width="0.8"/>
<circle cx="309.88" cy="743.00" r="4.9" fill="#48b8f0" fill-opacity="1.0" stroke="#1a2a3a" stroke-width="0.8"/>
<circle cx="313.52" cy="743.09" r="4.9" fill="#48b8f0" fill-opacity="1.0" stroke="#1a2a3a" stroke-width="0.8"/>
<circle cx="317.15" cy="743.17" r="4.9" fill="#48b8f0" fill-opacity="1.0" stroke="#1a2a3a" stroke-width="0.8"/>
<circle cx="320.79" cy="743.26" r="4.9" fill="#48b8f0" fill-opacity="1.0" stroke="#1a2a3a" stroke-width="0.8"/>
<circle cx="324.43" cy="743.34" r="4.9" fill="#48b8f0" fill-opacity="1.0" stroke="#1a2a3a" stroke-width="0.8"/>
<circle cx="328.07" cy="743.42" r="4.9" fill="#48b8f0" fill-opacity="1.0" stroke="#1a2a3a" stroke-width="0.8"/>
<circle cx="331.71" cy="743.51" r="4.9" fill="#48b8f0" fill-opacity="1.0" stroke="#1a2a3a" stroke-width="0.8"/>
<circle cx="335.34" cy="743.59" r="4.9" fill="#48b8f0" fill-opacity="1.0" stroke="#1a2a3a" stroke-width="0.8"/>
<circle cx="338.98" cy="743.68" r="4.9" fill="#48b8f0" fill-opacity="1.0" stroke="#1a2a3a" stroke-width="0.8"/>
<circle cx="342.62" cy="743.76" r="4.9" fill="#48b8f0" fill-opacity="1.0" stroke="#1a2a3a" stroke-width="0.8"/>
<circle cx="346.26" cy="743.84" r="4.9" fill="#48b8f0" fill-opacity="1.0" stroke="#1a2a3a" stroke-width="0.8"/>
<circle cx="349.90" cy="743.93" r="4.9" fill="#48b8f0" fill-opacity="1.0" stroke="#1a2a3a" stroke-width="0.8"/>
<circle cx="353.53" cy="744.03" r="4.9" fill="#48b8f0" fill-opacity="1.0" stroke="#1a2a3a" stroke-width="0.8"/>
<circle cx="357.17" cy="744.15" r="4.9" fill="#48b8f0" fill-opacity="1.0" stroke="#1a2a3a" stroke-width="0.8"/>
<circle cx="360.81" cy="744.27" r="4.9" fill="#48b8f0" fill-opacity="1.0" stroke="#1a2a3a" stroke-width="0.8"/>
<circle cx="364.45" cy="744.39" r="4.9" fill="#48b8f0" fill-opacity="1.0" stroke="#1a2a3a" stroke-width="0.8"/>
<circle cx="368.08" cy="744.51" r="4.9" fill="#48b8f0" fill-opacity="1.0" stroke="#1a2a3a" stroke-width="0.8"/>
<circle cx="371.72" cy="744.63" r="4.9" fill="#48b8f0" fill-opacity="1.0" stroke="#1a2a3a" stroke-width="0.8"/>
<circle cx="375.36" cy="744.75" r="4.9" fill="#48b8f0" fill-opacity="1.0" stroke="#1a2a3a" stroke-width="0.8"/>
<circle cx="379.00" cy="744.87" r="4.9" fill="#48b8f0" fill-opacity="1.0" stroke="#1a2a3a" stroke-width="0.8"/>
<circle cx="382.64" cy="744.99" r="4.9" fill="#48b8f0" fill-opacity="1.0" stroke="#1a2a3a" stroke-width="0.8"/>
<circle cx="386.27" cy="745.11" r="4.9" fill="#48b8f0" fill-opacity="1.0" stroke="#1a2a3a" stroke-width="0.8"/>
<circle cx="389.91" cy="745.23" r="4.9" fill="#48b8f0" fill-opacity="1.0" stroke="#1a2a3a" stroke-width="0.8"/>
<circle cx="393.55" cy="745.35" r="4.9" fill="#48b8f0" fill-opacity="1.0" stroke="#1a2a3a" stroke-width="0.8"/>
<circle cx="397.19" cy="745.47" r="4.9" fill="#48b8f0" fill-opacity="1.0" stroke="#1a2a3a" stroke-width="0.8"/>
<circle cx="400.83" cy="745.59" r="4.9" fill="#48b8f0" fill-opacity="1.0" stroke="#1a2a3a" stroke-width="0.8"/>
<circle cx="404.46" cy="745.71" r="4.9" fill="#48b8f0" fill-opacity="1.0" stroke="#1a2a3a" stroke-width="0.8"/>
<circle cx="408.10" cy="745.83" r="4.9" fill="#48b8f0" fill-opacity="1.0" stroke="#1a2a3a" stroke-width="0.8"/>
<circle cx="411.74" cy="745.95" r="4.9" fill="#48b8f0" fill-opacity="1.0" stroke="#1a2a3a" stroke-width="0.8"/>
<circle cx="415.38" cy="746.07" r="4.9" fill="#48b8f0" fill-opacity="1.0" stroke="#1a2a3a" stroke-width="0.8"/>
<circle cx="419.02" cy="746.19" r="4.9" fill="#48b8f0" fill-opacity="1.0" stroke="#1a2a3a" stroke-width="0.8"/>
<circle cx="422.65" cy="746.31" r="4.9" fill="#48b8f0" fill-opacity="1.0" stroke="#1a2a3a" stroke-width="0.8"/>
<circle cx="426.29" cy="746.43" r="4.9" fill="#48b8f0" fill-opacity="1.0" stroke="#1a2a3a" stroke-width="0.8"/>
<circle cx="429.93" cy="746.55" r="4.9" fill="#48b8f0" fill-opacity="1.0" stroke="#1a2a3a" stroke-width="0.8"/>
<circle cx="433.57" cy="746.67" r="4.9" fill="#48b8f0" fill-opacity="1.0" stroke="#1a2a3a" stroke-width="0.8"/>
<circle cx="437.21" cy="746.79" r="4.9" fill="#48b8f0" fill-opacity="1.0" stroke="#1a2a3a" stroke-width="0.8"/>
<circle cx="440.84" cy="746.91" r="4.9" fill="#48b8f0" fill-opacity="1.0" stroke="#1a2a3a" stroke-width="0.8"/>
<circle cx="444.48" cy="747.03" r="4.9" fill="#48b8f0" fill-opacity="1.0" stroke="#1a2a3a" stroke-width="0.8"/>
<circle cx="448.12" cy="747.15" r="4.9" fill="#48b8f0" fill-opacity="1.0" stroke="#1a2a3a" stroke-width="0.8"/>
<circle cx="451.76" cy="747.27" r="4.9" fill="#48b8f0" fill-opacity="1.0" stroke="#1a2a3a" stroke-width="0.8"/>
<circle cx="455.39" cy="747.39" r="4.9" fill="#48b8f0" fill-opacity="1.0" stroke="#1a2a3a" stroke-width="0.8"/>
<circle cx="459.03" cy="747.51" r="4.9" fill="#48b8f0" fill-opacity="1.0" stroke="#1a2a3a" stroke-width="0.8"/>
<circle cx="462.67" cy="747.63" r="4.9" fill="#48b8f0" fill-opacity="1.0" stroke="#1a2a3a" stroke-width="0.8"/>
<circle cx="466.31" cy="747.75" r="4.9" fill="#48b8f0" fill-opacity="1.0" stroke="#1a2a3a" stroke-width="0.8"/>
<circle cx="469.95" cy="747.87" r="4.9" fill="#48b8f0" fill-opacity="1.0" stroke="#1a2a3a" stroke-width="0.8"/>
<circle cx="473.58" cy="747.99" r="4.9" fill="#48b8f0" fill-opacity="1.0" stroke="#1a2a3a" stroke-width="0.8"/>
<circle cx="477.22" cy="748.11" r="4.9" fill="#48b8f0" fill-opacity="1.0" stroke="#1a2a3a" stroke-width="0.8"/>
<circle cx="480.86" cy="748.23" r="4.9" fill="#48b8f0" fill-opacity="1.0" stroke="#1a2a3a" stroke-width="0.8"/>
<circle cx="484.50" cy="748.35" r="4.9" fill="#48b8f0" fill-opacity="1.0" stroke="#1a2a3a" stroke-width="0.8"/>
<circle cx="488.14" cy="748.47" r="4.9" fill="#48b8f0" fill-opacity="1.0" stroke="#1a2a3a" stroke-width="0.8"/>
<circle cx="491.77" cy="748.59" r="4.9" fill="#48b8f0" fill-opacity="1.0" stroke="#1a2a3a" stroke-width="0.8"/>
<circle cx="495.41" cy="748.71" r="4.9" fill="#48b8f0" fill-opacity="1.0" stroke="#1a2a3a" stroke-width="0.8"/>
<circle cx="499.05" cy="748.83" r="4.9" fill="#48b8f0" fill-opacity="1.0" stroke="#1a2a3a" stroke-width="0.8"/>
<circle cx="502.69" cy="748.96" r="4.9" fill="#48b8f0" fill-opacity="1.0" stroke="#1a2a3a" stroke-width="0.8"/>
<circle cx="506.33" cy="749.08" r="4.9" fill="#48b8f0" fill-opacity="1.0" stroke="#1a2a3a" stroke-width="0.8"/>
<circle cx="509.96" cy="749.20" r="4.9" fill="#48b8f0" fill-opacity="1.0" stroke="#1a2a3a" stroke-width="0.8"/>
<circle cx="513.60" cy="749.32" r="4.9" fill="#48b8f0" fill-opacity="1.0" stroke="#1a2a3a" stroke-width="0.8"/>
<circle cx="517.24" cy="749.44" r="4.9" fill="#48b8f0" fill-opacity="1.0" stroke="#1a2a3a" stroke-width="0.8"/>
<circle cx="520.88" cy="749.56" r="4.9" fill="#48b8f0" fill-opacity="1.0" stroke="#1a2a3a" stroke-width="0.8"/>
<circle cx="524.52" cy="749.68" r="4.9" fill="#48b8f0" fill-opacity="1.0" stroke="#1a2a3a" stroke-width="0.8"/>
<circle cx="528.15" cy="749.80" r="4.9" fill="#48b8f0" fill-opacity="1.0" stroke="#1a2a3a" stroke-width="0.8"/>
<circle cx="531.79" cy="749.92" r="4.9" fill="#48b8f0" fill-opacity="1.0" stroke="#1a2a3a" stroke-width="0.8"/>
<circle cx="535.43" cy="750.04" r="4.9" fill="#48b8f0" fill-opacity="1.0" stroke="#1a2a3a" stroke-width="0.8"/>
<circle cx="539.07" cy="750.16" r="4.9" fill="#48b8f0" fill-opacity="1.0" stroke="#1a2a3a" stroke-width="0.8"/>
<circle cx="542.70" cy="750.28" r="4.9" fill="#48b8f0" fill-opacity="1.0" stroke="#1a2a3a" stroke-width="0.8"/>
<circle cx="546.34" cy="750.40" r="4.9" fill="#48b8f0" fill-opacity="1.0" stroke="#1a2a3a" stroke-width="0.8"/>
<circle cx="549.98" cy="750.52" r="4.9" fill="#48b8f0" fill-opacity="1.0" stroke="#1a2a3a" stroke-width="0.8"/>
<circle cx="553.62" cy="750.64" r="4.9" fill="#48b8f0" fill-opacity="1.0" stroke="#1a2a3a" stroke-width="0.8"/>
<circle cx="557.26" cy="750.76" r="4.9" fill="#48b8f0" fill-opacity="1.0" stroke="#1a2a3a" stroke-width="0.8"/>
<circle cx="560.89" cy="750.88" r="4.9" fill="#48b8f0" fill-opacity="1.0" stroke="#1a2a3a" stroke-width="0.8"/>
<circle cx="564.53" cy="751.00" r="4.9" fill="#48b8f0" fill-opacity="1.0" stroke="#1a2a3a" stroke-width="0.8"/>
<circle cx="568.17" cy="751.12" r="4.9" fill="#48b8f0" fill-opacity="1.0" stroke="#1a2a3a" stroke-width="0.8"/>
<circle cx="571.81" cy="751.24" r="4.9" fill="#48b8f0" fill-opacity="1.0" stroke="#1a2a3a" stroke-width="0.8"/>
<circle cx="575.45" cy="751.42" r="4.9" fill="#48b8f0" fill-opacity="1.0" stroke="#1a2a3a" stroke-width="0.8"/>
<circle cx="579.08" cy="751.61" r="4.9" fill="#48b8f0" fill-opacity="1.0" stroke="#1a2a3a" stroke-width="0.8"/>
<circle cx="582.72" cy="751.80" r="4.9" fill="#48b8f0" fill-opacity="1.0" stroke="#1a2a3a" stroke-width="0.8"/>
<circle cx="586.36" cy="751.99" r="4.9" fill="#48b8f0" fill-opacity="1.0" stroke="#1a2a3a" stroke-width="0.8"/>
<circle cx="590.00" cy="752.19" r="4.9" fill="#48b8f0" fill-opacity="1.0" stroke="#1a2a3a" stroke-width="0.8"/>
<circle cx="593.64" cy="752.38" r="4.9" fill="#48b8f0" fill-opacity="1.0" stroke="#1a2a3a" stroke-width="0.8"/>
<circle cx="597.27" cy="752.57" r="4.9" fill="#48b8f0" fill-opacity="1.0" stroke="#1a2a3a" stroke-width="0.8"/>
<circle cx="600.91" cy="752.76" r="4.9" fill="#48b8f0" fill-opacity="1.0" stroke="#1a2a3a" stroke-width="0.8"/>
<circle cx="604.55" cy="752.95" r="4.9" fill="#48b8f0" fill-opacity="1.0" stroke="#1a2a3a" stroke-width="0.8"/>
<circle cx="608.19" cy="753.15" r="4.9" fill="#48b8f0" fill-opacity="1.0" stroke="#1a2a3a" stroke-width="0.8"/>
<circle cx="611.83" cy="753.34" r="4.9" fill="#48b8f0" fill-opacity="1.0" stroke="#1a2a3a" stroke-width="0.8"/>
<circle cx="615.46" cy="753.53" r="4.9" fill="#48b8f0" fill-opacity="1.0" stroke="#1a2a3a" stroke-width="0.8"/>
<circle cx="619.10" cy="753.72" r="4.9" fill="#48b8f0" fill-opacity="1.0" stroke="#1a2a3a" stroke-width="0.8"/>
<circle cx="622.74" cy="753.92" r="4.9" fill="#48b8f0" fill-opacity="1.0" stroke="#1a2a3a" stroke-width="0.8"/>
<circle cx="626.38" cy="754.11" r="4.9" fill="#48b8f0" fill-opacity="1.0" stroke="#1a2a3a" stroke-width="0.8"/>
<circle cx="77.05" cy="766.85" r="4.8" fill="#5a66ec" fill-opacity="1.0" stroke="#1a1a40" stroke-width="0.8"/>
<circle cx="80.69" cy="766.93" r="4.8" fill="#5a66ec" fill-opacity="1.0" stroke="#1a1a40" stroke-width="0.8"/>
<circle cx="84.33" cy="767.01" r="4.8" fill="#5a66ec" fill-opacity="1.0" stroke="#1a1a40" stroke-width="0.8"/>
<circle cx="87.96" cy="767.09" r="4.8" fill="#5a66ec" fill-opacity="1.0" stroke="#1a1a40" stroke-width="0.8"/>
<circle cx="91.60" cy="767.17" r="4.8" fill="#5a66ec" fill-opacity="1.0" stroke="#1a1a40" stroke-width="0.8"/>
<circle cx="95.24" cy="767.24" r="4.8" fill="#5a66ec" fill-opacity="1.0" stroke="#1a1a40" stroke-width="0.8"/>
<circle cx="98.88" cy="767.32" r="4.8" fill="#5a66ec" fill-opacity="1.0" stroke="#1a1a40" stroke-width="0.8"/>
<circle cx="102.52" cy="767.40" r="4.8" fill="#5a66ec" fill-opacity="1.0" stroke="#1a1a40" stroke-width="0.8"/>
<circle cx="106.15" cy="767.48" r="4.8" fill="#5a66ec" fill-opacity="1.0" stroke="#1a1a40" stroke-width="0.8"/>
<circle cx="109.79" cy="767.55" r="4.8" fill="#5a66ec" fill-opacity="1.0" stroke="#1a1a40" stroke-width="0.8"/>
<circle cx="113.43" cy="767.63" r="4.8" fill="#5a66ec" fill-opacity="1.0" stroke="#1a1a40" stroke-width="0.8"/>
<circle cx="117.07" cy="767.71" r="4.8" fill="#5a66ec" fill-opacity="1.0" stroke="#1a1a40" stroke-width="0.8"/>
<circle cx="120.71" cy="767.79" r="4.8" fill="#5a66ec" fill-opacity="1.0" stroke="#1a1a40" stroke-width="0.8"/>
<circle cx="124.34" cy="767.86" r="4.8" fill="#5a66ec" fill-opacity="1.0" stroke="#1a1a40" stroke-width="0.8"/>
<circle cx="127.98" cy="767.94" r="4.8" fill="#5a66ec" fill-opacity="1.0" stroke="#1a1a40" stroke-width="0.8"/>
<circle cx="131.62" cy="768.02" r="4.8" fill="#5a66ec" fill-opacity="1.0" stroke="#1a1a40" stroke-width="0.8"/>
<circle cx="135.26" cy="768.14" r="4.8" fill="#5a66ec" fill-opacity="1.0" stroke="#1a1a40" stroke-width="0.8"/>
<circle cx="138.90" cy="768.26" r="4.8" fill="#5a66ec" fill-opacity="1.0" stroke="#1a1a40" stroke-width="0.8"/>
<circle cx="142.53" cy="768.37" r="4.8" fill="#5a66ec" fill-opacity="1.0" stroke="#1a1a40" stroke-width="0.8"/>
<circle cx="146.17" cy="768.49" r="4.8" fill="#5a66ec" fill-opacity="1.0" stroke="#1a1a40" stroke-width="0.8"/>
<circle cx="149.81" cy="768.61" r="4.8" fill="#5a66ec" fill-opacity="1.0" stroke="#1a1a40" stroke-width="0.8"/>
<circle cx="153.45" cy="768.73" r="4.8" fill="#5a66ec" fill-opacity="1.0" stroke="#1a1a40" stroke-width="0.8"/>
<circle cx="157.09" cy="768.84" r="4.8" fill="#5a66ec" fill-opacity="1.0" stroke="#1a1a40" stroke-width="0.8"/>
<circle cx="160.72" cy="768.96" r="4.8" fill="#5a66ec" fill-opacity="1.0" stroke="#1a1a40" stroke-width="0.8"/>
<circle cx="164.36" cy="769.08" r="4.8" fill="#5a66ec" fill-opacity="1.0" stroke="#1a1a40" stroke-width="0.8"/>
<circle cx="168.00" cy="769.20" r="4.8" fill="#5a66ec" fill-opacity="1.0" stroke="#1a1a40" stroke-width="0.8"/>
<circle cx="171.64" cy="769.31" r="4.8" fill="#5a66ec" fill-opacity="1.0" stroke="#1a1a40" stroke-width="0.8"/>
<circle cx="175.28" cy="769.43" r="4.8" fill="#5a66ec" fill-opacity="1.0" stroke="#1a1a40" stroke-width="0.8"/>
<circle cx="178.91" cy="769.55" r="4.8" fill="#5a66ec" fill-opacity="1.0" stroke="#1a1a40" stroke-width="0.8"/>
<circle cx="182.55" cy="769.67" r="4.8" fill="#5a66ec" fill-opacity="1.0" stroke="#1a1a40" stroke-width="0.8"/>
<circle cx="186.19" cy="769.78" r="4.8" fill="#5a66ec" fill-opacity="1.0" stroke="#1a1a40" stroke-width="0.8"/>
<circle cx="189.83" cy="769.90" r="4.8" fill="#5a66ec" fill-opacity="1.0" stroke="#1a1a40" stroke-width="0.8"/>
<circle cx="193.46" cy="770.02" r="4.8" fill="#5a66ec" fill-opacity="1.0" stroke="#1a1a40" stroke-width="0.8"/>
<circle cx="197.10" cy="770.14" r="4.8" fill="#5a66ec" fill-opacity="1.0" stroke="#1a1a40" stroke-width="0.8"/>
<circle cx="200.74" cy="770.25" r="4.8" fill="#5a66ec" fill-opacity="1.0" stroke="#1a1a40" stroke-width="0.8"/>
<circle cx="204.38" cy="770.37" r="4.8" fill="#5a66ec" fill-opacity="1.0" stroke="#1a1a40" stroke-width="0.8"/>
<circle cx="208.02" cy="770.49" r="4.8" fill="#5a66ec" fill-opacity="1.0" stroke="#1a1a40" stroke-width="0.8"/>
<circle cx="211.65" cy="770.61" r="4.8" fill="#5a66ec" fill-opacity="1.0" stroke="#1a1a40" stroke-width="0.8"/>
<circle cx="215.29" cy="770.72" r="4.8" fill="#5a66ec" fill-opacity="1.0" stroke="#1a1a40" stroke-width="0.8"/>
<circle cx="218.93" cy="770.84" r="4.8" fill="#5a66ec" fill-opacity="1.0" stroke="#1a1a40" stroke-width="0.8"/>
<circle cx="222.57" cy="770.96" r="4.8" fill="#5a66ec" fill-opacity="1.0" stroke="#1a1a40" stroke-width="0.8"/>
<circle cx="226.21" cy="771.08" r="4.8" fill="#5a66ec" fill-opacity="1.0" stroke="#1a1a40" stroke-width="0.8"/>
<circle cx="229.84" cy="771.19" r="4.8" fill="#5a66ec" fill-opacity="1.0" stroke="#1a1a40" stroke-width="0.8"/>
<circle cx="233.48" cy="771.28" r="4.8" fill="#5a66ec" fill-opacity="1.0" stroke="#1a1a40" stroke-width="0.8"/>
<circle cx="237.12" cy="771.36" r="4.8" fill="#5a66ec" fill-opacity="1.0" stroke="#1a1a40" stroke-width="0.8"/>
<circle cx="240.76" cy="771.44" r="4.8" fill="#5a66ec" fill-opacity="1.0" stroke="#1a1a40" stroke-width="0.8"/>
<circle cx="244.40" cy="771.53" r="4.8" fill="#5a66ec" fill-opacity="1.0" stroke="#1a1a40" stroke-width="0.8"/>
<circle cx="248.03" cy="771.61" r="4.8" fill="#5a66ec" fill-opacity="1.0" stroke="#1a1a40" stroke-width="0.8"/>
<circle cx="251.67" cy="771.69" r="4.8" fill="#5a66ec" fill-opacity="1.0" stroke="#1a1a40" stroke-width="0.8"/>
<circle cx="255.31" cy="771.77" r="4.8" fill="#5a66ec" fill-opacity="1.0" stroke="#1a1a40" stroke-width="0.8"/>
<circle cx="258.95" cy="771.85" r="4.8" fill="#5a66ec" fill-opacity="1.0" stroke="#1a1a40" stroke-width="0.8"/>
<circle cx="262.59" cy="771.93" r="4.8" fill="#5a66ec" fill-opacity="1.0" stroke="#1a1a40" stroke-width="0.8"/>
<circle cx="266.22" cy="772.01" r="4.8" fill="#5a66ec" fill-opacity="1.0" stroke="#1a1a40" stroke-width="0.8"/>
<circle cx="269.86" cy="772.09" r="4.8" fill="#5a66ec" fill-opacity="1.0" stroke="#1a1a40" stroke-width="0.8"/>
<circle cx="273.50" cy="772.17" r="4.8" fill="#5a66ec" fill-opacity="1.0" stroke="#1a1a40" stroke-width="0.8"/>
<circle cx="277.14" cy="772.25" r="4.8" fill="#5a66ec" fill-opacity="1.0" stroke="#1a1a40" stroke-width="0.8"/>
<circle cx="280.77" cy="772.33" r="4.8" fill="#5a66ec" fill-opacity="1.0" stroke="#1a1a40" stroke-width="0.8"/>
<circle cx="284.41" cy="772.41" r="4.8" fill="#5a66ec" fill-opacity="1.0" stroke="#1a1a40" stroke-width="0.8"/>
<circle cx="288.05" cy="772.49" r="4.8" fill="#5a66ec" fill-opacity="1.0" stroke="#1a1a40" stroke-width="0.8"/>
<circle cx="291.69" cy="772.57" r="4.8" fill="#5a66ec" fill-opacity="1.0" stroke="#1a1a40" stroke-width="0.8"/>
<circle cx="295.33" cy="772.65" r="4.8" fill="#5a66ec" fill-opacity="1.0" stroke="#1a1a40" stroke-width="0.8"/>
<circle cx="298.96" cy="772.73" r="4.8" fill="#5a66ec" fill-opacity="1.0" stroke="#1a1a40" stroke-width="0.8"/>
<circle cx="302.60" cy="772.81" r="4.8" fill="#5a66ec" fill-opacity="1.0" stroke="#1a1a40" stroke-width="0.8"/>
<circle cx="306.24" cy="772.89" r="4.8" fill="#5a66ec" fill-opacity="1.0" stroke="#1a1a40" stroke-width="0.8"/>
<circle cx="309.88" cy="772.97" r="4.8" fill="#5a66ec" fill-opacity="1.0" stroke="#1a1a40" stroke-width="0.8"/>
<circle cx="313.52" cy="773.06" r="4.8" fill="#5a66ec" fill-opacity="1.0" stroke="#1a1a40" stroke-width="0.8"/>
<circle cx="317.15" cy="773.14" r="4.8" fill="#5a66ec" fill-opacity="1.0" stroke="#1a1a40" stroke-width="0.8"/>
<circle cx="320.79" cy="773.22" r="4.8" fill="#5a66ec" fill-opacity="1.0" stroke="#1a1a40" stroke-width="0.8"/>
<circle cx="324.43" cy="773.30" r="4.8" fill="#5a66ec" fill-opacity="1.0" stroke="#1a1a40" stroke-width="0.8"/>
<circle cx="328.07" cy="773.38" r="4.8" fill="#5a66ec" fill-opacity="1.0" stroke="#1a1a40" stroke-width="0.8"/>
<circle cx="331.71" cy="773.46" r="4.8" fill="#5a66ec" fill-opacity="1.0" stroke="#1a1a40" stroke-width="0.8"/>
<circle cx="335.34" cy="773.54" r="4.8" fill="#5a66ec" fill-opacity="1.0" stroke="#1a1a40" stroke-width="0.8"/>
<circle cx="338.98" cy="773.62" r="4.8" fill="#5a66ec" fill-opacity="1.0" stroke="#1a1a40" stroke-width="0.8"/>
<circle cx="342.62" cy="773.70" r="4.8" fill="#5a66ec" fill-opacity="1.0" stroke="#1a1a40" stroke-width="0.8"/>
<circle cx="346.26" cy="773.78" r="4.8" fill="#5a66ec" fill-opacity="1.0" stroke="#1a1a40" stroke-width="0.8"/>
<polygon points="80.65,699.00 78.85,702.12 75.25,702.12 73.45,699.00 75.25,695.88 78.85,695.88" fill="#5566ee" stroke="#1a1a40" stroke-width="0.7"/>
<polygon points="83.41,697.00 81.61,700.12 78.01,700.12 76.21,697.00 78.01,693.88 81.61,693.88" fill="#5566ee" stroke="#1a1a40" stroke-width="0.7"/>
<polygon points="86.16,694.02 84.36,697.14 80.76,697.14 78.96,694.02 80.76,690.90 84.36,690.90" fill="#5566ee" stroke="#1a1a40" stroke-width="0.7"/>
<polygon points="88.92,693.26 87.12,696.38 83.52,696.38 81.72,693.26 83.52,690.14 87.12,690.14" fill="#5566ee" stroke="#1a1a40" stroke-width="0.7"/>
<polygon points="91.68,693.51 89.88,696.63 86.28,696.63 84.48,693.51 86.28,690.39 89.88,690.39" fill="#5566ee" stroke="#1a1a40" stroke-width="0.7"/>
<polygon points="94.43,692.47 92.63,695.59 89.03,695.59 87.23,692.47 89.03,689.35 92.63,689.35" fill="#5566ee" stroke="#1a1a40" stroke-width="0.7"/>
<polygon points="97.19,692.76 95.39,695.87 91.79,695.87 89.99,692.76 91.79,689.64 95.39,689.64" fill="#5566ee" stroke="#1a1a40" stroke-width="0.7"/>
<polygon points="99.94,695.11 98.14,698.22 94.54,698.22 92.74,695.11 94.54,691.99 98.14,691.99" fill="#5566ee" stroke="#1a1a40" stroke-width="0.7"/>
<polygon points="102.70,695.16 100.90,698.27 97.30,698.27 95.50,695.16 97.30,692.04 100.90,692.04" fill="#5566ee" stroke="#1a1a40" stroke-width="0.7"/>
<polygon points="105.46,695.49 103.66,698.61 100.06,698.61 98.26,695.49 100.06,692.37 103.66,692.37" fill="#5566ee" stroke="#1a1a40" stroke-width="0.7"/>
<polygon points="108.21,694.33 106.41,697.45 102.81,697.45 101.01,694.33 102.81,691.22 106.41,691.22" fill="#5566ee" stroke="#1a1a40" stroke-width="0.7"/>
<polygon points="110.97,691.69 109.17,694.81 105.57,694.81 103.77,691.69 105.57,688.57 109.17,688.57" fill="#5566ee" stroke="#1a1a40" stroke-width="0.7"/>
<polygon points="113.72,692.92 111.92,696.04 108.32,696.04 106.52,692.92 108.32,689.81 111.92,689.81" fill="#5566ee" stroke="#1a1a40" stroke-width="0.7"/>
<polygon points="116.48,696.02 114.68,699.14 111.08,699.14 109.28,696.02 111.08,692.90 114.68,692.90" fill="#5566ee" stroke="#1a1a40" stroke-width="0.7"/>
<polygon points="119.24,696.13 117.44,699.25 113.84,699.25 112.04,696.13 113.84,693.01 117.44,693.01" fill="#5566ee" stroke="#1a1a40" stroke-width="0.7"/>
<polygon points="121.99,695.29 120.19,698.40 116.59,698.40 114.79,695.29 116.59,692.17 120.19,692.17" fill="#5566ee" stroke="#1a1a40" stroke-width="0.7"/>
<polygon points="124.75,695.45 122.95,698.56 119.35,698.56 117.55,695.45 119.35,692.33 122.95,692.33" fill="#5566ee" stroke="#1a1a40" stroke-width="0.7"/>
<polygon points="127.50,693.59 125.70,696.70 122.10,696.70 120.30,693.59 122.10,690.47 125.70,690.47" fill="#5566ee" stroke="#1a1a40" stroke-width="0.7"/>
<polygon points="130.26,690.86 128.46,693.98 124.86,693.98 123.06,690.86 124.86,687.74 128.46,687.74" fill="#5566ee" stroke="#1a1a40" stroke-width="0.7"/>
<polygon points="133.02,690.58 131.22,693.70 127.62,693.70 125.82,690.58 127.62,687.47 131.22,687.47" fill="#5566ee" stroke="#1a1a40" stroke-width="0.7"/>
<polygon points="135.77,696.93 133.97,700.05 130.37,700.05 128.57,696.93 130.37,693.81 133.97,693.81" fill="#5566ee" stroke="#1a1a40" stroke-width="0.7"/>
<polygon points="138.53,695.18 136.73,698.30 133.13,698.30 131.33,695.18 133.13,692.06 136.73,692.06" fill="#5566ee" stroke="#1a1a40" stroke-width="0.7"/>
<polygon points="141.28,695.82 139.48,698.94 135.88,698.94 134.08,695.82 135.88,692.70 139.48,692.70" fill="#5566ee" stroke="#1a1a40" stroke-width="0.7"/>
<polygon points="144.04,694.20 142.24,697.32 138.64,697.32 136.84,694.20 138.64,691.08 142.24,691.08" fill="#5566ee" stroke="#1a1a40" stroke-width="0.7"/>
<polygon points="146.80,692.42 145.00,695.54 141.40,695.54 139.60,692.42 141.40,689.30 145.00,689.30" fill="#5566ee" stroke="#1a1a40" stroke-width="0.7"/>
<polygon points="149.55,693.49 147.75,696.61 144.15,696.61 142.35,693.49 144.15,690.37 147.75,690.37" fill="#5566ee" stroke="#1a1a40" stroke-width="0.7"/>
<polygon points="152.31,690.84 150.51,693.96 146.91,693.96 145.11,690.84 146.91,687.73 150.51,687.73" fill="#5566ee" stroke="#1a1a40" stroke-width="0.7"/>
<polygon points="155.06,693.84 153.26,696.96 149.66,696.96 147.86,693.84 149.66,690.72 153.26,690.72" fill="#5566ee" stroke="#1a1a40" stroke-width="0.7"/>
<polygon points="157.82,697.20 156.02,700.32 152.42,700.32 150.62,697.20 152.42,694.08 156.02,694.08" fill="#5566ee" stroke="#1a1a40" stroke-width="0.7"/>
<polygon points="160.58,692.47 158.78,695.59 155.18,695.59 153.38,692.47 155.18,689.35 158.78,689.35" fill="#5566ee" stroke="#1a1a40" stroke-width="0.7"/>
<polygon points="163.33,694.26 161.53,697.38 157.93,697.38 156.13,694.26 157.93,691.14 161.53,691.14" fill="#5566ee" stroke="#1a1a40" stroke-width="0.7"/>
<polygon points="166.09,693.80 164.29,696.92 160.69,696.92 158.89,693.80 160.69,690.68 164.29,690.68" fill="#5566ee" stroke="#1a1a40" stroke-width="0.7"/>
<polygon points="168.84,692.25 167.04,695.37 163.44,695.37 161.64,692.25 163.44,689.14 167.04,689.14" fill="#5566ee" stroke="#1a1a40" stroke-width="0.7"/>
<polygon points="171.60,694.67 169.80,697.78 166.20,697.78 164.40,694.67 166.20,691.55 169.80,691.55" fill="#5566ee" stroke="#1a1a40" stroke-width="0.7"/>
<polygon points="174.36,696.61 172.56,699.72 168.96,699.72 167.16,696.61 168.96,693.49 172.56,693.49" fill="#5566ee" stroke="#1a1a40" stroke-width="0.7"/>
<polygon points="177.11,693.39 175.31,696.51 171.71,696.51 169.91,693.39 171.71,690.27 175.31,690.27" fill="#5566ee" stroke="#1a1a40" stroke-width="0.7"/>
<polygon points="179.87,692.73 178.07,695.85 174.47,695.85 172.67,692.73 174.47,689.61 178.07,689.61" fill="#5566ee" stroke="#1a1a40" stroke-width="0.7"/>
<polygon points="182.62,692.96 180.82,696.07 177.22,696.07 175.42,692.96 177.22,689.84 180.82,689.84" fill="#5566ee" stroke="#1a1a40" stroke-width="0.7"/>
<polygon points="185.38,693.35 183.58,696.47 179.98,696.47 178.18,693.35 179.98,690.23 183.58,690.23" fill="#5566ee" stroke="#1a1a40" stroke-width="0.7"/>
<polygon points="188.14,692.10 186.34,695.22 182.74,695.22 180.94,692.10 182.74,688.99 186.34,688.99" fill="#5566ee" stroke="#1a1a40" stroke-width="0.7"/>
<polygon points="190.89,696.86 189.09,699.97 185.49,699.97 183.69,696.86 185.49,693.74 189.09,693.74" fill="#5566ee" stroke="#1a1a40" stroke-width="0.7"/>
<polygon points="193.65,694.84 191.85,697.96 188.25,697.96 186.45,694.84 188.25,691.73 191.85,691.73" fill="#5566ee" stroke="#1a1a40" stroke-width="0.7"/>
<polygon points="196.40,694.36 194.60,697.48 191.00,697.48 189.20,694.36 191.00,691.24 194.60,691.24" fill="#5566ee" stroke="#1a1a40" stroke-width="0.7"/>
<polygon points="199.16,692.64 197.36,695.75 193.76,695.75 191.96,692.64 193.76,689.52 197.36,689.52" fill="#5566ee" stroke="#1a1a40" stroke-width="0.7"/>
<polygon points="201.92,692.70 200.12,695.82 196.52,695.82 194.72,692.70 196.52,689.58 200.12,689.58" fill="#5566ee" stroke="#1a1a40" stroke-width="0.7"/>
<polygon points="204.67,692.85 202.87,695.97 199.27,695.97 197.47,692.85 199.27,689.73 202.87,689.73" fill="#5566ee" stroke="#1a1a40" stroke-width="0.7"/>
<polygon points="207.43,696.20 205.63,699.32 202.03,699.32 200.23,696.20 202.03,693.08 205.63,693.08" fill="#5566ee" stroke="#1a1a40" stroke-width="0.7"/>
<polygon points="210.18,696.22 208.38,699.34 204.78,699.34 202.98,696.22 204.78,693.10 208.38,693.10" fill="#5566ee" stroke="#1a1a40" stroke-width="0.7"/>
<polygon points="212.94,694.41 211.14,697.53 207.54,697.53 205.74,694.41 207.54,691.29 211.14,691.29" fill="#5566ee" stroke="#1a1a40" stroke-width="0.7"/>
<polygon points="215.70,693.63 213.90,696.75 210.30,696.75 208.50,693.63 210.30,690.52 213.90,690.52" fill="#5566ee" stroke="#1a1a40" stroke-width="0.7"/>
<polygon points="218.45,693.51 216.65,696.63 213.05,696.63 211.25,693.51 213.05,690.39 216.65,690.39" fill="#5566ee" stroke="#1a1a40" stroke-width="0.7"/>
<polygon points="221.21,692.52 219.41,695.63 215.81,695.63 214.01,692.52 215.81,689.40 219.41,689.40" fill="#5566ee" stroke="#1a1a40" stroke-width="0.7"/>
<polygon points="223.96,692.55 222.16,695.66 218.56,695.66 216.76,692.55 218.56,689.43 222.16,689.43" fill="#5566ee" stroke="#1a1a40" stroke-width="0.7"/>
<polygon points="226.72,696.38 224.92,699.49 221.32,699.49 219.52,696.38 221.32,693.26 224.92,693.26" fill="#5566ee" stroke="#1a1a40" stroke-width="0.7"/>
<polygon points="229.48,697.18 227.68,700.30 224.08,700.30 222.28,697.18 224.08,694.06 227.68,694.06" fill="#5566ee" stroke="#1a1a40" stroke-width="0.7"/>
<polygon points="232.23,694.46 230.43,697.58 226.83,697.58 225.03,694.46 226.83,691.34 230.43,691.34" fill="#5566ee" stroke="#1a1a40" stroke-width="0.7"/>
<polygon points="234.99,693.70 233.19,696.81 229.59,696.81 227.79,693.70 229.59,690.58 233.19,690.58" fill="#5566ee" stroke="#1a1a40" stroke-width="0.7"/>
<polygon points="237.74,692.13 235.94,695.24 232.34,695.24 230.54,692.13 232.34,689.01 235.94,689.01" fill="#5566ee" stroke="#1a1a40" stroke-width="0.7"/>
<polygon points="240.50,692.43 238.70,695.55 235.10,695.55 233.30,692.43 235.10,689.31 238.70,689.31" fill="#5566ee" stroke="#1a1a40" stroke-width="0.7"/>
<polygon points="243.26,692.33 241.46,695.45 237.86,695.45 236.06,692.33 237.86,689.22 241.46,689.22" fill="#5566ee" stroke="#1a1a40" stroke-width="0.7"/>
<polygon points="246.01,695.15 244.21,698.27 240.61,698.27 238.81,695.15 240.61,692.04 244.21,692.04" fill="#5566ee" stroke="#1a1a40" stroke-width="0.7"/>
<polygon points="248.77,695.09 246.97,698.20 243.37,698.20 241.57,695.09 243.37,691.97 246.97,691.97" fill="#5566ee" stroke="#1a1a40" stroke-width="0.7"/>
<polygon points="251.52,695.10 249.72,698.22 246.12,698.22 244.32,695.10 246.12,691.98 249.72,691.98" fill="#5566ee" stroke="#1a1a40" stroke-width="0.7"/>
<polygon points="254.28,693.49 252.48,696.61 248.88,696.61 247.08,693.49 248.88,690.38 252.48,690.38" fill="#5566ee" stroke="#1a1a40" stroke-width="0.7"/>
<polygon points="257.04,692.34 255.24,695.46 251.64,695.46 249.84,692.34 251.64,689.23 255.24,689.23" fill="#5566ee" stroke="#1a1a40" stroke-width="0.7"/>
<polygon points="259.79,693.08 257.99,696.20 254.39,696.20 252.59,693.08 254.39,689.96 257.99,689.96" fill="#5566ee" stroke="#1a1a40" stroke-width="0.7"/>
<polygon points="262.55,696.45 260.75,699.56 257.15,699.56 255.35,696.45 257.15,693.33 260.75,693.33" fill="#5566ee" stroke="#1a1a40" stroke-width="0.7"/>
<polygon points="265.30,695.99 263.50,699.11 259.90,699.11 258.10,695.99 259.90,692.87 263.50,692.87" fill="#5566ee" stroke="#1a1a40" stroke-width="0.7"/>
<polygon points="268.06,696.00 266.26,699.12 262.66,699.12 260.86,696.00 262.66,692.89 266.26,692.89" fill="#5566ee" stroke="#1a1a40" stroke-width="0.7"/>
<polygon points="270.82,695.22 269.02,698.34 265.42,698.34 263.62,695.22 265.42,692.10 269.02,692.10" fill="#5566ee" stroke="#1a1a40" stroke-width="0.7"/>
<polygon points="273.57,692.97 271.77,696.09 268.17,696.09 266.37,692.97 268.17,689.85 271.77,689.85" fill="#5566ee" stroke="#1a1a40" stroke-width="0.7"/>
<polygon points="276.33,692.04 274.53,695.15 270.93,695.15 269.13,692.04 270.93,688.92 274.53,688.92" fill="#5566ee" stroke="#1a1a40" stroke-width="0.7"/>
<polygon points="279.08,692.09 277.28,695.21 273.68,695.21 271.88,692.09 273.68,688.97 277.28,688.97" fill="#5566ee" stroke="#1a1a40" stroke-width="0.7"/>
<polygon points="281.84,695.91 280.04,699.03 276.44,699.03 274.64,695.91 276.44,692.79 280.04,692.79" fill="#5566ee" stroke="#1a1a40" stroke-width="0.7"/>
<polygon points="284.60,693.39 282.80,696.51 279.20,696.51 277.40,693.39 279.20,690.27 282.80,690.27" fill="#5566ee" stroke="#1a1a40" stroke-width="0.7"/>
<polygon points="287.35,695.81 285.55,698.92 281.95,698.92 280.15,695.81 281.95,692.69 285.55,692.69" fill="#5566ee" stroke="#1a1a40" stroke-width="0.7"/>
<polygon points="290.11,693.79 288.31,696.91 284.71,696.91 282.91,693.79 284.71,690.67 288.31,690.67" fill="#5566ee" stroke="#1a1a40" stroke-width="0.7"/>
<polygon points="292.86,693.75 291.06,696.87 287.46,696.87 285.66,693.75 287.46,690.63 291.06,690.63" fill="#5566ee" stroke="#1a1a40" stroke-width="0.7"/>
<polygon points="295.62,691.08 293.82,694.20 290.22,694.20 288.42,691.08 290.22,687.97 293.82,687.97" fill="#5566ee" stroke="#1a1a40" stroke-width="0.7"/>
<polygon points="298.38,697.79 296.58,700.91 292.98,700.91 291.18,697.79 292.98,694.67 296.58,694.67" fill="#5566ee" stroke="#1a1a40" stroke-width="0.7"/>
<polygon points="301.13,695.15 299.33,698.27 295.73,698.27 293.93,695.15 295.73,692.04 299.33,692.04" fill="#5566ee" stroke="#1a1a40" stroke-width="0.7"/>
<polygon points="303.89,694.88 302.09,697.99 298.49,697.99 296.69,694.88 298.49,691.76 302.09,691.76" fill="#5566ee" stroke="#1a1a40" stroke-width="0.7"/>
<polygon points="306.64,692.83 304.84,695.94 301.24,695.94 299.44,692.83 301.24,689.71 304.84,689.71" fill="#5566ee" stroke="#1a1a40" stroke-width="0.7"/>
<polygon points="309.40,693.30 307.60,696.42 304.00,696.42 302.20,693.30 304.00,690.19 307.60,690.19" fill="#5566ee" stroke="#1a1a40" stroke-width="0.7"/>
<polygon points="312.16,692.48 310.36,695.60 306.76,695.60 304.96,692.48 306.76,689.36 310.36,689.36" fill="#5566ee" stroke="#1a1a40" stroke-width="0.7"/>
<polygon points="314.91,691.77 313.11,694.89 309.51,694.89 307.71,691.77 309.51,688.65 313.11,688.65" fill="#5566ee" stroke="#1a1a40" stroke-width="0.7"/>
<polygon points="317.67,696.64 315.87,699.75 312.27,699.75 310.47,696.64 312.27,693.52 315.87,693.52" fill="#5566ee" stroke="#1a1a40" stroke-width="0.7"/>
<polygon points="320.42,695.50 318.62,698.62 315.02,698.62 313.22,695.50 315.02,692.38 318.62,692.38" fill="#5566ee" stroke="#1a1a40" stroke-width="0.7"/>
<polygon points="323.18,695.66 321.38,698.78 317.78,698.78 315.98,695.66 317.78,692.54 321.38,692.54" fill="#5566ee" stroke="#1a1a40" stroke-width="0.7"/>
<polygon points="325.94,693.46 324.14,696.57 320.54,696.57 318.74,693.46 320.54,690.34 324.14,690.34" fill="#5566ee" stroke="#1a1a40" stroke-width="0.7"/>
<polygon points="328.69,692.17 326.89,695.29 323.29,695.29 321.49,692.17 323.29,689.05 326.89,689.05" fill="#5566ee" stroke="#1a1a40" stroke-width="0.7"/>
<polygon points="331.45,692.39 329.65,695.51 326.05,695.51 324.25,692.39 326.05,689.27 329.65,689.27" fill="#5566ee" stroke="#1a1a40" stroke-width="0.7"/>
<polygon points="334.20,692.28 332.40,695.40 328.80,695.40 327.00,692.28 328.80,689.16 332.40,689.16" fill="#5566ee" stroke="#1a1a40" stroke-width="0.7"/>
<polygon points="336.96,697.14 335.16,700.26 331.56,700.26 329.76,697.14 331.56,694.02 335.16,694.02" fill="#5566ee" stroke="#1a1a40" stroke-width="0.7"/>
<polygon points="339.72,695.95 337.92,699.07 334.32,699.07 332.52,695.95 334.32,692.83 337.92,692.83" fill="#5566ee" stroke="#1a1a40" stroke-width="0.7"/>
<polygon points="342.47,692.61 340.67,695.73 337.07,695.73 335.27,692.61 337.07,689.50 340.67,689.50" fill="#5566ee" stroke="#1a1a40" stroke-width="0.7"/>
<polygon points="345.23,694.00 343.43,697.12 339.83,697.12 338.03,694.00 339.83,690.88 343.43,690.88" fill="#5566ee" stroke="#1a1a40" stroke-width="0.7"/>
<polygon points="347.98,694.32 346.18,697.44 342.58,697.44 340.78,694.32 342.58,691.21 346.18,691.21" fill="#5566ee" stroke="#1a1a40" stroke-width="0.7"/>
<polygon points="350.74,692.17 348.94,695.29 345.34,695.29 343.54,692.17 345.34,689.05 348.94,689.05" fill="#5566ee" stroke="#1a1a40" stroke-width="0.7"/>
<polygon points="353.50,695.83 351.70,698.95 348.10,698.95 346.30,695.83 348.10,692.71 351.70,692.71" fill="#5566ee" stroke="#1a1a40" stroke-width="0.7"/>
<path d="M76.5,680.8 H627.7 V826.6 H76.5 Z" stroke="#000" stroke-width="1.25" fill="none"/>
<line x1="76.50" y1="808.09" x2="73.50" y2="808.09" stroke="#000" stroke-width="1.2"/>
<line x1="76.50" y1="771.66" x2="73.50" y2="771.66" stroke="#000" stroke-width="1.2"/>
<line x1="76.50" y1="735.24" x2="73.50" y2="735.24" stroke="#000" stroke-width="1.2"/>
<line x1="76.50" y1="698.81" x2="73.50" y2="698.81" stroke="#000" stroke-width="1.2"/>
<line x1="76.50" y1="826.30" x2="71.00" y2="826.30" stroke="#000" stroke-width="1.2"/>
<text x="66.00" y="832.00" font-size="16" text-anchor="end" font-weight="normal" fill="#000">0</text>
<line x1="76.50" y1="789.88" x2="71.00" y2="789.88" stroke="#000" stroke-width="1.2"/>
<text x="66.00" y="795.58" font-size="16" text-anchor="end" font-weight="normal" fill="#000">500</text>
<line x1="76.50" y1="753.45" x2="71.00" y2="753.45" stroke="#000" stroke-width="1.2"/>
<text x="66.00" y="759.15" font-size="16" text-anchor="end" font-weight="normal" fill="#000">1000</text>
<line x1="76.50" y1="717.02" x2="71.00" y2="717.02" stroke="#000" stroke-width="1.2"/>
<text x="66.00" y="722.73" font-size="16" text-anchor="end" font-weight="normal" fill="#000">1500</text>
<line x1="76.50" y1="680.60" x2="71.00" y2="680.60" stroke="#000" stroke-width="1.2"/>
<text x="66.00" y="686.30" font-size="16" text-anchor="end" font-weight="normal" fill="#000">2000</text>
<line x1="627.70" y1="809.92" x2="630.70" y2="809.92" stroke="#000" stroke-width="1.2"/>
<line x1="627.70" y1="776.77" x2="630.70" y2="776.77" stroke="#000" stroke-width="1.2"/>
<line x1="627.70" y1="743.62" x2="630.70" y2="743.62" stroke="#000" stroke-width="1.2"/>
<line x1="627.70" y1="710.48" x2="630.70" y2="710.48" stroke="#000" stroke-width="1.2"/>
<line x1="627.70" y1="826.50" x2="633.20" y2="826.50" stroke="#000" stroke-width="1.2"/>
<text x="638.50" y="832.20" font-size="16" text-anchor="start" font-weight="normal" fill="#000">80</text>
<line x1="627.70" y1="793.35" x2="633.20" y2="793.35" stroke="#000" stroke-width="1.2"/>
<text x="638.50" y="799.05" font-size="16" text-anchor="start" font-weight="normal" fill="#000">85</text>
<line x1="627.70" y1="760.20" x2="633.20" y2="760.20" stroke="#000" stroke-width="1.2"/>
<text x="638.50" y="765.90" font-size="16" text-anchor="start" font-weight="normal" fill="#000">90</text>
<line x1="627.70" y1="727.05" x2="633.20" y2="727.05" stroke="#000" stroke-width="1.2"/>
<text x="638.50" y="732.75" font-size="16" text-anchor="start" font-weight="normal" fill="#000">95</text>
<line x1="627.70" y1="693.90" x2="633.20" y2="693.90" stroke="#000" stroke-width="1.2"/>
<text x="638.50" y="699.60" font-size="16" text-anchor="start" font-weight="normal" fill="#000">100</text>
<line x1="104.06" y1="826.60" x2="104.06" y2="829.60" stroke="#000" stroke-width="1.2"/>
<line x1="159.18" y1="826.60" x2="159.18" y2="829.60" stroke="#000" stroke-width="1.2"/>
<line x1="214.30" y1="826.60" x2="214.30" y2="829.60" stroke="#000" stroke-width="1.2"/>
<line x1="269.42" y1="826.60" x2="269.42" y2="829.60" stroke="#000" stroke-width="1.2"/>
<line x1="324.54" y1="826.60" x2="324.54" y2="829.60" stroke="#000" stroke-width="1.2"/>
<line x1="379.66" y1="826.60" x2="379.66" y2="829.60" stroke="#000" stroke-width="1.2"/>
<line x1="434.78" y1="826.60" x2="434.78" y2="829.60" stroke="#000" stroke-width="1.2"/>
<line x1="489.90" y1="826.60" x2="489.90" y2="829.60" stroke="#000" stroke-width="1.2"/>
<line x1="545.02" y1="826.60" x2="545.02" y2="829.60" stroke="#000" stroke-width="1.2"/>
<line x1="600.14" y1="826.60" x2="600.14" y2="829.60" stroke="#000" stroke-width="1.2"/>
<line x1="76.50" y1="826.60" x2="76.50" y2="832.10" stroke="#000" stroke-width="1.2"/>
<text x="76.50" y="850.20" font-size="16" text-anchor="middle" font-weight="normal" fill="#000">0</text>
<line x1="131.62" y1="826.60" x2="131.62" y2="832.10" stroke="#000" stroke-width="1.2"/>
<text x="131.62" y="850.20" font-size="16" text-anchor="middle" font-weight="normal" fill="#000">100</text>
<line x1="186.74" y1="826.60" x2="186.74" y2="832.10" stroke="#000" stroke-width="1.2"/>
<text x="186.74" y="850.20" font-size="16" text-anchor="middle" font-weight="normal" fill="#000">200</text>
<line x1="241.86" y1="826.60" x2="241.86" y2="832.10" stroke="#000" stroke-width="1.2"/>
<text x="241.86" y="850.20" font-size="16" text-anchor="middle" font-weight="normal" fill="#000">300</text>
<line x1="296.98" y1="826.60" x2="296.98" y2="832.10" stroke="#000" stroke-width="1.2"/>
<text x="296.98" y="850.20" font-size="16" text-anchor="middle" font-weight="normal" fill="#000">400</text>
<line x1="352.10" y1="826.60" x2="352.10" y2="832.10" stroke="#000" stroke-width="1.2"/>
<text x="352.10" y="850.20" font-size="16" text-anchor="middle" font-weight="normal" fill="#000">500</text>
<line x1="407.22" y1="826.60" x2="407.22" y2="832.10" stroke="#000" stroke-width="1.2"/>
<text x="407.22" y="850.20" font-size="16" text-anchor="middle" font-weight="normal" fill="#000">600</text>
<line x1="462.34" y1="826.60" x2="462.34" y2="832.10" stroke="#000" stroke-width="1.2"/>
<text x="462.34" y="850.20" font-size="16" text-anchor="middle" font-weight="normal" fill="#000">700</text>
<line x1="517.46" y1="826.60" x2="517.46" y2="832.10" stroke="#000" stroke-width="1.2"/>
<text x="517.46" y="850.20" font-size="16" text-anchor="middle" font-weight="normal" fill="#000">800</text>
<line x1="572.58" y1="826.60" x2="572.58" y2="832.10" stroke="#000" stroke-width="1.2"/>
<text x="572.58" y="850.20" font-size="16" text-anchor="middle" font-weight="normal" fill="#000">900</text>
<line x1="627.70" y1="826.60" x2="627.70" y2="832.10" stroke="#000" stroke-width="1.2"/>
<text x="627.70" y="850.20" font-size="16" text-anchor="middle" font-weight="normal" fill="#000">1000</text>
<text x="11.50" y="745.60" font-size="15" text-anchor="middle" font-weight="normal" fill="#000" transform="rotate(-90 11.50 745.60)" textLength="126" lengthAdjust="spacingAndGlyphs">Discharge Capacity</text>
<text x="31.00" y="746.80" font-size="15" text-anchor="middle" font-weight="normal" fill="#000" transform="rotate(-90 31.00 746.80)" textLength="41" lengthAdjust="spacingAndGlyphs">(mAh)</text>
<text x="682.00" y="759.70" font-size="15" text-anchor="middle" font-weight="normal" fill="#000" transform="rotate(-90 682.00 759.70)" textLength="163.5" lengthAdjust="spacingAndGlyphs">Coulombic efficiency (%)</text>
<text x="353.60" y="869.50" font-size="15" text-anchor="middle" font-weight="normal" fill="#000" textLength="92" lengthAdjust="spacingAndGlyphs">Cycle number</text>
<text x="146.40" y="721.70" font-size="15" text-anchor="start" font-weight="normal" fill="#000" textLength="107.6" lengthAdjust="spacingAndGlyphs">2 Ah pouch cell</text>
<text x="370.9" y="729.9" font-size="15" fill="#4a8ac8" textLength="236.3" lengthAdjust="spacingAndGlyphs">80% w.r.t 1<tspan font-size="9" dy="-7">st</tspan><tspan dy="7"> cycle for 1000 cycles</tspan></text>
<text x="386.2" y="780" font-size="15" fill="#2a4a8a" textLength="228.2" lengthAdjust="spacingAndGlyphs">90% w.r.t 1<tspan font-size="9" dy="-7">st</tspan><tspan dy="7"> cycle for 500 cycles</tspan></text>
<text x="505.10" y="816.20" font-size="15" text-anchor="start" font-weight="normal" fill="#000" textLength="108.3" lengthAdjust="spacingAndGlyphs">1C (2A)/1C (2A)</text>
<line x1="597.40" y1="736.70" x2="617.00" y2="745.00" stroke="#90bce8" stroke-width="1.2"/>
<path d="M624.00,748.30 L614.03,748.64 L617.47,740.76 Z" fill="#90bce8" stroke="none"/>
<line x1="380.10" y1="773.80" x2="364.00" y2="773.80" stroke="#2a4a8a" stroke-width="1.3"/>
<path d="M355.50,773.80 L365.80,769.60 L365.80,778.00 Z" fill="#2a4a8a" stroke="none"/>
<line x1="79.50" y1="752.20" x2="97.60" y2="752.20" stroke="#000" stroke-width="1.3"/>
<line x1="97.60" y1="745.70" x2="97.60" y2="759.00" stroke="#000" stroke-width="1.3"/>
<path d="M79.20,752.20 L87.20,748.70 L87.20,755.70 Z" fill="#000" stroke="none"/>
<path d="M604.5,703.3 V709.7 H616" stroke="#000" stroke-width="1.3" fill="none"/>
<path d="M623.70,709.70 L615.70,713.20 L615.70,706.20 Z" fill="#000" stroke="none"/>
<circle cx="104.40" cy="789.40" r="6.0" fill="#b0dcfc" fill-opacity="1.0" stroke="#223" stroke-width="0.9"/>
<text x="117.30" y="794.90" font-size="15" text-anchor="start" font-weight="normal" fill="#000" textLength="126.6" lengthAdjust="spacingAndGlyphs">2.7-4.6 V vs. graphite</text>
<circle cx="104.40" cy="811.70" r="6.0" fill="#7080f8" fill-opacity="1.0" stroke="#223" stroke-width="0.9"/>
<text x="117.30" y="816.70" font-size="15" text-anchor="start" font-weight="normal" fill="#000" textLength="126.6" lengthAdjust="spacingAndGlyphs">2.7-4.2 V vs. graphite</text>
</svg></body></html>
